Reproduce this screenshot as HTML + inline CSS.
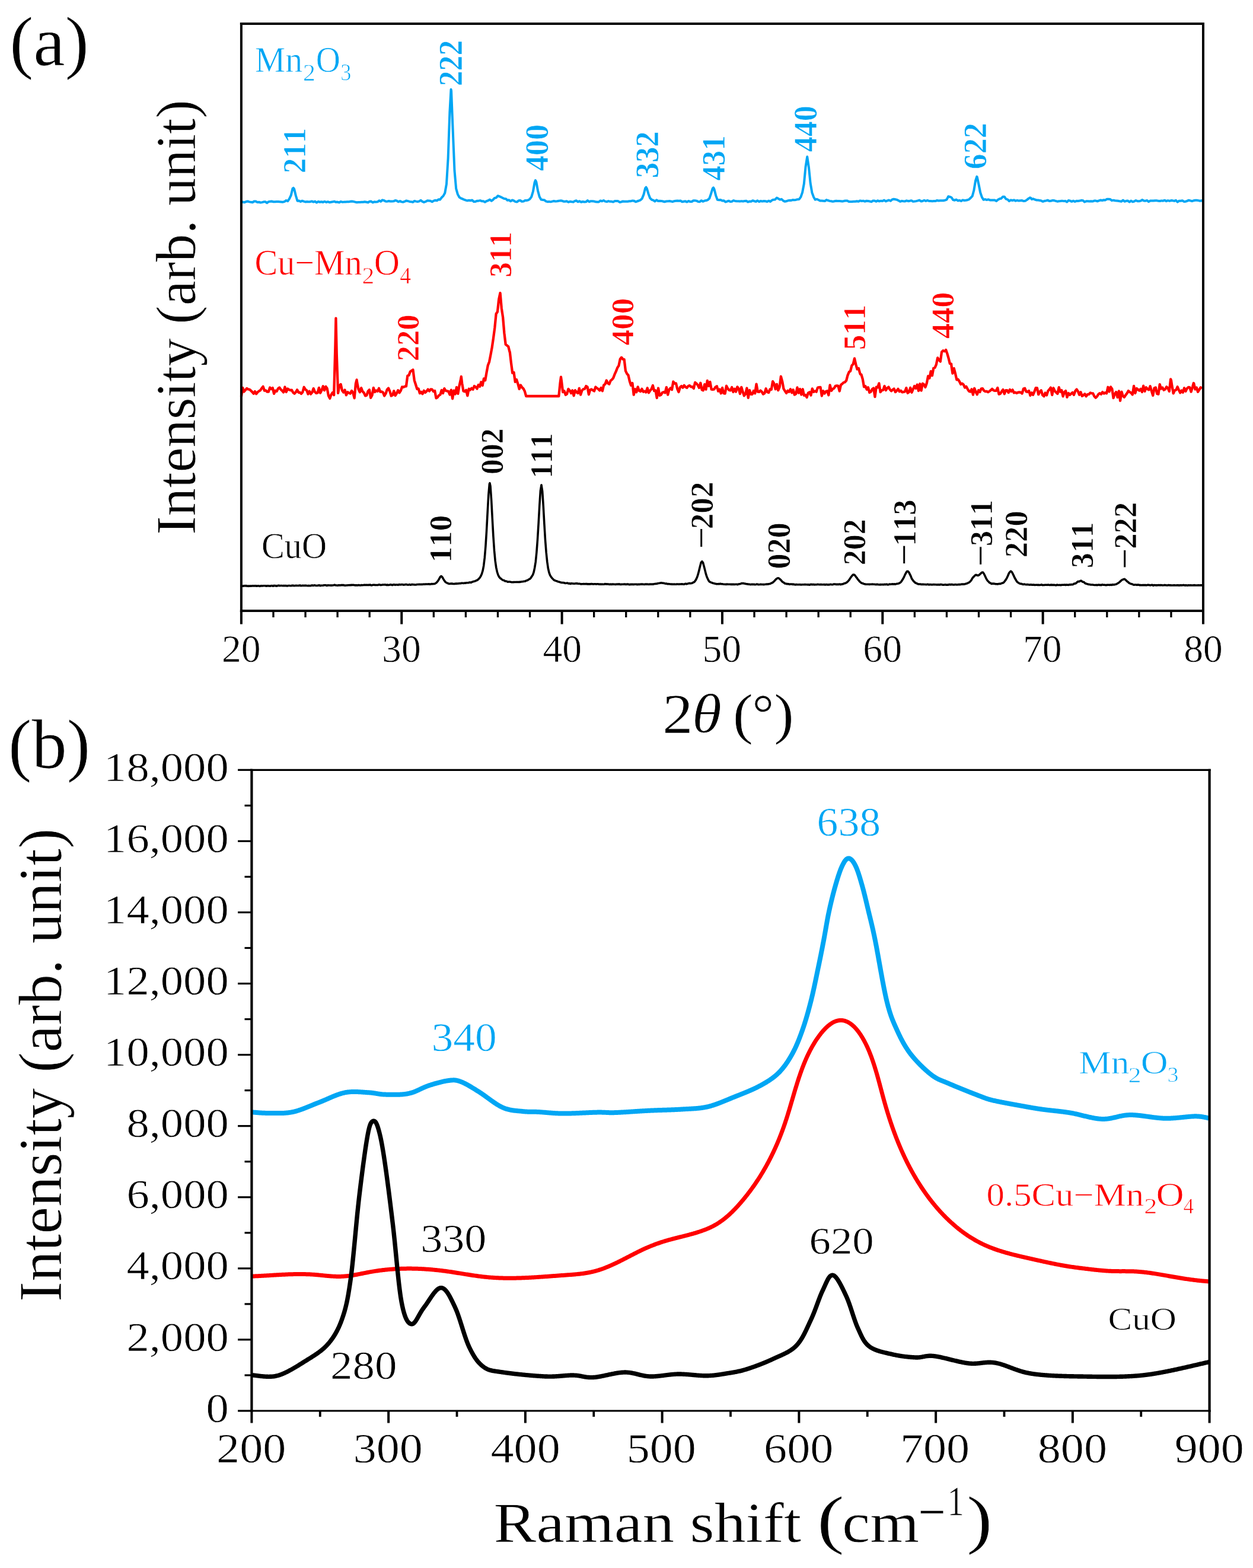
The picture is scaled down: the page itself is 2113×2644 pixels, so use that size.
<!DOCTYPE html>
<html><head><meta charset="utf-8"><title>XRD and Raman spectra</title>
<style>
html,body{margin:0;padding:0;background:#fff;}
body{width:2113px;height:2644px;overflow:hidden;}
svg{display:block;}
svg text{font-family:'Liberation Serif', 'Times New Roman', serif;font-kerning:none;text-rendering:geometricPrecision;}
</style></head><body>
<svg width="2113" height="2644" viewBox="0 0 2113 2644">
<rect width="2113" height="2644" fill="#fff"/>
<g>
<path d="M406.9 339.54 L409.6 340.74 L412.31 341.2 L415.01 340.06 L417.71 339.44 L420.42 340.38 L423.12 340.79 L425.82 341.25 L428.53 339.5 L431.23 339.44 L433.94 340.93 L436.64 340.75 L439.34 341.54 L442.05 341.11 L444.75 340.29 L447.45 340.15 L450.16 342.27 L452.86 340.11 L455.56 339.72 L458.27 339.44 L460.97 340.34 L463.67 340.35 L466.38 339.94 L469.08 340.11 L471.78 340.29 L474.49 340.52 L477.19 340.69 L479.89 339.83 L482.6 338 L485.3 339.13 L488 335.22 L490.71 329.47 L493.41 318.09 L494.76 316.87 L496.12 318.61 L498.82 329.75 L501.52 338.74 L504.23 338.55 L506.93 339.94 L509.63 338.64 L512.34 339.61 L515.04 340.44 L517.74 339.96 L520.45 340.36 L523.15 340.2 L525.85 339.4 L528.56 340.6 L531.26 339.58 L533.96 341.61 L536.67 339.84 L539.37 340.74 L542.08 340.23 L544.78 340.95 L547.48 339.78 L550.19 340.98 L552.89 340.14 L555.59 341.18 L558.3 340.7 L561 340.34 L563.7 339.65 L566.41 340.81 L569.11 340.58 L571.81 341.46 L574.52 339.94 L577.22 340.63 L579.92 340.59 L582.63 340.42 L585.33 340.36 L588.03 340.34 L590.74 339.75 L593.44 339.43 L596.14 339.89 L598.85 340.62 L601.55 341.31 L604.26 340.9 L606.96 340.95 L609.66 340.73 L612.37 340.66 L615.07 340.27 L617.77 340.7 L620.48 341.43 L623.18 339.84 L625.88 339.54 L628.59 341.5 L631.29 340.17 L633.99 340.63 L636.7 340.35 L639.4 338.25 L642.1 339.75 L644.81 337.32 L647.51 338.02 L650.21 339.59 L652.92 339.67 L655.62 339.06 L658.33 339.56 L661.03 339.56 L663.73 339.35 L666.44 338.05 L669.14 338.56 L671.84 340.29 L674.55 339.09 L677.25 340.37 L679.95 340.64 L682.66 339.59 L685.36 338.46 L688.06 339.11 L690.77 339.95 L693.47 340.14 L696.17 340.87 L698.88 338.92 L701.58 339.63 L704.28 340.07 L706.99 339.41 L709.69 337.68 L712.4 339.99 L715.1 341.02 L717.8 339.93 L720.51 338.36 L723.21 338.58 L725.91 338.86 L728.62 340.31 L731.32 338.59 L734.02 337.79 L736.73 338.31 L739.43 336.31 L742.13 336.65 L744.84 333.03 L747.54 330.39 L750.24 325.59 L752.95 310.34 L755.65 266.59 L758.36 189.51 L760.52 150.76 L761.06 153.36 L763.76 221.61 L766.47 287.49 L769.17 318.1 L771.87 327.63 L774.58 332.58 L777.28 334.3 L779.98 335.41 L782.69 336.69 L785.39 337.59 L788.09 338.39 L790.8 337.74 L793.5 338.19 L796.2 337.55 L798.91 339.93 L801.61 339.93 L804.31 338.8 L807.02 338.64 L809.72 338.11 L812.42 339.19 L815.13 339.21 L817.83 340.65 L820.54 339.11 L823.24 338.16 L825.94 336.56 L828.65 338.81 L831.35 336.83 L834.05 333.93 L836.76 333.36 L839.46 330.24 L842.16 331.19 L844.87 332.3 L847.57 333.68 L850.27 335.05 L852.98 335.14 L855.68 337.73 L858.38 337.31 L861.09 339.29 L863.79 337.44 L866.49 338.47 L869.2 340.11 L871.9 340.45 L874.61 338.33 L877.31 338.02 L880.01 339.76 L882.72 339.62 L885.42 338.04 L888.12 337.94 L890.83 337.37 L893.53 335.64 L896.23 331.85 L898.94 322.7 L901.64 307.42 L902.99 304.08 L904.34 306.84 L907.05 321.68 L909.75 331.66 L912.45 336.49 L915.16 336.97 L917.86 337.22 L920.56 339.41 L923.27 340.19 L925.97 339.89 L928.68 340.36 L931.38 339.63 L934.08 338.96 L936.79 339.61 L939.49 339.3 L942.19 338.78 L944.9 338.37 L947.6 338.54 L950.3 339.67 L953.01 339.8 L955.71 339.34 L958.41 340.77 L961.12 339.84 L963.82 340.15 L966.52 340.64 L969.23 339.11 L971.93 338.25 L974.63 340.29 L977.34 339.22 L980.04 340.72 L982.75 339.99 L985.45 340.49 L988.15 340.31 L990.86 338.17 L993.56 340.27 L996.26 339.23 L998.97 339.16 L1001.67 339.4 L1004.37 340.3 L1007.08 340.39 L1009.78 340.48 L1012.48 338.47 L1015.19 339.27 L1017.89 337.93 L1020.59 339.63 L1023.3 340.15 L1026 339.12 L1028.7 339.87 L1031.41 339.85 L1034.11 340.43 L1036.82 339.05 L1039.52 339.03 L1042.22 339.07 L1044.93 340.94 L1047.63 340.43 L1050.33 339.5 L1053.04 339.74 L1055.74 339.63 L1058.44 339.67 L1061.15 339.32 L1063.85 339.17 L1066.55 338.4 L1069.26 338.76 L1071.96 340.33 L1074.66 339.27 L1077.37 338.52 L1080.07 337.39 L1082.78 334.81 L1085.48 327.95 L1088.18 317.29 L1089.53 315.71 L1090.89 317.95 L1093.59 327.12 L1096.29 334.16 L1099 336.78 L1101.7 337.65 L1104.4 339.5 L1107.11 337.28 L1109.81 338.99 L1112.51 338.83 L1115.22 338.89 L1117.92 339.47 L1120.62 340.28 L1123.33 339.52 L1126.03 339.37 L1128.73 339.03 L1131.44 339.41 L1134.14 340.19 L1136.84 339.22 L1139.55 338.66 L1142.25 338.57 L1144.96 338.69 L1147.66 338.47 L1150.36 340.33 L1153.07 339.77 L1155.77 339.32 L1158.47 340.58 L1161.18 338.98 L1163.88 340.02 L1166.58 340.04 L1169.29 338.25 L1171.99 338.21 L1174.69 338.65 L1177.4 339.97 L1180.1 340.19 L1182.8 338.2 L1185.51 339.77 L1188.21 338.47 L1190.91 338.09 L1193.62 337.09 L1196.32 334.59 L1199.03 326.68 L1201.73 317.79 L1203.08 316.36 L1204.43 318.91 L1207.14 329.6 L1209.84 336.86 L1212.54 337.23 L1215.25 337.06 L1217.95 338.42 L1220.65 338.23 L1223.36 340.55 L1226.06 339.59 L1228.76 338.67 L1231.47 339.97 L1234.17 339.7 L1236.87 338.1 L1239.58 338.94 L1242.28 339.17 L1244.98 339.37 L1247.69 339.46 L1250.39 339.11 L1253.1 339.51 L1255.8 338.92 L1258.5 338.69 L1261.21 340.49 L1263.91 339.62 L1266.61 339.67 L1269.32 338.14 L1272.02 339.2 L1274.72 339.92 L1277.43 338.32 L1280.13 340.09 L1282.83 338.96 L1285.54 339.52 L1288.24 339.08 L1290.94 339.3 L1293.65 339.97 L1296.35 338.66 L1299.05 339.93 L1301.76 337.72 L1304.46 336.68 L1307.17 336.41 L1309.87 333.59 L1311.22 334.06 L1312.57 335.03 L1315.28 336.66 L1317.98 335.84 L1320.68 338.39 L1323.39 339.78 L1326.09 339.34 L1328.79 338.23 L1331.5 337.86 L1334.2 337.93 L1336.9 337.04 L1339.61 337.37 L1342.31 336.92 L1345.01 336.19 L1347.72 335.9 L1350.42 332.17 L1353.12 324.36 L1355.83 309.94 L1358.53 281.38 L1361.24 264.32 L1363.94 282.08 L1366.64 308.89 L1369.35 324.71 L1372.05 332.16 L1374.75 336.66 L1377.46 335.85 L1380.16 336.98 L1382.86 338.43 L1385.57 338.51 L1388.27 338.78 L1390.97 339.05 L1393.68 337.08 L1396.38 338.02 L1399.08 338.86 L1401.79 339.21 L1404.49 339.86 L1407.19 339.29 L1409.9 338.8 L1412.6 339.05 L1415.31 338.89 L1418.01 339.26 L1420.71 339.6 L1423.42 338.85 L1426.12 338.51 L1428.82 338.49 L1431.53 339.97 L1434.23 340.12 L1436.93 339.91 L1439.64 339.81 L1442.34 339.8 L1445.04 339.18 L1447.75 339.68 L1450.45 338.39 L1453.15 339.03 L1455.86 338.63 L1458.56 339.73 L1461.26 338.75 L1463.97 339.1 L1466.67 339.48 L1469.38 340.19 L1472.08 338.57 L1474.78 338.45 L1477.49 339.76 L1480.19 338.3 L1482.89 339.45 L1485.6 338.66 L1488.3 338.98 L1491 337.63 L1493.71 339.44 L1496.41 338.3 L1499.11 337.49 L1501.82 338.75 L1504.52 336.44 L1507.22 335.72 L1509.93 336.21 L1512.63 336.92 L1515.34 338.23 L1518.04 339.86 L1520.74 338.85 L1523.45 339.3 L1526.15 339.4 L1528.85 338.36 L1531.56 339.16 L1534.26 338.69 L1536.96 338.14 L1539.67 339.74 L1542.37 339.58 L1545.07 339.14 L1547.78 338.4 L1550.48 337.57 L1553.18 339.43 L1555.89 338.99 L1558.59 337.79 L1561.29 339 L1564 337.89 L1566.7 338.99 L1569.41 339.1 L1572.11 339.23 L1574.81 339.1 L1577.52 339.03 L1580.22 337.99 L1582.92 338.49 L1585.63 338.29 L1588.33 338.31 L1591.03 338.29 L1593.74 337.64 L1596.44 336.69 L1599.14 331.28 L1601.85 331.98 L1604.55 333 L1607.25 337.06 L1609.96 337.7 L1612.66 336.6 L1615.36 338.47 L1618.07 337.86 L1620.77 338.98 L1623.47 337.36 L1626.18 337.92 L1628.88 337.65 L1631.59 337.27 L1634.29 336.18 L1636.99 333.55 L1639.7 330.69 L1642.4 320.66 L1645.1 304.58 L1647.27 297.84 L1647.81 298.62 L1650.51 311.22 L1653.21 324.76 L1655.92 332.69 L1658.62 336.83 L1661.32 336.09 L1664.03 337.06 L1666.73 336.37 L1669.43 337.47 L1672.14 337.54 L1674.84 337.41 L1677.55 337.52 L1680.25 339.07 L1682.95 336.73 L1685.66 335.15 L1688.36 334.67 L1691.06 331.78 L1693.77 331.77 L1696.47 335.63 L1699.17 336.32 L1701.88 339.15 L1704.58 337.38 L1707.28 338.05 L1709.99 337.36 L1712.69 338.69 L1715.39 337.87 L1718.1 338.59 L1720.8 338.33 L1723.5 338.08 L1726.21 339.08 L1728.91 338.66 L1731.61 337.11 L1734.32 334.93 L1737.02 333.35 L1738.37 333.94 L1739.73 335.95 L1742.43 335.28 L1745.13 336.5 L1747.84 337.48 L1750.54 337.61 L1753.24 337.89 L1755.95 338.55 L1758.65 339.83 L1761.35 338.79 L1764.06 338.43 L1766.76 337.62 L1769.46 339.01 L1772.17 338.84 L1774.87 337.95 L1777.57 338.06 L1780.28 338.84 L1782.98 339.64 L1785.68 339.35 L1788.39 339.04 L1791.09 338.64 L1793.8 339.12 L1796.5 338.87 L1799.2 340.51 L1801.91 338.03 L1804.61 338.6 L1807.31 339.83 L1810.02 338.68 L1812.72 339.94 L1815.42 338.84 L1818.13 338.97 L1820.83 338.58 L1823.53 337.82 L1826.24 338.12 L1828.94 340.51 L1831.64 339.32 L1834.35 339.28 L1837.05 339.53 L1839.75 339.23 L1842.46 339.55 L1845.16 338.57 L1847.87 338.57 L1850.57 339.43 L1853.27 338.35 L1855.98 337.47 L1858.68 338.02 L1861.38 337.28 L1864.09 337.44 L1866.79 335.68 L1869.49 335.69 L1872.2 335.97 L1874.9 338.14 L1877.6 337.64 L1880.31 338.29 L1883.01 338.45 L1885.71 338.81 L1888.42 339.35 L1891.12 339.74 L1893.82 337.49 L1896.53 339.76 L1899.23 338.75 L1901.94 338.52 L1904.64 340.56 L1907.34 338.64 L1910.05 340.23 L1912.75 339.5 L1915.45 338 L1918.16 339.14 L1920.86 339.33 L1923.56 338.68 L1926.27 337.03 L1928.97 338.52 L1931.67 338.63 L1934.38 337.94 L1937.08 340.14 L1939.78 338.59 L1942.49 338.47 L1945.19 338.54 L1947.89 338.18 L1950.6 338.18 L1953.3 338.83 L1956.01 338.99 L1958.71 338.38 L1961.41 338.69 L1964.12 337.71 L1966.82 339.14 L1969.52 338.18 L1972.23 338.91 L1974.93 338.06 L1977.63 338.35 L1980.34 338.9 L1983.04 337.83 L1985.74 340.58 L1988.45 338.7 L1991.15 338.67 L1993.85 338.17 L1996.56 339.92 L1999.26 339.76 L2001.96 338.94 L2004.67 337.69 L2007.37 338.33 L2010.08 339.17 L2012.78 338.32 L2015.48 337.81 L2018.19 337.81 L2020.89 338.12 L2023.59 338.7 L2026.3 338.2 L2029 338.7" fill="none" stroke="#00A6F4" stroke-width="4" stroke-linejoin="round" stroke-linecap="butt"/>
<path d="M406.9 668.87 L409.2 653.82 L411.5 660.44 L413.79 657.77 L416.09 654.95 L418.39 656.38 L420.69 656.66 L422.99 658.62 L425.28 660.88 L427.58 663.79 L429.88 660.08 L432.18 664.17 L434.48 661.14 L436.77 659.54 L439.07 658.07 L441.37 654.63 L443.67 651.85 L445.97 658.75 L448.26 658.37 L450.56 660.63 L452.86 660.69 L455.16 653.45 L457.46 655.97 L459.75 654.14 L462.05 663.83 L464.35 658.76 L466.65 659.86 L468.95 655.21 L471.24 653.56 L473.54 656.71 L475.84 658.92 L478.14 661.51 L480.44 652.52 L482.73 660.95 L485.03 655.57 L487.33 657.12 L489.63 658.04 L491.93 657.64 L494.22 661.74 L496.52 663.69 L498.82 661.3 L501.12 657.35 L503.41 661.76 L505.71 661.62 L508.01 663.88 L510.31 661.24 L512.61 652.75 L514.9 656.68 L517.2 658.35 L519.5 664.42 L521.8 659.67 L524.1 664.46 L526.39 661.71 L528.69 655.04 L530.99 660.69 L533.29 663.04 L535.59 662.42 L537.88 653.9 L540.18 662.6 L542.48 658.05 L544.78 651.18 L547.08 658.2 L549.37 651.86 L551.67 655.03 L553.97 667.33 L556.27 671.9 L558.57 665.35 L560.86 662.01 L563.16 666.07 L565.46 582.15 L566.41 536.67 L567.76 596.94 L570.06 662.82 L572.35 650.2 L574.65 647.96 L576.95 658.22 L579.25 661.64 L581.55 657.52 L583.84 666.26 L586.14 661.18 L588.44 662.57 L590.74 663.66 L593.04 658.95 L595.33 662.43 L597.63 671.33 L599.93 646.74 L601.55 640.43 L602.23 645.18 L604.53 656.63 L606.82 661.36 L609.12 654.1 L611.42 660.08 L613.72 662.37 L616.02 667.35 L618.31 666.65 L620.61 659.74 L622.91 657.35 L625.21 670.84 L627.51 666.58 L629.8 653.81 L632.1 661.03 L634.4 658.48 L636.7 659.85 L639 654.8 L641.29 660.75 L643.59 660.32 L645.89 661.61 L648.19 667.46 L650.49 663.7 L652.78 657.01 L655.08 654.54 L657.38 659.96 L659.68 667.53 L661.98 666.42 L664.27 659.21 L666.57 667.01 L668.87 663.35 L671.17 658.15 L673.47 662.26 L675.76 658.88 L678.06 652.42 L680.36 652.86 L682.66 651.56 L684.95 651.36 L687.25 633.8 L689.55 632.69 L691.85 626.48 L694.15 625.11 L696.44 623.43 L698.74 641.35 L701.04 648.49 L703.34 655.92 L705.64 655.33 L707.93 663.17 L710.23 660.86 L712.53 664.21 L714.83 658.83 L717.13 661.86 L719.42 659.65 L721.72 656.5 L724.02 659.52 L726.32 656.47 L728.62 656.59 L730.91 659.99 L733.21 659.06 L735.51 671.4 L737.81 670.06 L740.11 666.86 L742.4 665.51 L744.7 657.87 L747 663.08 L749.3 655.09 L751.6 658.79 L753.89 659.4 L756.19 659.85 L758.49 665.42 L760.79 657.64 L763.09 672.26 L765.38 658.54 L767.68 664.58 L769.98 652.99 L772.28 663.89 L774.58 650.42 L776.87 640.24 L777.82 635.01 L779.17 646.34 L781.47 659.4 L783.77 660.27 L786.07 657.75 L788.36 667.24 L790.66 655.68 L792.96 657.41 L795.26 654.63 L797.56 656.78 L799.85 650.91 L802.15 652.49 L804.45 655.52 L806.75 648.96 L809.05 651.76 L811.34 644.24 L813.64 650.07 L815.94 638.39 L818.24 641.32 L820.54 628.07 L822.83 615.97 L825.13 609.95 L827.43 598.18 L829.73 585.64 L832.03 569.95 L834.32 552.66 L836.62 529.26 L838.92 525.74 L841.22 504.61 L843.52 494 L845.81 519.95 L848.11 535.04 L850.41 561.97 L852.71 580.87 L855.01 582.56 L857.3 584.46 L859.6 593.85 L859.74 593.37 L861.9 611.84 L864.2 628.88 L866.49 627.86 L868.79 643.83 L871.09 640.11 L873.39 647.31 L875.69 655.91 L877.98 649.47 L880.28 653.13 L882.58 655.34 L884.88 659.7 L887.18 668 L889.47 668 L891.77 668 L894.07 668 L896.37 668 L898.67 668 L900.96 668 L903.26 668 L905.56 668 L907.86 668 L910.16 668 L912.45 668 L914.75 668 L917.05 668 L919.35 668 L921.65 668 L923.94 668 L926.24 668 L928.54 668 L930.84 668 L933.14 668 L935.43 668 L937.73 668 L940.03 668 L942.33 668 L944.63 645.77 L945.98 635.69 L946.92 642.29 L949.22 661.16 L951.52 659.32 L953.82 665.87 L956.12 664.16 L958.41 655.92 L960.71 658.41 L963.01 663.02 L965.31 658.36 L967.61 667.21 L969.9 658.08 L972.2 661.53 L974.5 663.01 L976.8 654.78 L979.1 665.58 L981.39 658.63 L983.69 656.09 L985.99 655.94 L988.29 651.07 L990.59 652.33 L992.88 665.24 L995.18 657.41 L997.48 656.33 L999.78 658.12 L1002.08 659.39 L1004.37 652.49 L1006.67 654.52 L1008.97 655.96 L1011.27 658.46 L1013.57 653.9 L1015.86 659.26 L1018.16 649.51 L1020.46 647.73 L1022.76 641.51 L1025.06 646.24 L1027.35 647.81 L1029.65 641.91 L1031.95 640.09 L1034.25 637.27 L1036.55 631.23 L1038.84 626.13 L1041.14 620.19 L1043.44 616.66 L1045.74 605.61 L1048.04 602.65 L1050.33 605.65 L1052.63 606.13 L1054.93 625.34 L1057.23 630.09 L1059.52 632.74 L1061.82 642.71 L1064.12 649.71 L1066.42 646.04 L1068.72 665.67 L1071.01 656.11 L1073.31 661.19 L1075.61 652.36 L1077.91 658.93 L1080.21 660.11 L1082.5 655.81 L1084.8 660.68 L1087.1 659.65 L1089.4 661.49 L1091.7 654.29 L1093.99 662.3 L1096.29 658.66 L1098.59 656.08 L1100.89 649.92 L1103.19 659.17 L1105.48 658.35 L1107.78 671 L1110.08 654.51 L1112.38 666.91 L1114.68 665.81 L1116.97 661.93 L1119.27 661.15 L1121.57 662.28 L1123.87 653 L1126.17 665.65 L1128.46 656.99 L1130.76 654.38 L1133.06 657.04 L1135.36 643.53 L1137.66 646.58 L1139.55 646.46 L1139.95 646.36 L1142.25 655.79 L1144.55 661.01 L1146.85 653.17 L1149.15 651 L1151.44 653.63 L1153.74 649.8 L1156.04 652.69 L1158.34 653.93 L1160.64 650.97 L1162.93 650.09 L1165.23 652.27 L1167.53 652.18 L1169.83 654.98 L1172.13 644.89 L1174.42 646.64 L1176.72 649.5 L1179.02 653.94 L1181.32 645.7 L1183.62 657.17 L1185.91 658.18 L1188.21 648.13 L1190.51 656.62 L1192.81 641.81 L1195.11 650.92 L1197.4 643.92 L1199.7 656.6 L1202 656.76 L1204.3 656.43 L1206.6 652.61 L1208.89 651.3 L1211.19 659.63 L1213.49 656.56 L1215.79 663.24 L1218.09 653.92 L1220.38 663.19 L1222.68 663.56 L1224.98 650.69 L1227.28 655.25 L1229.58 657.81 L1231.87 658.27 L1234.17 653.05 L1236.47 661.02 L1238.77 655.7 L1241.06 660.52 L1243.36 652.39 L1245.66 655.35 L1247.96 663.95 L1250.26 652.82 L1252.55 660.51 L1254.85 667.3 L1257.15 664.32 L1259.45 654.47 L1261.75 670.76 L1264.04 657.92 L1266.34 664.74 L1268.64 664.83 L1270.94 658.9 L1273.24 663.24 L1275.53 647.59 L1277.83 660.67 L1280.13 660.94 L1282.43 658.57 L1284.73 660.68 L1287.02 664.54 L1289.32 663.21 L1291.62 655.27 L1293.92 661.03 L1296.22 662.05 L1298.51 656.41 L1300.81 656.91 L1303.11 643.07 L1305.41 646.82 L1307.71 656.24 L1310 647.9 L1312.3 658.19 L1314.6 652.76 L1316.9 634.77 L1319.2 643.21 L1321.49 655.7 L1323.79 659.33 L1326.09 662.96 L1328.39 658.85 L1330.69 660.73 L1332.98 656.24 L1335.28 662.18 L1337.58 657.35 L1339.88 665.55 L1342.18 664.18 L1344.47 653.44 L1346.77 662.58 L1349.07 655.97 L1351.37 665.46 L1353.67 656.27 L1355.96 666.85 L1358.26 665.96 L1360.56 670.04 L1362.86 662.57 L1365.16 661.27 L1367.45 666.64 L1369.75 655.4 L1372.05 660.82 L1374.35 659.53 L1376.65 660.69 L1378.94 653.65 L1381.24 653.16 L1383.54 652.98 L1385.84 667.53 L1388.14 659.16 L1390.43 663.5 L1392.73 659.95 L1395.03 659.3 L1397.33 666.24 L1399.63 649.41 L1401.92 658.81 L1404.22 655.9 L1406.52 654.76 L1408.82 650.87 L1411.12 650.31 L1413.41 650.6 L1415.71 659.45 L1418.01 649.03 L1420.31 647.21 L1422.6 645.01 L1424.9 644.48 L1427.2 641.66 L1429.5 632.82 L1431.8 627.19 L1434.09 625.61 L1436.39 616.45 L1438.69 614.08 L1440.99 604.38 L1443.29 614.54 L1445.58 622.55 L1447.88 620.99 L1450.18 629.29 L1450.99 631.18 L1452.48 631.63 L1454.78 639.27 L1457.07 652.43 L1459.37 651.29 L1461.67 656.75 L1463.97 653.3 L1466.27 661.83 L1468.56 660.65 L1470.86 656.24 L1473.16 654.48 L1475.46 669.1 L1477.76 652.69 L1480.05 653.32 L1482.35 646.41 L1484.65 661.06 L1486.95 658.24 L1489.25 657.61 L1491.54 651.01 L1493.84 658.09 L1496.14 654.39 L1498.44 652.63 L1500.74 656.86 L1503.03 659.34 L1505.33 657.2 L1507.63 655.52 L1509.93 661.11 L1512.23 658.8 L1514.52 655.9 L1516.82 660.13 L1519.12 658.77 L1521.42 661.45 L1523.72 660.93 L1526.01 660.37 L1528.31 654.12 L1530.61 662.69 L1532.91 661.07 L1535.21 653.83 L1537.5 661.76 L1539.8 656.2 L1542.1 650.86 L1544.4 654.84 L1546.7 648.63 L1548.99 658.99 L1551.29 647.26 L1553.59 658.68 L1555.89 646.75 L1558.19 648.47 L1560.48 652.92 L1562.78 646.29 L1565.08 634.3 L1567.38 637.81 L1569.68 626.23 L1571.97 633.26 L1574.27 620.8 L1576.57 620.01 L1578.87 614.69 L1581.17 603.41 L1583.46 607.15 L1585.76 609.62 L1588.06 593.53 L1590.36 591.28 L1592.66 592.26 L1594.95 591.6 L1595.09 589.84 L1597.25 595.95 L1599.55 603.83 L1601.85 613.22 L1604.14 613.58 L1604.55 617.62 L1606.44 629.69 L1608.74 621.17 L1611.04 630.02 L1613.34 640.34 L1615.63 639.7 L1617.93 643.24 L1620.23 648.02 L1622.53 646.58 L1624.83 648.64 L1627.12 653.6 L1629.42 651.78 L1631.72 656.01 L1634.02 659.74 L1636.32 660.56 L1638.61 656.31 L1640.91 665.56 L1643.21 654.73 L1645.51 660.82 L1647.81 665.2 L1650.1 658.05 L1652.4 661.07 L1654.7 655.38 L1657 655.11 L1659.3 658.76 L1661.59 660.16 L1663.89 659.76 L1666.19 661.24 L1668.49 659.79 L1670.79 658.04 L1673.08 655.76 L1675.38 658.13 L1677.68 658.94 L1679.98 658.74 L1682.28 653.96 L1684.57 664.68 L1686.87 663.98 L1689.17 660.14 L1691.47 657 L1693.77 664.19 L1696.06 658.25 L1698.36 658.24 L1700.66 662.08 L1702.96 656.98 L1705.26 660.09 L1707.55 657.37 L1709.85 662.36 L1712.15 661.57 L1714.45 662.94 L1716.75 661.73 L1719.04 661.27 L1721.34 661.57 L1723.64 663.47 L1725.94 655.62 L1728.24 654.7 L1730.53 660.34 L1732.83 660.78 L1735.13 658.98 L1737.43 666.86 L1739.73 662.27 L1742.02 665.85 L1744.32 660.67 L1746.62 654.12 L1748.92 654.16 L1751.22 665.19 L1753.51 660.57 L1755.81 658.25 L1758.11 666.21 L1760.41 668.23 L1762.71 662.38 L1765 666.47 L1767.3 659.43 L1769.6 656.68 L1771.9 653.61 L1774.2 665.98 L1776.49 654.27 L1778.79 659.47 L1781.09 661.69 L1783.39 664.06 L1785.68 653.19 L1787.98 660.59 L1790.28 658.08 L1792.58 668.33 L1794.88 661.07 L1797.17 659.08 L1799.47 669.72 L1801.77 662.89 L1804.07 665.8 L1806.37 663.81 L1808.66 661.74 L1810.96 665.86 L1813.26 659.41 L1815.56 656.54 L1817.86 659.88 L1820.15 665.71 L1822.45 661.28 L1824.75 667.83 L1827.05 666.36 L1829.35 664.19 L1831.64 668.26 L1833.94 665.12 L1836.24 664.95 L1838.54 662.39 L1840.84 663.19 L1843.13 663.33 L1845.43 668.34 L1847.73 670.69 L1850.03 668.48 L1852.33 664.76 L1854.62 663.12 L1856.92 664.8 L1859.22 661.1 L1861.52 663.56 L1863.82 662.12 L1866.11 663.35 L1868.41 652.74 L1870.71 660.4 L1873.01 652.4 L1875.31 655.65 L1877.6 671.11 L1879.9 664.17 L1882.2 661.11 L1884.5 669.94 L1886.8 659.45 L1889.09 675.72 L1891.39 660.55 L1893.69 667.88 L1895.99 669.7 L1898.29 666.06 L1900.58 663.16 L1902.88 659.05 L1905.18 661.16 L1907.48 662.39 L1909.78 665.39 L1912.07 650.8 L1914.37 662.96 L1916.67 654.86 L1918.97 656.72 L1921.27 658.62 L1923.56 655.88 L1925.86 660.97 L1928.16 650.65 L1930.46 659.83 L1932.76 653.18 L1935.05 656.01 L1937.35 657.24 L1939.65 651.28 L1941.95 659.33 L1944.25 666.88 L1946.54 654.5 L1948.84 653.37 L1951.14 663.98 L1953.44 664.63 L1955.74 648.11 L1958.03 655.54 L1960.33 653.49 L1962.63 657.73 L1964.93 656.46 L1967.23 652.29 L1969.52 654.59 L1971.82 659.89 L1974.12 639.44 L1974.93 641.15 L1976.42 650.72 L1978.71 663.39 L1981.01 658.27 L1983.31 657.56 L1985.61 652.31 L1987.91 657.61 L1990.2 662.41 L1992.5 658.47 L1994.8 661.83 L1997.1 654.24 L1999.4 659.78 L2001.69 655.09 L2003.99 653.01 L2006.29 653.19 L2008.59 660.56 L2010.89 653.3 L2012.78 646.05 L2013.18 646.28 L2015.48 656.51 L2017.78 653.5 L2020.08 660.77 L2022.38 657.17 L2024.67 653.29 L2026.97 654.95" fill="none" stroke="#FF0000" stroke-width="4.3" stroke-linejoin="round" stroke-linecap="butt"/>
<path d="M406.9 987.9 L408.52 987.9 L410.14 988.29 L411.77 987.62 L413.39 988.08 L415.01 987.6 L416.63 988.33 L418.25 988.12 L419.88 988.36 L421.5 987.94 L423.12 988.13 L424.74 987.96 L426.37 987.85 L427.99 988.03 L429.61 987.71 L431.23 987.9 L432.85 988.12 L434.48 987.97 L436.1 987.85 L437.72 988.41 L439.34 987.93 L440.96 987.78 L442.59 987.93 L444.21 987.76 L445.83 987.78 L447.45 987.78 L449.07 988.29 L450.7 987.84 L452.32 987.86 L453.94 987.95 L455.56 988.24 L457.19 987.73 L458.81 987.63 L460.43 988.3 L462.05 987.42 L463.67 987.65 L465.3 987.87 L466.92 988.21 L468.54 987.49 L470.16 987.15 L471.78 987.81 L473.41 987.54 L475.03 987.56 L476.65 987.73 L478.27 987.67 L479.89 987.67 L481.52 987.5 L483.14 987.87 L484.76 987.9 L486.38 987.56 L488 987.45 L489.63 987.69 L491.25 987.63 L492.87 987.28 L494.49 987.39 L496.12 987.71 L497.74 987.45 L499.36 987.39 L500.98 987.49 L502.6 987.43 L504.23 987.42 L505.85 986.98 L507.47 987.78 L509.09 987.43 L510.71 987.18 L512.34 987.57 L513.96 987.41 L515.58 987.34 L517.2 987.55 L518.82 987.8 L520.45 987.42 L522.07 987.63 L523.69 987.74 L525.31 987.03 L526.94 987.13 L528.56 987.4 L530.18 986.84 L531.8 987.15 L533.42 987.48 L535.05 987.41 L536.67 987.29 L538.29 986.74 L539.91 987.66 L541.53 987.25 L543.16 987.29 L544.78 987.21 L546.4 986.71 L548.02 986.76 L549.64 986.8 L551.27 987.47 L552.89 986.86 L554.51 986.97 L556.13 986.96 L557.76 987.13 L559.38 987.1 L561 987.03 L562.62 986.68 L564.24 986.26 L565.87 986.97 L567.49 986.98 L569.11 987.18 L570.73 986.87 L572.35 986.75 L573.98 986.96 L575.6 986.52 L577.22 986.62 L578.84 986.61 L580.46 986.88 L582.09 987.27 L583.71 986.96 L585.33 987.03 L586.95 986.82 L588.58 986.81 L590.2 986.64 L591.82 986.66 L593.44 986.18 L595.06 986.43 L596.69 986.4 L598.31 986.86 L599.93 986.8 L601.55 986.9 L603.17 986.97 L604.8 986.55 L606.42 986.84 L608.04 987.02 L609.66 986.58 L611.28 986.8 L612.91 986.51 L614.53 986.18 L616.15 986.55 L617.77 986.33 L619.4 986.52 L621.02 986.38 L622.64 986.54 L624.26 985.98 L625.88 986.9 L627.51 986.72 L629.13 986.33 L630.75 986.2 L632.37 986.38 L633.99 986.52 L635.62 986.45 L637.24 986.43 L638.86 985.89 L640.48 986.06 L642.1 986.59 L643.73 986.33 L645.35 985.93 L646.97 986.06 L648.59 985.92 L650.21 985.99 L651.84 986.46 L653.46 986.14 L655.08 986.42 L656.7 986.2 L658.33 985.81 L659.95 985.98 L661.57 986.62 L663.19 985.92 L664.81 985.84 L666.44 986.34 L668.06 986.06 L669.68 986.03 L671.3 986.34 L672.92 985.6 L674.55 986.07 L676.17 985.72 L677.79 985.63 L679.41 985.74 L681.03 986.16 L682.66 985.85 L684.28 985.46 L685.9 985.6 L687.52 986.17 L689.15 986.04 L690.77 985.54 L692.39 986.31 L694.01 985.66 L695.63 985.46 L697.26 985.67 L698.88 985.89 L700.5 986.02 L702.12 985.86 L703.74 985.51 L705.37 985.45 L706.99 985.22 L708.61 985.5 L710.23 985.35 L711.85 985.51 L713.48 985.13 L715.1 985.26 L716.72 985.14 L718.34 985.02 L719.97 984.97 L721.59 984.95 L723.21 984.85 L724.83 985.16 L726.45 984.96 L728.08 984.52 L729.7 984.78 L731.32 984.52 L732.94 984.43 L734.56 983.45 L736.19 982.38 L737.81 980.54 L739.43 978.22 L741.05 975.28 L742.67 972.53 L744.03 971.57 L744.3 971.64 L745.92 973.21 L747.54 976.11 L749.16 978.68 L750.79 981.12 L752.41 982.27 L754.03 983.12 L755.65 983.78 L757.27 984.44 L758.9 984.31 L760.52 984.15 L762.14 984.13 L763.76 984.4 L765.38 984.48 L767.01 984.42 L768.63 984.07 L770.25 984.11 L771.87 983.94 L773.49 983.88 L775.12 983.68 L776.74 983.73 L778.36 983.2 L779.98 983.31 L781.61 983.56 L783.23 983.12 L784.85 983.3 L786.47 982.72 L788.09 982.74 L789.72 982.7 L791.34 982.13 L792.96 981.93 L794.58 982.33 L796.2 981.25 L797.83 980.82 L799.45 980.35 L801.07 979.9 L802.69 979.18 L804.31 978.55 L805.94 977.45 L807.56 975.85 L809.18 974.11 L810.8 971.44 L812.42 967.84 L814.05 962.47 L815.67 954.06 L817.29 940.5 L818.91 921.18 L820.54 895.22 L822.16 864.13 L823.78 834.64 L825.4 815.95 L825.94 814.69 L827.02 819.87 L828.65 843.69 L830.27 874.64 L831.89 904.09 L833.51 928.19 L835.13 945.66 L836.76 957.04 L838.38 964.48 L840 969.52 L841.62 972.58 L843.24 974.68 L844.87 975.84 L846.49 977.25 L848.11 978.19 L849.73 978.45 L851.36 979.73 L852.98 979.97 L854.6 980.28 L856.22 981.2 L857.84 980.99 L859.47 981.02 L861.09 981.34 L862.71 981.62 L864.33 981.78 L865.95 981.65 L867.58 981.51 L869.2 981.56 L870.82 981.52 L872.44 981.42 L874.06 981.58 L875.69 981.36 L877.31 981.34 L878.93 980.97 L880.55 980.73 L882.18 980.61 L883.8 980.24 L885.42 980.17 L887.04 979.21 L888.66 978.86 L890.29 978.06 L891.91 976.85 L893.53 976.15 L895.15 974.5 L896.77 971.92 L898.4 969.53 L900.02 965.06 L901.64 957.64 L903.26 947.46 L904.88 931.37 L906.51 909.52 L908.13 882.94 L909.75 853.2 L911.37 827.87 L913 817.8 L914.62 828.26 L916.24 853.19 L917.86 883.07 L919.48 910.02 L921.11 931.41 L922.73 947.18 L924.35 958.48 L925.97 965.54 L927.59 969.91 L929.22 972.7 L930.84 974.68 L932.46 976.38 L934.08 978.05 L935.7 978.75 L937.33 979.38 L938.95 979.83 L940.57 980.7 L942.19 980.93 L943.82 981.54 L945.44 982.05 L947.06 982.42 L948.68 982.48 L950.3 982.6 L951.93 982.94 L953.55 983.47 L955.17 983.32 L956.79 983.06 L958.41 983.86 L960.04 983.69 L961.66 984.52 L963.28 983.73 L964.9 983.9 L966.52 983.94 L968.15 984.17 L969.77 984.02 L971.39 983.89 L973.01 983.85 L974.63 984.31 L976.26 984.27 L977.88 984.3 L979.5 984.95 L981.12 984.7 L982.75 984.8 L984.37 984.48 L985.99 984.7 L987.61 984.62 L989.23 984.65 L990.86 984.89 L992.48 984.89 L994.1 984.85 L995.72 984.84 L997.34 984.5 L998.97 984.68 L1000.59 984.96 L1002.21 984.81 L1003.83 984.74 L1005.45 985.01 L1007.08 984.74 L1008.7 984.81 L1010.32 985.18 L1011.94 984.91 L1013.57 985.33 L1015.19 985.14 L1016.81 985.22 L1018.43 985.3 L1020.05 984.58 L1021.68 985.06 L1023.3 984.8 L1024.92 984.99 L1026.54 985.08 L1028.16 985.4 L1029.79 985.12 L1031.41 985.5 L1033.03 985.03 L1034.65 985.14 L1036.27 985.19 L1037.9 985.38 L1039.52 985.17 L1041.14 985.05 L1042.76 985.12 L1044.39 984.89 L1046.01 985.49 L1047.63 985.38 L1049.25 985.32 L1050.87 985.29 L1052.5 985.1 L1054.12 985.15 L1055.74 985.42 L1057.36 985.07 L1058.98 985.08 L1060.61 985.61 L1062.23 985.61 L1063.85 985.33 L1065.47 985.39 L1067.09 985.31 L1068.72 985.59 L1070.34 985.18 L1071.96 985.3 L1073.58 985.39 L1075.21 985.6 L1076.83 985.23 L1078.45 985.34 L1080.07 985.17 L1081.69 985.14 L1083.32 985.13 L1084.94 985.3 L1086.56 985.47 L1088.18 985.11 L1089.8 985.13 L1091.43 985.16 L1093.05 985.32 L1094.67 985.38 L1096.29 984.92 L1097.91 985.25 L1099.54 984.9 L1101.16 985.21 L1102.78 984.73 L1104.4 984.55 L1106.03 984.4 L1107.65 984.25 L1109.27 983.69 L1110.89 983.56 L1112.51 983.18 L1114.14 982.91 L1115.76 982.86 L1117.38 983.22 L1119 983.2 L1120.62 983.75 L1122.25 984.11 L1123.87 983.97 L1125.49 984.75 L1127.11 984.66 L1128.73 984.79 L1130.36 984.92 L1131.98 985.08 L1133.6 985.15 L1135.22 985.19 L1136.84 984.93 L1138.47 985.23 L1140.09 985.16 L1141.71 984.96 L1143.33 985.02 L1144.96 985.17 L1146.58 985.06 L1148.2 985.07 L1149.82 984.89 L1151.44 985.06 L1153.07 985.23 L1154.69 984.76 L1156.31 984.21 L1157.93 984.83 L1159.55 984.18 L1161.18 983.83 L1162.8 983.4 L1164.42 983.75 L1166.04 983.55 L1167.66 983.04 L1169.29 982.01 L1170.91 981.3 L1172.53 979.23 L1174.15 976.47 L1175.78 972.78 L1177.4 967.65 L1179.02 961.28 L1180.64 954.6 L1182.26 948.41 L1183.89 946.69 L1185.51 948.77 L1187.13 954.66 L1188.75 961.12 L1190.37 967.66 L1192 972.76 L1193.62 976.29 L1195.24 979.38 L1196.86 981.17 L1198.48 981.9 L1200.11 982.42 L1201.73 983.23 L1203.35 983.54 L1204.97 984.03 L1206.6 984.21 L1208.22 984.75 L1209.84 984.68 L1211.46 984.61 L1213.08 984.8 L1214.71 984.22 L1216.33 984.73 L1217.95 984.8 L1219.57 985.03 L1221.19 985.18 L1222.82 985.19 L1224.44 985.39 L1226.06 985.07 L1227.68 985.31 L1229.3 985.24 L1230.93 985.29 L1232.55 985.37 L1234.17 985.25 L1235.79 985.37 L1237.42 985.31 L1239.04 985.53 L1240.66 985.25 L1242.28 985.28 L1243.9 985.66 L1245.53 985.04 L1247.15 984.73 L1248.77 984.5 L1250.39 983.66 L1252.01 983.75 L1253.1 983.57 L1253.64 983.65 L1255.26 984 L1256.88 984.34 L1258.5 984.81 L1260.12 984.73 L1261.75 985.2 L1263.37 985.14 L1264.99 985.62 L1266.61 985.44 L1268.24 985.15 L1269.86 985.48 L1271.48 985.25 L1273.1 985.69 L1274.72 985.4 L1276.35 984.99 L1277.97 985.38 L1279.59 985.68 L1281.21 985.51 L1282.83 985.28 L1284.46 985.54 L1286.08 985.49 L1287.7 985.65 L1289.32 985.48 L1290.94 985.3 L1292.57 984.96 L1294.19 985.08 L1295.81 984.9 L1297.43 984.57 L1299.05 984.25 L1300.68 983.29 L1302.3 982.8 L1303.92 981.5 L1305.54 980.09 L1307.17 978.3 L1308.79 976.56 L1310.41 975.36 L1312.03 974.83 L1313.65 975.24 L1315.28 976.71 L1316.9 978.17 L1318.52 980.13 L1320.14 981.53 L1321.76 982.44 L1323.39 983.85 L1325.01 984.02 L1326.63 984.65 L1328.25 984.62 L1329.87 984.71 L1331.5 985.36 L1333.12 985 L1334.74 984.93 L1336.36 985.39 L1337.99 985.15 L1339.61 985.48 L1341.23 985.96 L1342.85 985.5 L1344.47 985.69 L1346.1 985.76 L1347.72 985.71 L1349.34 985.64 L1350.96 986.01 L1352.58 985.68 L1354.21 985.79 L1355.83 985.74 L1357.45 985.45 L1359.07 985.8 L1360.69 985.75 L1362.32 985.89 L1363.94 985.9 L1365.56 986.1 L1367.18 985.35 L1368.81 985.64 L1370.43 985.66 L1372.05 985.58 L1373.67 985.86 L1375.29 985.75 L1376.92 985.8 L1378.54 985.41 L1380.16 985.56 L1381.78 985.75 L1383.4 985.66 L1385.03 985.62 L1386.65 985.72 L1388.27 985.68 L1389.89 985.51 L1391.51 986.09 L1393.14 985.57 L1394.76 985.85 L1396.38 985.82 L1398 985.89 L1399.63 985.53 L1401.25 985.42 L1402.87 985.71 L1404.49 985.64 L1406.11 985.04 L1407.74 984.95 L1409.36 985.36 L1410.98 985.34 L1412.6 985.31 L1414.22 985.38 L1415.85 984.99 L1417.47 985.67 L1419.09 985.14 L1420.71 985.03 L1422.33 984.51 L1423.96 983.58 L1425.58 983.46 L1427.2 982.4 L1428.82 981.39 L1430.45 979.65 L1432.07 977.81 L1433.69 975.16 L1435.31 972.84 L1436.93 970.73 L1438.56 969.12 L1440.18 969.04 L1441.8 970.27 L1443.42 972.56 L1445.04 974.49 L1446.67 977.11 L1448.29 978.81 L1449.91 980.71 L1451.53 982.23 L1453.15 983.28 L1454.78 983.63 L1456.4 984.47 L1458.02 984.7 L1459.64 985.18 L1461.26 985.26 L1462.89 985.3 L1464.51 985.19 L1466.13 985.4 L1467.75 985.22 L1469.38 985.28 L1471 985.1 L1472.62 985.25 L1474.24 985.29 L1475.86 985.57 L1477.49 985.63 L1479.11 985.33 L1480.73 985.61 L1482.35 985.73 L1483.97 985.85 L1485.6 985.63 L1487.22 985.69 L1488.84 985.56 L1490.46 985.83 L1492.08 985.28 L1493.71 985.65 L1495.33 985.07 L1496.95 985.92 L1498.57 985.71 L1500.2 985.01 L1501.82 985.3 L1503.44 985.04 L1505.06 984.89 L1506.68 985.09 L1508.31 984.87 L1509.93 985.14 L1511.55 984.59 L1513.17 984.18 L1514.79 983.97 L1516.42 983.43 L1518.04 982.53 L1519.66 981.01 L1521.28 978.54 L1522.9 975.99 L1524.53 972.85 L1526.15 969.1 L1527.77 966.06 L1529.39 963.52 L1531.02 963.23 L1532.64 964.89 L1534.26 968.11 L1535.88 971.4 L1537.5 975.61 L1539.13 977.94 L1540.75 980.17 L1542.37 981.59 L1543.99 983.09 L1545.61 983.56 L1547.24 984.43 L1548.86 984.95 L1550.48 985.06 L1552.1 985 L1553.72 985.51 L1555.35 985.3 L1556.97 985.42 L1558.59 985.52 L1560.21 985.47 L1561.84 985.71 L1563.46 985.4 L1565.08 985.33 L1566.7 986 L1568.32 985.62 L1569.95 985.72 L1571.57 985.9 L1573.19 985.74 L1574.81 985.61 L1576.43 985.83 L1578.06 985.68 L1579.68 986.02 L1581.3 985.81 L1582.92 985.86 L1584.54 986.09 L1586.17 985.59 L1587.79 985.6 L1589.41 986.09 L1591.03 986.2 L1592.66 985.95 L1594.28 985.77 L1595.9 986.18 L1597.52 986.02 L1599.14 986.12 L1600.77 985.5 L1602.39 985.85 L1604.01 985.64 L1605.63 985.61 L1607.25 985.95 L1608.88 985.96 L1610.5 985.67 L1612.12 985.68 L1613.74 985.99 L1615.36 985.79 L1616.99 985.57 L1618.61 985.64 L1620.23 985.48 L1621.85 985.1 L1623.47 985.15 L1625.1 985.17 L1626.72 985.06 L1628.34 984.39 L1629.96 984.08 L1631.59 983.55 L1633.21 982.5 L1634.83 981.86 L1636.45 980.12 L1638.07 978.28 L1639.7 975.2 L1641.32 973.09 L1642.94 971.6 L1644.56 969.91 L1646.18 969.31 L1647.81 970.03 L1649.43 970.46 L1651.05 969.73 L1652.67 968.07 L1654.29 966.63 L1655.92 965.19 L1657.27 965.01 L1657.54 965.16 L1659.16 967.25 L1660.78 970.54 L1662.41 974.12 L1664.03 977.24 L1665.65 979.54 L1667.27 981.03 L1668.89 982.82 L1670.52 983.19 L1672.14 984.51 L1673.76 984.08 L1675.38 984.12 L1677 984.24 L1678.63 984.79 L1680.25 984.79 L1681.87 984.85 L1683.49 984.71 L1685.11 984.36 L1686.74 984.51 L1688.36 983.85 L1689.98 983.16 L1691.6 982.86 L1693.23 981.52 L1694.85 979.4 L1696.47 977.1 L1698.09 974.3 L1699.71 970.75 L1701.34 966.79 L1702.96 964.51 L1704.58 963.1 L1706.2 964.33 L1707.82 967.18 L1709.45 970.63 L1711.07 974.24 L1712.69 976.99 L1714.31 979.8 L1715.93 981.78 L1717.56 982.77 L1719.18 983.88 L1720.8 984.39 L1722.42 984.32 L1724.05 984.95 L1725.67 985.4 L1727.29 985.09 L1728.91 985.56 L1730.53 985.72 L1732.16 985.46 L1733.78 985.75 L1735.4 986.07 L1737.02 986.08 L1738.64 985.76 L1740.27 986.24 L1741.89 986.13 L1743.51 986.11 L1745.13 986.44 L1746.75 986.3 L1748.38 986.25 L1750 986.4 L1751.62 986.35 L1753.24 986.5 L1754.87 986.22 L1756.49 985.87 L1758.11 986.61 L1759.73 986.46 L1761.35 986.41 L1762.98 986.31 L1764.6 986.29 L1766.22 986.34 L1767.84 986.12 L1769.46 986.5 L1771.09 986.35 L1772.71 986.13 L1774.33 986.4 L1775.95 986.28 L1777.57 986.34 L1779.2 986.47 L1780.82 986.93 L1782.44 986.11 L1784.06 986.43 L1785.68 986.49 L1787.31 986.42 L1788.93 986.64 L1790.55 986.22 L1792.17 986.22 L1793.8 986.28 L1795.42 985.96 L1797.04 986.47 L1798.66 985.93 L1800.28 986.27 L1801.91 986.35 L1803.53 985.82 L1805.15 985.84 L1806.77 985.65 L1808.39 985.8 L1810.02 985.1 L1811.64 984.13 L1813.26 984.06 L1814.88 983.2 L1816.5 981.57 L1818.13 980.42 L1819.75 980.72 L1821.37 979.65 L1822.99 979.17 L1824.62 980.38 L1826.24 981.33 L1827.86 981.5 L1829.48 983.27 L1831.1 984 L1832.73 984.53 L1834.35 984.92 L1835.97 985.54 L1837.59 985.55 L1839.21 985.95 L1840.84 985.98 L1842.46 986.03 L1844.08 986.31 L1845.7 986.45 L1847.32 986.46 L1848.95 986.39 L1850.57 986.68 L1852.19 986.06 L1853.81 986.36 L1855.44 986.39 L1857.06 986.62 L1858.68 985.86 L1860.3 986.25 L1861.92 986.27 L1863.55 986.37 L1865.17 986.81 L1866.79 986.34 L1868.41 986.24 L1870.03 986.32 L1871.66 986.4 L1873.28 986.08 L1874.9 986.4 L1876.52 985.65 L1878.14 986.01 L1879.77 985.63 L1881.39 985.31 L1883.01 984.88 L1884.63 983.74 L1886.26 982.9 L1887.88 981.65 L1889.5 980.08 L1891.12 978.62 L1892.74 977.39 L1894.37 977.01 L1895.99 976.33 L1897.61 977.29 L1899.23 978.83 L1900.85 980.53 L1902.48 981.61 L1904.1 983.13 L1905.72 983.84 L1907.34 984.5 L1908.96 984.83 L1910.59 985.61 L1912.21 986.21 L1913.83 986.04 L1915.45 985.93 L1917.08 986.38 L1918.7 986.02 L1920.32 986.13 L1921.94 986.67 L1923.56 986.56 L1925.19 986.72 L1926.81 986.59 L1928.43 986.54 L1930.05 986.62 L1931.67 986.54 L1933.3 986.86 L1934.92 986.36 L1936.54 986.25 L1938.16 986.49 L1939.78 986.88 L1941.41 986.58 L1943.03 986.21 L1944.65 987.34 L1946.27 986.53 L1947.89 986.7 L1949.52 986.88 L1951.14 986.84 L1952.76 986.73 L1954.38 986.43 L1956.01 986.89 L1957.63 986.57 L1959.25 986.75 L1960.87 986.96 L1962.49 986.72 L1964.12 986.42 L1965.74 986.68 L1967.36 986.95 L1968.98 986.98 L1970.6 986.55 L1972.23 986.85 L1973.85 986.9 L1975.47 987.08 L1977.09 986.94 L1978.71 986.89 L1980.34 986.79 L1981.96 986.96 L1983.58 987.03 L1985.2 986.83 L1986.83 986.81 L1988.45 987.26 L1990.07 986.87 L1991.69 986.71 L1993.31 987.04 L1994.94 986.62 L1996.56 986.66 L1998.18 987.1 L1999.8 986.91 L2001.42 987.08 L2003.05 987.08 L2004.67 986.75 L2006.29 987.03 L2007.91 986.84 L2009.53 986.97 L2011.16 986.98 L2012.78 986.91 L2014.4 986.65 L2016.02 987 L2017.65 986.94 L2019.27 987.06 L2020.89 986.72 L2022.51 986.99 L2024.13 986.91 L2025.76 986.86 L2027.38 986.9 L2029 986.91" fill="none" stroke="#000000" stroke-width="3.6" stroke-linejoin="round" stroke-linecap="butt"/>
</g>
<line x1="406.9" y1="38" x2="406.9" y2="1032" stroke="#000000" stroke-width="4" stroke-linecap="butt"/>
<line x1="2029" y1="38" x2="2029" y2="1032" stroke="#000000" stroke-width="4" stroke-linecap="butt"/>
<line x1="404.9" y1="40" x2="2031" y2="40" stroke="#000000" stroke-width="4" stroke-linecap="butt"/>
<line x1="404.9" y1="1030" x2="2031" y2="1030" stroke="#000000" stroke-width="4" stroke-linecap="butt"/>
<line x1="406.9" y1="1030" x2="406.9" y2="1052.5" stroke="#000000" stroke-width="4" stroke-linecap="butt"/>
<line x1="460.97" y1="1030" x2="460.97" y2="1041" stroke="#000000" stroke-width="3.3" stroke-linecap="butt"/>
<line x1="515.04" y1="1030" x2="515.04" y2="1041" stroke="#000000" stroke-width="3.3" stroke-linecap="butt"/>
<line x1="569.11" y1="1030" x2="569.11" y2="1041" stroke="#000000" stroke-width="3.3" stroke-linecap="butt"/>
<line x1="623.18" y1="1030" x2="623.18" y2="1041" stroke="#000000" stroke-width="3.3" stroke-linecap="butt"/>
<line x1="677.25" y1="1030" x2="677.25" y2="1052.5" stroke="#000000" stroke-width="4" stroke-linecap="butt"/>
<line x1="731.32" y1="1030" x2="731.32" y2="1041" stroke="#000000" stroke-width="3.3" stroke-linecap="butt"/>
<line x1="785.39" y1="1030" x2="785.39" y2="1041" stroke="#000000" stroke-width="3.3" stroke-linecap="butt"/>
<line x1="839.46" y1="1030" x2="839.46" y2="1041" stroke="#000000" stroke-width="3.3" stroke-linecap="butt"/>
<line x1="893.53" y1="1030" x2="893.53" y2="1041" stroke="#000000" stroke-width="3.3" stroke-linecap="butt"/>
<line x1="947.6" y1="1030" x2="947.6" y2="1052.5" stroke="#000000" stroke-width="4" stroke-linecap="butt"/>
<line x1="1001.67" y1="1030" x2="1001.67" y2="1041" stroke="#000000" stroke-width="3.3" stroke-linecap="butt"/>
<line x1="1055.74" y1="1030" x2="1055.74" y2="1041" stroke="#000000" stroke-width="3.3" stroke-linecap="butt"/>
<line x1="1109.81" y1="1030" x2="1109.81" y2="1041" stroke="#000000" stroke-width="3.3" stroke-linecap="butt"/>
<line x1="1163.88" y1="1030" x2="1163.88" y2="1041" stroke="#000000" stroke-width="3.3" stroke-linecap="butt"/>
<line x1="1217.95" y1="1030" x2="1217.95" y2="1052.5" stroke="#000000" stroke-width="4" stroke-linecap="butt"/>
<line x1="1272.02" y1="1030" x2="1272.02" y2="1041" stroke="#000000" stroke-width="3.3" stroke-linecap="butt"/>
<line x1="1326.09" y1="1030" x2="1326.09" y2="1041" stroke="#000000" stroke-width="3.3" stroke-linecap="butt"/>
<line x1="1380.16" y1="1030" x2="1380.16" y2="1041" stroke="#000000" stroke-width="3.3" stroke-linecap="butt"/>
<line x1="1434.23" y1="1030" x2="1434.23" y2="1041" stroke="#000000" stroke-width="3.3" stroke-linecap="butt"/>
<line x1="1488.3" y1="1030" x2="1488.3" y2="1052.5" stroke="#000000" stroke-width="4" stroke-linecap="butt"/>
<line x1="1542.37" y1="1030" x2="1542.37" y2="1041" stroke="#000000" stroke-width="3.3" stroke-linecap="butt"/>
<line x1="1596.44" y1="1030" x2="1596.44" y2="1041" stroke="#000000" stroke-width="3.3" stroke-linecap="butt"/>
<line x1="1650.51" y1="1030" x2="1650.51" y2="1041" stroke="#000000" stroke-width="3.3" stroke-linecap="butt"/>
<line x1="1704.58" y1="1030" x2="1704.58" y2="1041" stroke="#000000" stroke-width="3.3" stroke-linecap="butt"/>
<line x1="1758.65" y1="1030" x2="1758.65" y2="1052.5" stroke="#000000" stroke-width="4" stroke-linecap="butt"/>
<line x1="1812.72" y1="1030" x2="1812.72" y2="1041" stroke="#000000" stroke-width="3.3" stroke-linecap="butt"/>
<line x1="1866.79" y1="1030" x2="1866.79" y2="1041" stroke="#000000" stroke-width="3.3" stroke-linecap="butt"/>
<line x1="1920.86" y1="1030" x2="1920.86" y2="1041" stroke="#000000" stroke-width="3.3" stroke-linecap="butt"/>
<line x1="1974.93" y1="1030" x2="1974.93" y2="1041" stroke="#000000" stroke-width="3.3" stroke-linecap="butt"/>
<line x1="2029" y1="1030" x2="2029" y2="1052.5" stroke="#000000" stroke-width="4" stroke-linecap="butt"/>
<text transform="translate(373.88,1115.76) scale(1.0100,1)" font-size="65" fill="#000000" stroke="#fff" stroke-width="0.7">20</text>
<text transform="translate(644.1,1115.76) scale(1.0100,1)" font-size="65" fill="#000000" stroke="#fff" stroke-width="0.7">30</text>
<text transform="translate(915.38,1115.76) scale(1.0100,1)" font-size="65" fill="#000000" stroke="#fff" stroke-width="0.7">40</text>
<text transform="translate(1184.47,1115.76) scale(1.0100,1)" font-size="65" fill="#000000" stroke="#fff" stroke-width="0.7">50</text>
<text transform="translate(1455.31,1115.76) scale(1.0100,1)" font-size="65" fill="#000000" stroke="#fff" stroke-width="0.7">60</text>
<text transform="translate(1724.91,1115.76) scale(1.0100,1)" font-size="65" fill="#000000" stroke="#fff" stroke-width="0.7">70</text>
<text transform="translate(1996.17,1115.76) scale(1.0100,1)" font-size="65" fill="#000000" stroke="#fff" stroke-width="0.7">80</text>
<text transform="translate(328.6,901.72) rotate(-90) scale(0.9914,1)" font-size="95.5" fill="#000000" stroke="#fff" stroke-width="0.7">Intensity (arb. unit)</text>
<text transform="translate(1117.29,1236.3) scale(1.0758,1)" font-size="95.3" fill="#000000" stroke="#fff" stroke-width="0.7">2</text>
<text transform="translate(1167.05,1235.38) scale(1.0816,1)" font-size="93.8" font-style="italic" fill="#000000" stroke="#fff" stroke-width="0.7">θ</text>
<text transform="translate(1235.67,1235.84) scale(1.0841,1)" font-size="95.18" fill="#000000" stroke="#fff" stroke-width="0.7">(</text>
<text transform="translate(1268.61,1233.69) scale(0.9964,1)" font-size="92.01" fill="#000000" stroke="#fff" stroke-width="0.7">°</text>
<text transform="translate(1305.26,1235.84) scale(1.0554,1)" font-size="95.18" fill="#000000" stroke="#fff" stroke-width="0.7">)</text>
<text transform="translate(16.21,110.01) scale(1.0171,1)" font-size="118.34" fill="#000000" stroke="#fff" stroke-width="0.7">(a)</text>
<text transform="translate(429.93,120.5) scale(0.9515,1)" font-size="60.78" fill="#00A6F4" stroke="#fff" stroke-width="0.7">Mn</text>
<text transform="translate(511.06,135.6) scale(1.0392,1)" font-size="40.33" fill="#00A6F4" stroke="#fff" stroke-width="0.7">2</text>
<text transform="translate(532.66,120.61) scale(0.9367,1)" font-size="60.87" fill="#00A6F4" stroke="#fff" stroke-width="0.7">O</text>
<text transform="translate(574.26,135.21) scale(0.9138,1)" font-size="39.74" fill="#00A6F4" stroke="#fff" stroke-width="0.7">3</text>
<text transform="translate(429.42,462.51) scale(0.9543,1)" font-size="60.87" fill="#FF0000" stroke="#fff" stroke-width="0.7">Cu−Mn</text>
<text transform="translate(610.58,477.9) scale(1.0505,1)" font-size="39.42" fill="#FF0000" stroke="#fff" stroke-width="0.7">2</text>
<text transform="translate(630.85,462.51) scale(0.9829,1)" font-size="60.87" fill="#FF0000" stroke="#fff" stroke-width="0.7">O</text>
<text transform="translate(674.26,477.9) scale(0.9494,1)" font-size="39.65" fill="#FF0000" stroke="#fff" stroke-width="0.7">4</text>
<text transform="translate(441.01,941.4) scale(0.9447,1)" font-size="61.62" fill="#000000" stroke="#fff" stroke-width="0.7">CuO</text>
<text transform="translate(515,292.35) rotate(-90) scale(0.9352,1)" font-size="54.67" font-weight="bold" fill="#00A6F4" stroke="#fff" stroke-width="0.7">211</text>
<text transform="translate(778.7,145.27) rotate(-90) scale(0.9097,1)" font-size="56.79" font-weight="bold" fill="#00A6F4" stroke="#fff" stroke-width="0.7">222</text>
<text transform="translate(923.86,288.52) rotate(-90) scale(0.9443,1)" font-size="55.57" font-weight="bold" fill="#00A6F4" stroke="#fff" stroke-width="0.7">400</text>
<text transform="translate(1109.95,300.28) rotate(-90) scale(0.9416,1)" font-size="55.81" font-weight="bold" fill="#00A6F4" stroke="#fff" stroke-width="0.7">332</text>
<text transform="translate(1222.46,304.7) rotate(-90) scale(0.9191,1)" font-size="55.37" font-weight="bold" fill="#00A6F4" stroke="#fff" stroke-width="0.7">431</text>
<text transform="translate(1376.75,256.31) rotate(-90) scale(0.9319,1)" font-size="55.87" font-weight="bold" fill="#00A6F4" stroke="#fff" stroke-width="0.7">440</text>
<text transform="translate(1663.46,285.59) rotate(-90) scale(0.9495,1)" font-size="55.22" font-weight="bold" fill="#00A6F4" stroke="#fff" stroke-width="0.7">622</text>
<text transform="translate(706.28,609.21) rotate(-90) scale(0.9903,1)" font-size="53.05" font-weight="bold" fill="#FF0000" stroke="#fff" stroke-width="0.7">220</text>
<text transform="translate(862.28,467.73) rotate(-90) scale(0.9632,1)" font-size="53.28" font-weight="bold" fill="#FF0000" stroke="#fff" stroke-width="0.7">311</text>
<text transform="translate(1068.48,582.53) rotate(-90) scale(0.9966,1)" font-size="53.35" font-weight="bold" fill="#FF0000" stroke="#fff" stroke-width="0.7">400</text>
<text transform="translate(1458.68,590.03) rotate(-90) scale(0.9501,1)" font-size="53.44" font-weight="bold" fill="#FF0000" stroke="#fff" stroke-width="0.7">511</text>
<text transform="translate(1608.47,571.22) rotate(-90) scale(0.9743,1)" font-size="53.79" font-weight="bold" fill="#FF0000" stroke="#fff" stroke-width="0.7">440</text>
<text transform="translate(760.58,948.45) rotate(-90) scale(0.9957,1)" font-size="53.35" font-weight="bold" fill="#000000" stroke="#fff" stroke-width="0.7">110</text>
<text transform="translate(847.77,799.97) rotate(-90) scale(0.9590,1)" font-size="53.94" font-weight="bold" fill="#000000" stroke="#fff" stroke-width="0.7">002</text>
<text transform="translate(930.7,806.57) rotate(-90) scale(0.9568,1)" font-size="53.17" font-weight="bold" fill="#000000" stroke="#fff" stroke-width="0.7">111</text>
<text transform="translate(1202.27,892.23) rotate(-90) scale(0.9798,1)" font-size="54.24" font-weight="bold" fill="#000000" stroke="#fff" stroke-width="0.7">202</text>
<text transform="translate(1201.35,926.12) rotate(-90) scale(1.2125,1)" font-size="55" font-weight="bold" fill="#000000" stroke="#fff" stroke-width="0.7">−</text>
<text transform="translate(1332.26,959.48) rotate(-90) scale(0.9453,1)" font-size="55.13" font-weight="bold" fill="#000000" stroke="#fff" stroke-width="0.7">020</text>
<text transform="translate(1459.38,953.29) rotate(-90) scale(0.9722,1)" font-size="53.65" font-weight="bold" fill="#000000" stroke="#fff" stroke-width="0.7">202</text>
<text transform="translate(1544.47,920.8) rotate(-90) scale(0.9565,1)" font-size="54.77" font-weight="bold" fill="#000000" stroke="#fff" stroke-width="0.7">113</text>
<text transform="translate(1542.75,953.83) rotate(-90) scale(1.1812,1)" font-size="55" font-weight="bold" fill="#000000" stroke="#fff" stroke-width="0.7">−</text>
<text transform="translate(1673.48,921.07) rotate(-90) scale(0.9764,1)" font-size="53.58" font-weight="bold" fill="#000000" stroke="#fff" stroke-width="0.7">311</text>
<text transform="translate(1671.95,955.43) rotate(-90) scale(1.1812,1)" font-size="55" font-weight="bold" fill="#000000" stroke="#fff" stroke-width="0.7">−</text>
<text transform="translate(1731.87,940.21) rotate(-90) scale(0.9647,1)" font-size="54.53" font-weight="bold" fill="#000000" stroke="#fff" stroke-width="0.7">220</text>
<text transform="translate(1842.58,957.94) rotate(-90) scale(0.9618,1)" font-size="53.73" font-weight="bold" fill="#000000" stroke="#fff" stroke-width="0.7">311</text>
<text transform="translate(1916,925.82) rotate(-90) scale(0.9709,1)" font-size="54.37" font-weight="bold" fill="#000000" stroke="#fff" stroke-width="0.7">222</text>
<text transform="translate(1914.85,960.16) rotate(-90) scale(1.1578,1)" font-size="55" font-weight="bold" fill="#000000" stroke="#fff" stroke-width="0.7">−</text>
<path d="M424.8 1875.4 L426.19 1875.5 L426.96 1875.56 L427.85 1875.62 L428.81 1875.7 L429.79 1875.78 L430.78 1875.86 L431.78 1875.94 L432.78 1876.02 L433.77 1876.1 L434.77 1876.17 L435.77 1876.25 L436.76 1876.32 L437.76 1876.39 L438.76 1876.46 L439.76 1876.52 L440.76 1876.58 L441.75 1876.64 L442.75 1876.7 L443.75 1876.75 L444.75 1876.79 L445.75 1876.83 L446.75 1876.87 L447.75 1876.9 L448.75 1876.93 L449.75 1876.95 L450.75 1876.97 L451.75 1876.98 L452.75 1876.99 L453.75 1877 L454.75 1877 L455.75 1877.01 L456.75 1877.01 L457.75 1877.02 L458.75 1877.03 L459.75 1877.04 L460.75 1877.05 L461.75 1877.06 L462.75 1877.08 L463.75 1877.09 L464.75 1877.1 L465.75 1877.11 L466.75 1877.11 L467.75 1877.12 L468.75 1877.12 L469.75 1877.12 L470.75 1877.11 L471.75 1877.1 L472.75 1877.09 L473.75 1877.07 L474.74 1877.04 L475.74 1877.01 L476.74 1876.97 L477.74 1876.93 L478.74 1876.88 L479.74 1876.82 L480.74 1876.75 L481.73 1876.68 L482.73 1876.6 L483.73 1876.51 L484.72 1876.41 L485.71 1876.3 L486.71 1876.18 L487.7 1876.05 L488.69 1875.91 L489.68 1875.76 L490.66 1875.6 L491.65 1875.42 L492.63 1875.23 L493.61 1875.04 L494.59 1874.83 L495.56 1874.6 L496.53 1874.37 L497.5 1874.12 L498.47 1873.87 L499.43 1873.6 L500.39 1873.33 L501.35 1873.04 L502.31 1872.75 L503.26 1872.45 L504.21 1872.14 L505.16 1871.82 L506.1 1871.5 L507.05 1871.17 L507.99 1870.83 L508.93 1870.49 L509.87 1870.15 L510.81 1869.8 L511.74 1869.44 L512.68 1869.09 L513.61 1868.72 L514.54 1868.36 L515.47 1867.99 L516.4 1867.62 L517.33 1867.25 L518.25 1866.87 L519.18 1866.5 L520.1 1866.12 L521.03 1865.74 L521.96 1865.36 L522.88 1864.98 L523.8 1864.6 L524.73 1864.22 L525.65 1863.84 L526.58 1863.46 L527.5 1863.08 L528.43 1862.7 L529.36 1862.32 L530.28 1861.95 L531.21 1861.58 L532.14 1861.2 L533.07 1860.84 L534 1860.47 L534.93 1860.11 L535.86 1859.75 L536.8 1859.38 L537.73 1859.02 L538.66 1858.66 L539.59 1858.3 L540.52 1857.93 L541.45 1857.56 L542.38 1857.19 L543.31 1856.81 L544.23 1856.43 L545.15 1856.04 L546.07 1855.66 L546.99 1855.26 L547.91 1854.87 L548.83 1854.47 L549.75 1854.08 L550.67 1853.68 L551.58 1853.28 L552.5 1852.88 L553.42 1852.48 L554.33 1852.08 L555.25 1851.68 L556.16 1851.28 L557.08 1850.88 L558 1850.48 L558.92 1850.09 L559.84 1849.69 L560.76 1849.3 L561.68 1848.92 L562.6 1848.53 L563.53 1848.15 L564.46 1847.78 L565.39 1847.41 L566.32 1847.04 L567.25 1846.68 L568.18 1846.33 L569.12 1845.98 L570.06 1845.64 L571.01 1845.31 L571.95 1844.99 L572.9 1844.67 L573.85 1844.37 L574.81 1844.07 L575.77 1843.79 L576.73 1843.52 L577.69 1843.26 L578.66 1843.01 L579.63 1842.78 L580.61 1842.56 L581.59 1842.36 L582.57 1842.17 L583.55 1842 L584.54 1841.84 L585.53 1841.7 L586.52 1841.57 L587.51 1841.46 L588.51 1841.36 L589.5 1841.27 L590.5 1841.19 L591.5 1841.13 L592.5 1841.08 L593.5 1841.03 L594.49 1841 L595.49 1840.98 L596.49 1840.97 L597.49 1840.96 L598.49 1840.97 L599.49 1840.98 L600.49 1841 L601.49 1841.02 L602.49 1841.06 L603.49 1841.1 L604.49 1841.14 L605.49 1841.19 L606.49 1841.25 L607.48 1841.31 L608.48 1841.37 L609.48 1841.43 L610.48 1841.5 L611.48 1841.57 L612.47 1841.65 L613.47 1841.72 L614.47 1841.79 L615.47 1841.87 L616.46 1841.94 L617.46 1842.01 L618.46 1842.08 L619.46 1842.14 L620.45 1842.21 L621.45 1842.27 L622.45 1842.34 L623.45 1842.41 L624.44 1842.49 L625.44 1842.58 L626.43 1842.67 L627.43 1842.78 L628.42 1842.91 L629.41 1843.04 L630.4 1843.18 L631.39 1843.34 L632.37 1843.5 L633.36 1843.67 L634.34 1843.84 L635.33 1844.01 L636.31 1844.18 L637.3 1844.35 L638.29 1844.52 L639.27 1844.67 L640.26 1844.82 L641.25 1844.96 L642.25 1845.08 L643.24 1845.19 L644.23 1845.29 L645.23 1845.37 L646.23 1845.44 L647.22 1845.5 L648.22 1845.55 L649.22 1845.59 L650.22 1845.62 L651.22 1845.65 L652.22 1845.68 L653.22 1845.71 L654.22 1845.73 L655.22 1845.76 L656.22 1845.78 L657.22 1845.8 L658.22 1845.82 L659.22 1845.83 L660.22 1845.85 L661.22 1845.86 L662.22 1845.86 L663.22 1845.87 L664.22 1845.87 L665.22 1845.87 L666.22 1845.86 L667.22 1845.85 L668.22 1845.84 L669.22 1845.82 L670.22 1845.8 L671.22 1845.77 L672.22 1845.73 L673.22 1845.69 L674.21 1845.65 L675.21 1845.6 L676.21 1845.54 L677.21 1845.47 L678.21 1845.4 L679.2 1845.32 L680.2 1845.23 L681.19 1845.13 L682.19 1845.02 L683.18 1844.9 L684.17 1844.77 L685.16 1844.63 L686.15 1844.47 L687.13 1844.3 L688.12 1844.12 L689.09 1843.92 L690.07 1843.71 L691.04 1843.47 L692.01 1843.22 L692.97 1842.96 L693.93 1842.67 L694.88 1842.37 L695.83 1842.06 L696.77 1841.73 L697.71 1841.38 L698.65 1841.03 L699.58 1840.66 L700.5 1840.28 L701.43 1839.9 L702.34 1839.5 L703.26 1839.1 L704.17 1838.69 L705.08 1838.28 L705.99 1837.86 L706.9 1837.44 L707.8 1837.01 L708.71 1836.59 L709.61 1836.16 L710.52 1835.74 L711.42 1835.31 L712.33 1834.89 L713.24 1834.47 L714.15 1834.06 L715.06 1833.65 L715.98 1833.25 L716.9 1832.86 L717.82 1832.47 L718.74 1832.1 L719.68 1831.73 L720.61 1831.38 L721.55 1831.04 L722.49 1830.7 L723.44 1830.38 L724.39 1830.07 L725.34 1829.76 L726.29 1829.46 L727.25 1829.16 L728.2 1828.86 L729.16 1828.57 L730.12 1828.28 L731.07 1827.99 L732.03 1827.71 L732.99 1827.43 L733.95 1827.15 L734.91 1826.87 L735.88 1826.6 L736.84 1826.33 L737.8 1826.07 L738.77 1825.81 L739.74 1825.55 L740.7 1825.3 L741.67 1825.05 L742.64 1824.8 L743.61 1824.56 L744.58 1824.33 L745.56 1824.1 L746.53 1823.88 L747.51 1823.66 L748.48 1823.45 L749.46 1823.24 L750.44 1823.04 L751.42 1822.86 L752.41 1822.68 L753.39 1822.51 L754.38 1822.35 L755.37 1822.2 L756.36 1822.06 L757.35 1821.93 L758.34 1821.8 L759.34 1821.69 L760.33 1821.59 L761.33 1821.5 L762.32 1821.42 L763.32 1821.37 L764.32 1821.34 L765.31 1821.34 L766.31 1821.37 L767.31 1821.44 L768.3 1821.55 L769.28 1821.7 L770.26 1821.88 L771.24 1822.1 L772.2 1822.34 L773.16 1822.62 L774.12 1822.91 L775.07 1823.22 L776.01 1823.55 L776.95 1823.9 L777.88 1824.26 L778.81 1824.64 L779.73 1825.03 L780.64 1825.43 L781.55 1825.85 L782.45 1826.28 L783.35 1826.71 L784.24 1827.16 L785.13 1827.62 L786.02 1828.09 L786.9 1828.56 L787.78 1829.04 L788.65 1829.52 L789.52 1830.01 L790.39 1830.51 L791.26 1831.01 L792.12 1831.51 L792.98 1832.02 L793.84 1832.53 L794.7 1833.04 L795.56 1833.56 L796.41 1834.08 L797.27 1834.6 L798.12 1835.12 L798.97 1835.64 L799.83 1836.16 L800.68 1836.69 L801.53 1837.21 L802.38 1837.74 L803.23 1838.27 L804.08 1838.79 L804.93 1839.32 L805.78 1839.85 L806.62 1840.38 L807.47 1840.92 L808.31 1841.46 L809.15 1842 L809.98 1842.55 L810.82 1843.1 L811.64 1843.66 L812.47 1844.23 L813.29 1844.8 L814.11 1845.37 L814.93 1845.94 L815.75 1846.52 L816.56 1847.1 L817.37 1847.68 L818.19 1848.27 L819 1848.85 L819.81 1849.44 L820.62 1850.03 L821.42 1850.62 L822.23 1851.2 L823.04 1851.79 L823.85 1852.38 L824.66 1852.97 L825.47 1853.55 L826.28 1854.14 L827.09 1854.72 L827.91 1855.3 L828.72 1855.88 L829.54 1856.46 L830.36 1857.04 L831.17 1857.61 L832 1858.18 L832.82 1858.75 L833.65 1859.31 L834.47 1859.87 L835.31 1860.43 L836.14 1860.98 L836.98 1861.52 L837.82 1862.06 L838.67 1862.59 L839.52 1863.12 L840.37 1863.64 L841.23 1864.15 L842.1 1864.65 L842.97 1865.14 L843.85 1865.62 L844.73 1866.08 L845.62 1866.54 L846.52 1866.97 L847.42 1867.4 L848.34 1867.8 L849.26 1868.19 L850.18 1868.57 L851.12 1868.92 L852.06 1869.26 L853 1869.59 L853.95 1869.89 L854.91 1870.18 L855.87 1870.46 L856.83 1870.72 L857.8 1870.96 L858.78 1871.19 L859.75 1871.41 L860.73 1871.61 L861.71 1871.79 L862.7 1871.97 L863.68 1872.13 L864.67 1872.28 L865.66 1872.42 L866.65 1872.55 L867.65 1872.67 L868.64 1872.78 L869.63 1872.89 L870.63 1872.99 L871.62 1873.09 L872.62 1873.18 L873.62 1873.27 L874.61 1873.36 L875.61 1873.45 L876.6 1873.55 L877.6 1873.64 L878.59 1873.74 L879.59 1873.85 L880.58 1873.95 L881.58 1874.06 L882.57 1874.16 L883.57 1874.26 L884.56 1874.35 L885.56 1874.43 L886.56 1874.5 L887.55 1874.56 L888.55 1874.61 L889.55 1874.65 L890.55 1874.68 L891.55 1874.7 L892.55 1874.72 L893.55 1874.73 L894.55 1874.74 L895.55 1874.75 L896.55 1874.75 L897.55 1874.75 L898.55 1874.76 L899.55 1874.77 L900.55 1874.78 L901.55 1874.8 L902.55 1874.81 L903.55 1874.84 L904.55 1874.87 L905.55 1874.91 L906.55 1874.95 L907.55 1874.99 L908.54 1875.04 L909.54 1875.1 L910.54 1875.16 L911.54 1875.23 L912.54 1875.3 L913.53 1875.37 L914.53 1875.45 L915.53 1875.52 L916.52 1875.61 L917.52 1875.69 L918.52 1875.77 L919.51 1875.85 L920.51 1875.94 L921.51 1876.02 L922.5 1876.11 L923.5 1876.19 L924.5 1876.27 L925.49 1876.36 L926.49 1876.44 L927.49 1876.52 L928.48 1876.59 L929.48 1876.67 L930.48 1876.74 L931.47 1876.82 L932.47 1876.89 L933.47 1876.95 L934.47 1877.02 L935.47 1877.08 L936.46 1877.14 L937.46 1877.19 L938.46 1877.25 L939.46 1877.3 L940.46 1877.34 L941.46 1877.38 L942.46 1877.42 L943.46 1877.46 L944.46 1877.49 L945.46 1877.51 L946.46 1877.54 L947.46 1877.55 L948.45 1877.57 L949.45 1877.58 L950.45 1877.59 L951.45 1877.59 L952.45 1877.59 L953.45 1877.58 L954.45 1877.57 L955.45 1877.56 L956.45 1877.54 L957.45 1877.53 L958.45 1877.51 L959.45 1877.48 L960.45 1877.46 L961.45 1877.43 L962.45 1877.41 L963.45 1877.38 L964.45 1877.34 L965.45 1877.31 L966.45 1877.28 L967.45 1877.24 L968.45 1877.21 L969.45 1877.17 L970.45 1877.13 L971.45 1877.09 L972.45 1877.05 L973.45 1877.01 L974.44 1876.97 L975.44 1876.92 L976.44 1876.88 L977.44 1876.84 L978.44 1876.79 L979.44 1876.75 L980.44 1876.7 L981.44 1876.66 L982.44 1876.61 L983.44 1876.56 L984.43 1876.52 L985.43 1876.47 L986.43 1876.43 L987.43 1876.38 L988.43 1876.34 L989.43 1876.29 L990.43 1876.24 L991.43 1876.2 L992.43 1876.15 L993.43 1876.11 L994.42 1876.07 L995.42 1876.02 L996.42 1875.98 L997.42 1875.94 L998.42 1875.9 L999.42 1875.86 L1000.42 1875.83 L1001.42 1875.79 L1002.42 1875.76 L1003.42 1875.72 L1004.42 1875.7 L1005.42 1875.67 L1006.42 1875.64 L1007.42 1875.62 L1008.42 1875.61 L1009.42 1875.59 L1010.42 1875.59 L1011.42 1875.58 L1012.42 1875.58 L1013.42 1875.59 L1014.42 1875.61 L1015.41 1875.63 L1016.41 1875.65 L1017.41 1875.69 L1018.41 1875.73 L1019.41 1875.77 L1020.41 1875.82 L1021.41 1875.88 L1022.41 1875.93 L1023.41 1875.98 L1024.4 1876.03 L1025.4 1876.08 L1026.4 1876.11 L1027.4 1876.15 L1028.4 1876.17 L1029.4 1876.18 L1030.4 1876.19 L1031.4 1876.19 L1032.4 1876.19 L1033.4 1876.17 L1034.4 1876.16 L1035.4 1876.13 L1036.4 1876.11 L1037.4 1876.07 L1038.4 1876.04 L1039.4 1876 L1040.4 1875.96 L1041.4 1875.92 L1042.4 1875.87 L1043.39 1875.82 L1044.39 1875.77 L1045.39 1875.72 L1046.39 1875.67 L1047.39 1875.61 L1048.39 1875.56 L1049.39 1875.5 L1050.38 1875.44 L1051.38 1875.38 L1052.38 1875.32 L1053.38 1875.26 L1054.38 1875.2 L1055.37 1875.14 L1056.37 1875.08 L1057.37 1875.02 L1058.37 1874.95 L1059.37 1874.89 L1060.36 1874.83 L1061.36 1874.76 L1062.36 1874.7 L1063.36 1874.63 L1064.36 1874.57 L1065.35 1874.5 L1066.35 1874.44 L1067.35 1874.37 L1068.35 1874.31 L1069.35 1874.24 L1070.34 1874.18 L1071.34 1874.11 L1072.34 1874.05 L1073.34 1873.99 L1074.34 1873.92 L1075.33 1873.86 L1076.33 1873.79 L1077.33 1873.73 L1078.33 1873.67 L1079.33 1873.6 L1080.32 1873.54 L1081.32 1873.48 L1082.32 1873.42 L1083.32 1873.36 L1084.32 1873.3 L1085.31 1873.24 L1086.31 1873.18 L1087.31 1873.12 L1088.31 1873.06 L1089.31 1873.01 L1090.31 1872.95 L1091.3 1872.9 L1092.3 1872.84 L1093.3 1872.79 L1094.3 1872.74 L1095.3 1872.69 L1096.3 1872.64 L1097.3 1872.6 L1098.3 1872.55 L1099.29 1872.51 L1100.29 1872.46 L1101.29 1872.42 L1102.29 1872.38 L1103.29 1872.34 L1104.29 1872.3 L1105.29 1872.26 L1106.29 1872.22 L1107.29 1872.19 L1108.29 1872.15 L1109.29 1872.12 L1110.29 1872.08 L1111.29 1872.05 L1112.29 1872.01 L1113.28 1871.98 L1114.28 1871.95 L1115.28 1871.91 L1116.28 1871.88 L1117.28 1871.85 L1118.28 1871.82 L1119.28 1871.79 L1120.28 1871.75 L1121.28 1871.72 L1122.28 1871.69 L1123.28 1871.66 L1124.28 1871.63 L1125.28 1871.59 L1126.28 1871.56 L1127.28 1871.53 L1128.28 1871.49 L1129.28 1871.46 L1130.28 1871.43 L1131.28 1871.39 L1132.27 1871.35 L1133.27 1871.32 L1134.27 1871.28 L1135.27 1871.24 L1136.27 1871.2 L1137.27 1871.16 L1138.27 1871.12 L1139.27 1871.07 L1140.27 1871.03 L1141.27 1870.98 L1142.27 1870.93 L1143.26 1870.88 L1144.26 1870.83 L1145.26 1870.78 L1146.26 1870.72 L1147.26 1870.66 L1148.26 1870.6 L1149.25 1870.54 L1150.25 1870.48 L1151.25 1870.42 L1152.25 1870.36 L1153.25 1870.3 L1154.25 1870.25 L1155.24 1870.19 L1156.24 1870.13 L1157.24 1870.08 L1158.24 1870.03 L1159.24 1869.97 L1160.24 1869.92 L1161.24 1869.87 L1162.23 1869.82 L1163.23 1869.76 L1164.23 1869.71 L1165.23 1869.66 L1166.23 1869.6 L1167.23 1869.54 L1168.22 1869.48 L1169.22 1869.42 L1170.22 1869.36 L1171.22 1869.29 L1172.22 1869.22 L1173.21 1869.14 L1174.21 1869.06 L1175.21 1868.98 L1176.2 1868.89 L1177.2 1868.79 L1178.19 1868.69 L1179.19 1868.58 L1180.18 1868.47 L1181.17 1868.35 L1182.16 1868.22 L1183.15 1868.08 L1184.14 1867.94 L1185.13 1867.79 L1186.12 1867.63 L1187.1 1867.46 L1188.09 1867.29 L1189.07 1867.11 L1190.05 1866.91 L1191.03 1866.71 L1192.01 1866.5 L1192.99 1866.28 L1193.96 1866.06 L1194.93 1865.82 L1195.9 1865.57 L1196.87 1865.32 L1197.83 1865.06 L1198.79 1864.79 L1199.75 1864.51 L1200.71 1864.22 L1201.67 1863.93 L1202.62 1863.63 L1203.57 1863.33 L1204.52 1863.01 L1205.47 1862.69 L1206.42 1862.37 L1207.36 1862.04 L1208.3 1861.71 L1209.24 1861.37 L1210.18 1861.02 L1211.12 1860.68 L1212.06 1860.32 L1212.99 1859.97 L1213.92 1859.61 L1214.86 1859.25 L1215.79 1858.88 L1216.72 1858.51 L1217.65 1858.14 L1218.57 1857.77 L1219.5 1857.39 L1220.43 1857.02 L1221.35 1856.64 L1222.28 1856.26 L1223.2 1855.88 L1224.13 1855.5 L1225.05 1855.11 L1225.97 1854.73 L1226.9 1854.35 L1227.82 1853.96 L1228.75 1853.58 L1229.67 1853.2 L1230.59 1852.82 L1231.52 1852.44 L1232.44 1852.06 L1233.37 1851.68 L1234.29 1851.3 L1235.22 1850.92 L1236.15 1850.55 L1237.08 1850.18 L1238 1849.8 L1238.93 1849.43 L1239.86 1849.06 L1240.79 1848.69 L1241.72 1848.32 L1242.65 1847.96 L1243.58 1847.59 L1244.51 1847.22 L1245.44 1846.85 L1246.37 1846.48 L1247.3 1846.11 L1248.23 1845.74 L1249.16 1845.37 L1250.08 1845 L1251.01 1844.63 L1251.94 1844.25 L1252.87 1843.88 L1253.79 1843.51 L1254.72 1843.13 L1255.65 1842.75 L1256.57 1842.37 L1257.5 1841.99 L1258.42 1841.61 L1259.35 1841.23 L1260.27 1840.84 L1261.19 1840.46 L1262.11 1840.07 L1263.03 1839.67 L1263.95 1839.28 L1264.87 1838.88 L1265.78 1838.48 L1266.7 1838.08 L1267.61 1837.67 L1268.53 1837.27 L1269.44 1836.85 L1270.35 1836.44 L1271.26 1836.02 L1272.16 1835.6 L1273.07 1835.17 L1273.97 1834.74 L1274.87 1834.3 L1275.77 1833.86 L1276.66 1833.42 L1277.55 1832.97 L1278.44 1832.51 L1279.33 1832.05 L1280.22 1831.58 L1281.1 1831.12 L1281.98 1830.64 L1282.86 1830.17 L1283.74 1829.69 L1284.61 1829.2 L1285.49 1828.72 L1286.36 1828.23 L1287.23 1827.74 L1288.1 1827.25 L1288.97 1826.75 L1289.83 1826.25 L1290.69 1825.74 L1291.55 1825.23 L1292.41 1824.71 L1293.27 1824.19 L1294.12 1823.67 L1294.96 1823.14 L1295.81 1822.6 L1296.65 1822.06 L1297.49 1821.51 L1298.32 1820.96 L1299.15 1820.4 L1299.97 1819.83 L1300.79 1819.26 L1301.6 1818.68 L1302.41 1818.09 L1303.21 1817.49 L1304.01 1816.89 L1304.8 1816.27 L1305.58 1815.65 L1306.36 1815.03 L1307.13 1814.39 L1307.9 1813.75 L1308.65 1813.09 L1309.4 1812.43 L1310.15 1811.77 L1310.88 1811.09 L1311.61 1810.4 L1312.33 1809.71 L1313.05 1809.01 L1313.75 1808.31 L1314.45 1807.59 L1315.14 1806.87 L1315.83 1806.14 L1316.5 1805.4 L1317.17 1804.66 L1317.83 1803.91 L1318.49 1803.15 L1319.13 1802.39 L1319.77 1801.62 L1320.41 1800.85 L1321.03 1800.07 L1321.65 1799.28 L1322.26 1798.49 L1322.87 1797.7 L1323.47 1796.9 L1324.06 1796.09 L1324.65 1795.28 L1325.23 1794.47 L1325.8 1793.65 L1326.37 1792.83 L1326.94 1792 L1327.5 1791.17 L1328.05 1790.34 L1328.6 1789.5 L1329.14 1788.66 L1329.68 1787.82 L1330.21 1786.97 L1330.74 1786.13 L1331.26 1785.27 L1331.78 1784.42 L1332.3 1783.56 L1332.81 1782.7 L1333.31 1781.84 L1333.82 1780.98 L1334.32 1780.11 L1334.81 1779.24 L1335.3 1778.37 L1335.79 1777.5 L1336.27 1776.62 L1336.75 1775.74 L1337.22 1774.86 L1337.69 1773.98 L1338.15 1773.09 L1338.61 1772.2 L1339.06 1771.31 L1339.51 1770.42 L1339.95 1769.52 L1340.38 1768.62 L1340.82 1767.72 L1341.24 1766.81 L1341.66 1765.91 L1342.08 1765 L1342.5 1764.09 L1342.9 1763.17 L1343.31 1762.26 L1343.71 1761.34 L1344.11 1760.43 L1344.5 1759.51 L1344.89 1758.59 L1345.28 1757.66 L1345.66 1756.74 L1346.04 1755.81 L1346.41 1754.89 L1346.79 1753.96 L1347.16 1753.03 L1347.52 1752.1 L1347.89 1751.17 L1348.25 1750.24 L1348.61 1749.3 L1348.97 1748.37 L1349.32 1747.43 L1349.67 1746.5 L1350.02 1745.56 L1350.37 1744.62 L1350.72 1743.69 L1351.06 1742.75 L1351.4 1741.81 L1351.75 1740.87 L1352.08 1739.93 L1352.42 1738.99 L1352.76 1738.04 L1353.09 1737.1 L1353.42 1736.16 L1353.75 1735.21 L1354.08 1734.27 L1354.4 1733.32 L1354.72 1732.38 L1355.04 1731.43 L1355.36 1730.48 L1355.68 1729.53 L1355.99 1728.58 L1356.3 1727.63 L1356.61 1726.68 L1356.91 1725.73 L1357.21 1724.77 L1357.51 1723.82 L1357.81 1722.87 L1358.11 1721.91 L1358.4 1720.95 L1358.7 1720 L1358.99 1719.04 L1359.28 1718.08 L1359.56 1717.13 L1359.85 1716.17 L1360.13 1715.21 L1360.41 1714.25 L1360.69 1713.29 L1360.97 1712.33 L1361.25 1711.37 L1361.52 1710.41 L1361.8 1709.44 L1362.07 1708.48 L1362.34 1707.52 L1362.61 1706.56 L1362.87 1705.59 L1363.14 1704.63 L1363.4 1703.66 L1363.67 1702.7 L1363.93 1701.73 L1364.19 1700.77 L1364.45 1699.8 L1364.71 1698.84 L1364.96 1697.87 L1365.22 1696.9 L1365.47 1695.94 L1365.73 1694.97 L1365.98 1694 L1366.23 1693.03 L1366.48 1692.07 L1366.73 1691.1 L1366.98 1690.13 L1367.22 1689.16 L1367.47 1688.19 L1367.71 1687.22 L1367.95 1686.25 L1368.2 1685.28 L1368.43 1684.31 L1368.67 1683.34 L1368.91 1682.36 L1369.14 1681.39 L1369.37 1680.42 L1369.6 1679.45 L1369.83 1678.47 L1370.06 1677.5 L1370.28 1676.52 L1370.51 1675.55 L1370.73 1674.57 L1370.95 1673.6 L1371.17 1672.62 L1371.39 1671.65 L1371.61 1670.67 L1371.83 1669.7 L1372.04 1668.72 L1372.26 1667.74 L1372.47 1666.77 L1372.68 1665.79 L1372.9 1664.81 L1373.11 1663.83 L1373.32 1662.86 L1373.53 1661.88 L1373.74 1660.9 L1373.95 1659.92 L1374.16 1658.95 L1374.36 1657.97 L1374.57 1656.99 L1374.78 1656.01 L1374.98 1655.03 L1375.19 1654.05 L1375.39 1653.07 L1375.6 1652.1 L1375.8 1651.12 L1376.01 1650.14 L1376.21 1649.16 L1376.41 1648.18 L1376.62 1647.2 L1376.82 1646.22 L1377.02 1645.24 L1377.22 1644.26 L1377.43 1643.28 L1377.63 1642.3 L1377.83 1641.33 L1378.03 1640.35 L1378.24 1639.37 L1378.44 1638.39 L1378.64 1637.41 L1378.84 1636.43 L1379.05 1635.45 L1379.25 1634.47 L1379.46 1633.49 L1379.66 1632.51 L1379.86 1631.53 L1380.07 1630.55 L1380.27 1629.58 L1380.48 1628.6 L1380.68 1627.62 L1380.89 1626.64 L1381.09 1625.66 L1381.29 1624.68 L1381.5 1623.7 L1381.7 1622.72 L1381.9 1621.74 L1382.1 1620.76 L1382.3 1619.78 L1382.5 1618.8 L1382.7 1617.82 L1382.9 1616.85 L1383.1 1615.87 L1383.3 1614.89 L1383.5 1613.9 L1383.7 1612.92 L1383.89 1611.94 L1384.09 1610.96 L1384.29 1609.98 L1384.48 1609 L1384.68 1608.02 L1384.87 1607.04 L1385.07 1606.06 L1385.26 1605.08 L1385.45 1604.1 L1385.65 1603.12 L1385.84 1602.14 L1386.03 1601.15 L1386.22 1600.17 L1386.42 1599.19 L1386.61 1598.21 L1386.8 1597.23 L1386.99 1596.25 L1387.18 1595.26 L1387.37 1594.28 L1387.56 1593.3 L1387.75 1592.32 L1387.94 1591.34 L1388.13 1590.36 L1388.31 1589.37 L1388.5 1588.39 L1388.69 1587.41 L1388.88 1586.43 L1389.06 1585.44 L1389.25 1584.46 L1389.43 1583.48 L1389.62 1582.5 L1389.8 1581.51 L1389.98 1580.53 L1390.16 1579.54 L1390.34 1578.56 L1390.51 1577.58 L1390.69 1576.59 L1390.87 1575.61 L1391.04 1574.62 L1391.22 1573.64 L1391.39 1572.65 L1391.56 1571.67 L1391.73 1570.68 L1391.91 1569.7 L1392.08 1568.71 L1392.25 1567.73 L1392.42 1566.74 L1392.59 1565.76 L1392.77 1564.77 L1392.94 1563.79 L1393.11 1562.8 L1393.28 1561.82 L1393.46 1560.83 L1393.63 1559.85 L1393.8 1558.86 L1393.98 1557.88 L1394.15 1556.89 L1394.33 1555.91 L1394.5 1554.93 L1394.68 1553.94 L1394.86 1552.96 L1395.04 1551.97 L1395.22 1550.99 L1395.4 1550.01 L1395.59 1549.02 L1395.77 1548.04 L1395.96 1547.06 L1396.15 1546.08 L1396.34 1545.1 L1396.53 1544.11 L1396.72 1543.13 L1396.92 1542.15 L1397.12 1541.17 L1397.32 1540.19 L1397.52 1539.21 L1397.73 1538.23 L1397.93 1537.26 L1398.14 1536.28 L1398.35 1535.3 L1398.57 1534.32 L1398.78 1533.35 L1399 1532.37 L1399.21 1531.39 L1399.43 1530.42 L1399.65 1529.44 L1399.87 1528.47 L1400.09 1527.49 L1400.32 1526.52 L1400.54 1525.54 L1400.77 1524.57 L1401 1523.6 L1401.23 1522.62 L1401.46 1521.65 L1401.69 1520.68 L1401.92 1519.7 L1402.16 1518.73 L1402.39 1517.76 L1402.63 1516.79 L1402.87 1515.82 L1403.11 1514.85 L1403.35 1513.88 L1403.59 1512.91 L1403.83 1511.94 L1404.08 1510.97 L1404.32 1510 L1404.57 1509.03 L1404.82 1508.06 L1405.07 1507.09 L1405.32 1506.12 L1405.57 1505.16 L1405.83 1504.19 L1406.09 1503.22 L1406.34 1502.26 L1406.6 1501.29 L1406.86 1500.33 L1407.13 1499.36 L1407.39 1498.4 L1407.66 1497.43 L1407.92 1496.47 L1408.19 1495.51 L1408.47 1494.54 L1408.74 1493.58 L1409.01 1492.62 L1409.29 1491.66 L1409.57 1490.7 L1409.85 1489.74 L1410.13 1488.78 L1410.41 1487.82 L1410.7 1486.86 L1410.98 1485.9 L1411.27 1484.95 L1411.56 1483.99 L1411.85 1483.03 L1412.15 1482.08 L1412.44 1481.12 L1412.74 1480.17 L1413.04 1479.21 L1413.35 1478.26 L1413.65 1477.31 L1413.96 1476.36 L1414.28 1475.41 L1414.59 1474.46 L1414.91 1473.51 L1415.24 1472.57 L1415.56 1471.62 L1415.9 1470.68 L1416.24 1469.74 L1416.58 1468.8 L1416.93 1467.86 L1417.28 1466.93 L1417.65 1465.99 L1418.02 1465.07 L1418.39 1464.14 L1418.78 1463.22 L1419.18 1462.3 L1419.59 1461.39 L1420.01 1460.48 L1420.43 1459.58 L1420.87 1458.68 L1421.32 1457.79 L1421.78 1456.9 L1422.25 1456.02 L1422.73 1455.14 L1423.23 1454.28 L1423.75 1453.42 L1424.29 1452.58 L1424.85 1451.76 L1425.45 1450.96 L1426.08 1450.2 L1426.76 1449.49 L1427.49 1448.84 L1428.28 1448.28 L1429.12 1447.84 L1430.01 1447.55 L1430.93 1447.43 L1431.85 1447.5 L1432.76 1447.73 L1433.64 1448.11 L1434.47 1448.6 L1435.25 1449.19 L1435.98 1449.85 L1436.68 1450.56 L1437.33 1451.31 L1437.95 1452.08 L1438.55 1452.88 L1439.12 1453.7 L1439.67 1454.54 L1440.2 1455.39 L1440.71 1456.24 L1441.2 1457.11 L1441.68 1457.99 L1442.14 1458.88 L1442.59 1459.77 L1443.02 1460.67 L1443.44 1461.58 L1443.85 1462.49 L1444.24 1463.41 L1444.62 1464.33 L1445 1465.26 L1445.36 1466.19 L1445.71 1467.13 L1446.06 1468.07 L1446.4 1469.01 L1446.73 1469.95 L1447.06 1470.89 L1447.38 1471.84 L1447.7 1472.79 L1448.02 1473.74 L1448.33 1474.69 L1448.63 1475.64 L1448.93 1476.59 L1449.23 1477.55 L1449.53 1478.5 L1449.82 1479.46 L1450.12 1480.41 L1450.4 1481.37 L1450.69 1482.33 L1450.98 1483.29 L1451.26 1484.25 L1451.54 1485.21 L1451.82 1486.17 L1452.1 1487.13 L1452.38 1488.09 L1452.66 1489.05 L1452.94 1490.01 L1453.21 1490.97 L1453.49 1491.93 L1453.76 1492.89 L1454.03 1493.85 L1454.3 1494.82 L1454.57 1495.78 L1454.83 1496.75 L1455.09 1497.71 L1455.35 1498.68 L1455.61 1499.64 L1455.87 1500.61 L1456.12 1501.58 L1456.37 1502.55 L1456.62 1503.51 L1456.87 1504.48 L1457.12 1505.45 L1457.36 1506.42 L1457.61 1507.39 L1457.85 1508.36 L1458.09 1509.33 L1458.33 1510.3 L1458.57 1511.27 L1458.81 1512.24 L1459.05 1513.21 L1459.28 1514.19 L1459.52 1515.16 L1459.76 1516.13 L1459.99 1517.1 L1460.22 1518.07 L1460.46 1519.05 L1460.69 1520.02 L1460.92 1520.99 L1461.15 1521.96 L1461.39 1522.94 L1461.62 1523.91 L1461.85 1524.88 L1462.08 1525.86 L1462.31 1526.83 L1462.54 1527.8 L1462.77 1528.78 L1463 1529.75 L1463.23 1530.72 L1463.46 1531.69 L1463.69 1532.67 L1463.93 1533.64 L1464.16 1534.61 L1464.39 1535.59 L1464.62 1536.56 L1464.85 1537.53 L1465.09 1538.5 L1465.32 1539.48 L1465.56 1540.45 L1465.79 1541.42 L1466.03 1542.39 L1466.27 1543.36 L1466.5 1544.33 L1466.74 1545.31 L1466.98 1546.28 L1467.22 1547.25 L1467.46 1548.22 L1467.7 1549.19 L1467.93 1550.16 L1468.17 1551.13 L1468.41 1552.1 L1468.65 1553.07 L1468.88 1554.05 L1469.12 1555.02 L1469.35 1555.99 L1469.58 1556.96 L1469.82 1557.94 L1470.05 1558.91 L1470.28 1559.88 L1470.5 1560.86 L1470.73 1561.83 L1470.95 1562.8 L1471.18 1563.78 L1471.4 1564.75 L1471.62 1565.73 L1471.84 1566.71 L1472.06 1567.68 L1472.27 1568.66 L1472.49 1569.63 L1472.7 1570.61 L1472.92 1571.59 L1473.13 1572.57 L1473.34 1573.54 L1473.55 1574.52 L1473.76 1575.5 L1473.96 1576.48 L1474.17 1577.46 L1474.38 1578.43 L1474.58 1579.41 L1474.79 1580.39 L1474.99 1581.37 L1475.19 1582.35 L1475.39 1583.33 L1475.59 1584.31 L1475.79 1585.29 L1475.99 1586.27 L1476.18 1587.25 L1476.37 1588.23 L1476.57 1589.21 L1476.76 1590.2 L1476.95 1591.18 L1477.14 1592.16 L1477.33 1593.14 L1477.52 1594.12 L1477.7 1595.11 L1477.89 1596.09 L1478.07 1597.07 L1478.25 1598.05 L1478.44 1599.04 L1478.62 1600.02 L1478.8 1601 L1478.98 1601.99 L1479.16 1602.97 L1479.34 1603.95 L1479.52 1604.94 L1479.7 1605.92 L1479.88 1606.91 L1480.06 1607.89 L1480.23 1608.87 L1480.41 1609.86 L1480.59 1610.84 L1480.77 1611.83 L1480.94 1612.81 L1481.12 1613.8 L1481.3 1614.78 L1481.47 1615.76 L1481.65 1616.75 L1481.82 1617.73 L1482 1618.72 L1482.17 1619.7 L1482.35 1620.69 L1482.53 1621.67 L1482.7 1622.66 L1482.88 1623.64 L1483.05 1624.62 L1483.23 1625.61 L1483.4 1626.59 L1483.58 1627.58 L1483.75 1628.56 L1483.93 1629.55 L1484.11 1630.53 L1484.28 1631.52 L1484.46 1632.5 L1484.63 1633.48 L1484.81 1634.47 L1484.99 1635.45 L1485.16 1636.44 L1485.34 1637.42 L1485.52 1638.41 L1485.7 1639.39 L1485.88 1640.37 L1486.05 1641.36 L1486.23 1642.34 L1486.41 1643.33 L1486.59 1644.31 L1486.77 1645.29 L1486.95 1646.28 L1487.13 1647.26 L1487.31 1648.24 L1487.49 1649.23 L1487.67 1650.21 L1487.85 1651.19 L1488.04 1652.18 L1488.22 1653.16 L1488.4 1654.14 L1488.59 1655.13 L1488.77 1656.11 L1488.95 1657.09 L1489.14 1658.07 L1489.33 1659.06 L1489.51 1660.04 L1489.7 1661.02 L1489.89 1662 L1490.08 1662.98 L1490.27 1663.97 L1490.47 1664.95 L1490.66 1665.93 L1490.85 1666.91 L1491.04 1667.89 L1491.24 1668.87 L1491.43 1669.85 L1491.63 1670.83 L1491.83 1671.81 L1492.03 1672.79 L1492.24 1673.77 L1492.44 1674.75 L1492.64 1675.73 L1492.85 1676.71 L1493.05 1677.69 L1493.26 1678.67 L1493.47 1679.64 L1493.69 1680.62 L1493.91 1681.59 L1494.13 1682.57 L1494.35 1683.55 L1494.57 1684.52 L1494.8 1685.49 L1495.03 1686.47 L1495.26 1687.44 L1495.49 1688.41 L1495.73 1689.38 L1495.97 1690.35 L1496.22 1691.32 L1496.46 1692.29 L1496.71 1693.26 L1496.96 1694.23 L1497.21 1695.2 L1497.47 1696.16 L1497.73 1697.13 L1498 1698.09 L1498.26 1699.06 L1498.53 1700.02 L1498.81 1700.98 L1499.08 1701.94 L1499.37 1702.9 L1499.65 1703.86 L1499.94 1704.82 L1500.23 1705.77 L1500.53 1706.73 L1500.83 1707.68 L1501.14 1708.63 L1501.45 1709.58 L1501.77 1710.53 L1502.09 1711.48 L1502.41 1712.42 L1502.74 1713.37 L1503.08 1714.31 L1503.42 1715.25 L1503.77 1716.19 L1504.12 1717.12 L1504.48 1718.06 L1504.84 1718.99 L1505.21 1719.92 L1505.58 1720.85 L1505.96 1721.77 L1506.34 1722.7 L1506.73 1723.62 L1507.12 1724.54 L1507.51 1725.46 L1507.91 1726.38 L1508.31 1727.29 L1508.71 1728.21 L1509.11 1729.12 L1509.52 1730.04 L1509.93 1730.95 L1510.34 1731.86 L1510.75 1732.78 L1511.16 1733.69 L1511.57 1734.6 L1511.98 1735.51 L1512.39 1736.42 L1512.81 1737.33 L1513.22 1738.24 L1513.64 1739.15 L1514.06 1740.06 L1514.48 1740.97 L1514.9 1741.87 L1515.32 1742.78 L1515.75 1743.68 L1516.18 1744.59 L1516.61 1745.49 L1517.04 1746.39 L1517.48 1747.29 L1517.92 1748.19 L1518.37 1749.08 L1518.81 1749.98 L1519.27 1750.87 L1519.72 1751.76 L1520.18 1752.65 L1520.64 1753.53 L1521.11 1754.42 L1521.58 1755.3 L1522.05 1756.18 L1522.53 1757.06 L1523.02 1757.93 L1523.51 1758.8 L1524 1759.67 L1524.5 1760.54 L1525 1761.41 L1525.51 1762.27 L1526.02 1763.13 L1526.54 1763.98 L1527.06 1764.83 L1527.59 1765.68 L1528.12 1766.53 L1528.66 1767.37 L1529.2 1768.21 L1529.75 1769.05 L1530.31 1769.88 L1530.87 1770.71 L1531.43 1771.53 L1532 1772.35 L1532.58 1773.17 L1533.16 1773.98 L1533.75 1774.79 L1534.34 1775.6 L1534.94 1776.4 L1535.55 1777.19 L1536.16 1777.99 L1536.77 1778.77 L1537.39 1779.56 L1538.02 1780.34 L1538.65 1781.11 L1539.29 1781.88 L1539.93 1782.65 L1540.58 1783.41 L1541.23 1784.17 L1541.88 1784.93 L1542.54 1785.68 L1543.2 1786.43 L1543.87 1787.17 L1544.54 1787.91 L1545.21 1788.65 L1545.89 1789.39 L1546.57 1790.12 L1547.26 1790.85 L1547.95 1791.57 L1548.64 1792.3 L1549.33 1793.02 L1550.03 1793.73 L1550.73 1794.45 L1551.43 1795.16 L1552.14 1795.86 L1552.85 1796.57 L1553.56 1797.27 L1554.28 1797.97 L1555 1798.66 L1555.72 1799.36 L1556.44 1800.05 L1557.17 1800.73 L1557.9 1801.42 L1558.63 1802.1 L1559.37 1802.77 L1560.11 1803.45 L1560.85 1804.12 L1561.59 1804.78 L1562.34 1805.45 L1563.09 1806.11 L1563.85 1806.76 L1564.6 1807.42 L1565.37 1808.06 L1566.13 1808.71 L1566.9 1809.35 L1567.67 1809.98 L1568.45 1810.61 L1569.23 1811.24 L1570.02 1811.85 L1570.81 1812.47 L1571.6 1813.07 L1572.41 1813.67 L1573.22 1814.25 L1574.03 1814.83 L1574.86 1815.39 L1575.69 1815.94 L1576.53 1816.48 L1577.38 1817.01 L1578.24 1817.52 L1579.11 1818.02 L1579.98 1818.5 L1580.87 1818.96 L1581.76 1819.41 L1582.66 1819.85 L1583.57 1820.27 L1584.48 1820.68 L1585.39 1821.08 L1586.31 1821.47 L1587.24 1821.85 L1588.16 1822.23 L1589.09 1822.6 L1590.02 1822.98 L1590.95 1823.35 L1591.88 1823.72 L1592.81 1824.09 L1593.73 1824.46 L1594.66 1824.84 L1595.58 1825.22 L1596.51 1825.61 L1597.43 1825.99 L1598.35 1826.38 L1599.27 1826.78 L1600.19 1827.17 L1601.11 1827.57 L1602.03 1827.96 L1602.94 1828.36 L1603.86 1828.75 L1604.78 1829.14 L1605.7 1829.53 L1606.62 1829.92 L1607.55 1830.31 L1608.47 1830.7 L1609.39 1831.09 L1610.31 1831.47 L1611.24 1831.85 L1612.16 1832.24 L1613.08 1832.62 L1614.01 1833 L1614.93 1833.38 L1615.86 1833.76 L1616.78 1834.14 L1617.71 1834.52 L1618.64 1834.9 L1619.56 1835.27 L1620.49 1835.65 L1621.41 1836.03 L1622.34 1836.4 L1623.27 1836.77 L1624.2 1837.15 L1625.12 1837.52 L1626.05 1837.9 L1626.98 1838.27 L1627.91 1838.64 L1628.84 1839.01 L1629.77 1839.38 L1630.69 1839.75 L1631.62 1840.12 L1632.55 1840.49 L1633.48 1840.86 L1634.41 1841.23 L1635.34 1841.6 L1636.27 1841.96 L1637.2 1842.33 L1638.13 1842.7 L1639.06 1843.06 L1639.99 1843.43 L1640.93 1843.79 L1641.86 1844.15 L1642.79 1844.52 L1643.72 1844.88 L1644.65 1845.24 L1645.59 1845.6 L1646.52 1845.96 L1647.45 1846.32 L1648.39 1846.68 L1649.32 1847.04 L1650.25 1847.4 L1651.19 1847.76 L1652.12 1848.12 L1653.05 1848.48 L1653.99 1848.84 L1654.92 1849.2 L1655.85 1849.56 L1656.78 1849.92 L1657.71 1850.28 L1658.65 1850.64 L1659.58 1851 L1660.52 1851.35 L1661.46 1851.69 L1662.4 1852.03 L1663.35 1852.35 L1664.29 1852.66 L1665.25 1852.97 L1666.2 1853.26 L1667.16 1853.54 L1668.13 1853.81 L1669.09 1854.07 L1670.06 1854.33 L1671.02 1854.58 L1671.99 1854.83 L1672.96 1855.07 L1673.94 1855.3 L1674.91 1855.54 L1675.88 1855.77 L1676.86 1855.99 L1677.83 1856.21 L1678.81 1856.43 L1679.78 1856.64 L1680.76 1856.86 L1681.74 1857.06 L1682.72 1857.27 L1683.7 1857.47 L1684.68 1857.68 L1685.66 1857.88 L1686.64 1858.07 L1687.62 1858.27 L1688.6 1858.46 L1689.58 1858.66 L1690.56 1858.85 L1691.54 1859.04 L1692.52 1859.23 L1693.51 1859.42 L1694.49 1859.61 L1695.47 1859.79 L1696.45 1859.98 L1697.44 1860.16 L1698.42 1860.35 L1699.4 1860.53 L1700.38 1860.71 L1701.37 1860.9 L1702.35 1861.08 L1703.33 1861.26 L1704.32 1861.44 L1705.3 1861.62 L1706.29 1861.8 L1707.27 1861.98 L1708.25 1862.16 L1709.24 1862.34 L1710.22 1862.51 L1711.21 1862.69 L1712.19 1862.87 L1713.17 1863.05 L1714.16 1863.23 L1715.14 1863.4 L1716.13 1863.58 L1717.11 1863.76 L1718.09 1863.94 L1719.08 1864.12 L1720.06 1864.29 L1721.05 1864.47 L1722.03 1864.65 L1723.01 1864.83 L1724 1865.01 L1724.98 1865.19 L1725.96 1865.37 L1726.95 1865.55 L1727.93 1865.73 L1728.92 1865.91 L1729.9 1866.08 L1730.88 1866.26 L1731.87 1866.44 L1732.85 1866.62 L1733.84 1866.79 L1734.82 1866.97 L1735.81 1867.14 L1736.79 1867.31 L1737.78 1867.49 L1738.76 1867.66 L1739.75 1867.83 L1740.73 1867.99 L1741.72 1868.16 L1742.71 1868.33 L1743.69 1868.49 L1744.68 1868.65 L1745.67 1868.81 L1746.65 1868.97 L1747.64 1869.12 L1748.63 1869.28 L1749.62 1869.43 L1750.61 1869.58 L1751.59 1869.73 L1752.58 1869.88 L1753.57 1870.03 L1754.56 1870.17 L1755.55 1870.32 L1756.54 1870.46 L1757.53 1870.6 L1758.52 1870.73 L1759.51 1870.87 L1760.5 1871 L1761.5 1871.13 L1762.49 1871.25 L1763.48 1871.38 L1764.47 1871.5 L1765.47 1871.61 L1766.46 1871.73 L1767.45 1871.85 L1768.45 1871.96 L1769.44 1872.07 L1770.43 1872.18 L1771.43 1872.29 L1772.42 1872.4 L1773.42 1872.51 L1774.41 1872.62 L1775.4 1872.72 L1776.4 1872.83 L1777.39 1872.94 L1778.39 1873.05 L1779.38 1873.15 L1780.38 1873.26 L1781.37 1873.37 L1782.36 1873.48 L1783.36 1873.59 L1784.35 1873.71 L1785.34 1873.82 L1786.34 1873.93 L1787.33 1874.05 L1788.32 1874.17 L1789.32 1874.28 L1790.31 1874.41 L1791.3 1874.53 L1792.29 1874.65 L1793.29 1874.78 L1794.28 1874.91 L1795.27 1875.04 L1796.26 1875.17 L1797.25 1875.31 L1798.24 1875.45 L1799.23 1875.59 L1800.22 1875.74 L1801.21 1875.88 L1802.2 1876.04 L1803.19 1876.19 L1804.17 1876.35 L1805.16 1876.52 L1806.14 1876.69 L1807.13 1876.87 L1808.11 1877.05 L1809.09 1877.24 L1810.07 1877.44 L1811.05 1877.64 L1812.03 1877.84 L1813.01 1878.05 L1813.99 1878.27 L1814.96 1878.49 L1815.94 1878.71 L1816.91 1878.93 L1817.88 1879.16 L1818.86 1879.39 L1819.83 1879.62 L1820.8 1879.86 L1821.77 1880.09 L1822.75 1880.33 L1823.72 1880.57 L1824.69 1880.81 L1825.66 1881.05 L1826.63 1881.28 L1827.6 1881.52 L1828.57 1881.76 L1829.54 1881.99 L1830.52 1882.23 L1831.49 1882.46 L1832.46 1882.69 L1833.44 1882.92 L1834.41 1883.15 L1835.38 1883.38 L1836.36 1883.6 L1837.33 1883.82 L1838.31 1884.03 L1839.29 1884.24 L1840.27 1884.45 L1841.25 1884.65 L1842.23 1884.84 L1843.21 1885.03 L1844.19 1885.22 L1845.17 1885.4 L1846.16 1885.57 L1847.15 1885.74 L1848.13 1885.89 L1849.12 1886.04 L1850.11 1886.18 L1851.1 1886.31 L1852.09 1886.43 L1853.09 1886.55 L1854.08 1886.64 L1855.08 1886.73 L1856.08 1886.81 L1857.07 1886.87 L1858.07 1886.92 L1859.07 1886.95 L1860.07 1886.96 L1861.07 1886.96 L1862.07 1886.94 L1863.07 1886.91 L1864.06 1886.86 L1865.06 1886.79 L1866.06 1886.71 L1867.05 1886.61 L1868.04 1886.49 L1869.03 1886.37 L1870.02 1886.22 L1871.01 1886.07 L1872 1885.9 L1872.98 1885.73 L1873.96 1885.54 L1874.94 1885.34 L1875.92 1885.14 L1876.9 1884.93 L1877.88 1884.71 L1878.85 1884.49 L1879.82 1884.26 L1880.8 1884.03 L1881.77 1883.8 L1882.74 1883.57 L1883.72 1883.34 L1884.69 1883.11 L1885.66 1882.88 L1886.64 1882.66 L1887.61 1882.44 L1888.59 1882.22 L1889.57 1882.01 L1890.55 1881.81 L1891.53 1881.61 L1892.51 1881.43 L1893.49 1881.25 L1894.48 1881.08 L1895.46 1880.92 L1896.45 1880.78 L1897.44 1880.64 L1898.44 1880.52 L1899.43 1880.42 L1900.43 1880.32 L1901.42 1880.24 L1902.42 1880.18 L1903.42 1880.12 L1904.42 1880.09 L1905.41 1880.06 L1906.41 1880.05 L1907.41 1880.05 L1908.41 1880.06 L1909.41 1880.09 L1910.41 1880.12 L1911.41 1880.16 L1912.41 1880.21 L1913.41 1880.27 L1914.4 1880.34 L1915.4 1880.41 L1916.4 1880.49 L1917.39 1880.58 L1918.39 1880.67 L1919.38 1880.77 L1920.38 1880.87 L1921.37 1880.97 L1922.37 1881.08 L1923.36 1881.2 L1924.35 1881.32 L1925.35 1881.44 L1926.34 1881.56 L1927.33 1881.69 L1928.32 1881.82 L1929.31 1881.95 L1930.31 1882.08 L1931.3 1882.21 L1932.29 1882.35 L1933.28 1882.49 L1934.27 1882.62 L1935.26 1882.76 L1936.25 1882.9 L1937.24 1883.03 L1938.23 1883.17 L1939.22 1883.31 L1940.21 1883.45 L1941.2 1883.58 L1942.19 1883.71 L1943.18 1883.85 L1944.18 1883.98 L1945.17 1884.11 L1946.16 1884.23 L1947.15 1884.36 L1948.14 1884.48 L1949.14 1884.59 L1950.13 1884.71 L1951.12 1884.82 L1952.12 1884.93 L1953.11 1885.03 L1954.11 1885.13 L1955.1 1885.22 L1956.1 1885.3 L1957.1 1885.39 L1958.09 1885.46 L1959.09 1885.53 L1960.09 1885.59 L1961.09 1885.64 L1962.09 1885.69 L1963.09 1885.72 L1964.09 1885.75 L1965.08 1885.78 L1966.08 1885.79 L1967.08 1885.79 L1968.08 1885.79 L1969.08 1885.78 L1970.08 1885.76 L1971.08 1885.74 L1972.08 1885.71 L1973.08 1885.67 L1974.08 1885.63 L1975.08 1885.59 L1976.08 1885.54 L1977.08 1885.48 L1978.08 1885.42 L1979.07 1885.36 L1980.07 1885.29 L1981.07 1885.22 L1982.06 1885.14 L1983.06 1885.06 L1984.06 1884.98 L1985.05 1884.89 L1986.05 1884.8 L1987.05 1884.71 L1988.04 1884.62 L1989.04 1884.53 L1990.03 1884.43 L1991.03 1884.33 L1992.02 1884.23 L1993.02 1884.13 L1994.01 1884.03 L1995.01 1883.93 L1996 1883.83 L1997 1883.73 L1997.99 1883.62 L1998.99 1883.52 L1999.98 1883.42 L2000.98 1883.32 L2001.97 1883.23 L2002.97 1883.13 L2003.96 1883.04 L2004.96 1882.95 L2005.96 1882.86 L2006.95 1882.78 L2007.95 1882.7 L2008.95 1882.63 L2009.94 1882.56 L2010.94 1882.5 L2011.94 1882.45 L2012.94 1882.41 L2013.94 1882.37 L2014.94 1882.35 L2015.94 1882.34 L2016.94 1882.35 L2017.94 1882.36 L2018.94 1882.39 L2019.93 1882.43 L2020.93 1882.49 L2021.93 1882.56 L2022.93 1882.64 L2023.92 1882.74 L2024.91 1882.85 L2025.9 1882.98 L2026.89 1883.12 L2027.88 1883.27 L2028.87 1883.44 L2029.85 1883.62 L2030.83 1883.81 L2031.81 1884.02 L2032.79 1884.23 L2033.76 1884.46 L2034.73 1884.69 L2035.68 1884.91 L2036.58 1885.13 L2037.4 1885.32 L2038.07 1885.48 L2039.11 1885.71" fill="none" stroke="#00A6F4" stroke-width="8" stroke-linejoin="round" stroke-linecap="butt"/>
<path d="M424.8 2152.08 L426.3 2152.03 L427.79 2151.97 L429.29 2151.91 L430.79 2151.85 L432.29 2151.78 L433.78 2151.71 L435.28 2151.64 L436.78 2151.57 L438.28 2151.49 L439.78 2151.41 L441.28 2151.33 L442.78 2151.25 L444.28 2151.16 L445.78 2151.08 L447.28 2150.99 L448.78 2150.91 L450.28 2150.82 L451.78 2150.73 L453.29 2150.64 L454.79 2150.55 L456.29 2150.46 L457.79 2150.37 L459.29 2150.28 L460.8 2150.19 L462.3 2150.1 L463.8 2150.01 L465.3 2149.92 L466.81 2149.84 L468.31 2149.75 L469.81 2149.67 L471.32 2149.58 L472.82 2149.5 L474.32 2149.42 L475.83 2149.34 L477.33 2149.27 L478.83 2149.2 L480.34 2149.13 L481.84 2149.06 L483.34 2148.99 L484.85 2148.93 L486.35 2148.87 L487.85 2148.82 L489.36 2148.77 L490.86 2148.72 L492.36 2148.67 L493.87 2148.63 L495.37 2148.6 L496.87 2148.57 L498.38 2148.54 L499.88 2148.52 L501.38 2148.5 L502.88 2148.49 L504.39 2148.48 L505.89 2148.48 L507.39 2148.48 L508.89 2148.49 L510.39 2148.51 L511.9 2148.53 L513.4 2148.56 L514.9 2148.59 L516.4 2148.64 L517.9 2148.68 L519.4 2148.74 L520.9 2148.8 L522.4 2148.87 L523.9 2148.95 L525.4 2149.03 L526.9 2149.12 L528.4 2149.22 L529.89 2149.33 L531.39 2149.45 L532.89 2149.57 L534.39 2149.7 L535.88 2149.83 L537.38 2149.97 L538.88 2150.12 L540.37 2150.26 L541.87 2150.41 L543.36 2150.56 L544.86 2150.71 L546.35 2150.86 L547.85 2151.01 L549.34 2151.15 L550.84 2151.29 L552.33 2151.43 L553.82 2151.56 L555.31 2151.69 L556.81 2151.81 L558.3 2151.92 L559.79 2152.03 L561.28 2152.12 L562.77 2152.2 L564.26 2152.28 L565.75 2152.34 L567.24 2152.39 L568.73 2152.42 L570.22 2152.44 L571.71 2152.45 L573.2 2152.44 L574.69 2152.41 L576.18 2152.36 L577.67 2152.29 L579.15 2152.21 L580.64 2152.11 L582.13 2151.99 L583.62 2151.85 L585.1 2151.7 L586.59 2151.53 L588.07 2151.35 L589.56 2151.16 L591.05 2150.95 L592.53 2150.73 L594.02 2150.5 L595.5 2150.26 L596.99 2150.02 L598.47 2149.76 L599.96 2149.49 L601.44 2149.22 L602.93 2148.95 L604.41 2148.66 L605.9 2148.38 L607.38 2148.09 L608.87 2147.8 L610.36 2147.5 L611.84 2147.21 L613.33 2146.91 L614.81 2146.61 L616.3 2146.32 L617.78 2146.03 L619.27 2145.74 L620.76 2145.45 L622.24 2145.17 L623.73 2144.9 L625.22 2144.63 L626.71 2144.37 L628.19 2144.11 L629.68 2143.86 L631.17 2143.62 L632.66 2143.39 L634.15 2143.16 L635.64 2142.94 L637.13 2142.72 L638.62 2142.51 L640.11 2142.31 L641.6 2142.12 L643.09 2141.93 L644.58 2141.74 L646.07 2141.57 L647.56 2141.4 L649.05 2141.23 L650.54 2141.08 L652.03 2140.92 L653.53 2140.78 L655.02 2140.64 L656.51 2140.51 L658 2140.38 L659.49 2140.26 L660.99 2140.15 L662.48 2140.04 L663.97 2139.94 L665.47 2139.84 L666.96 2139.75 L668.45 2139.67 L669.95 2139.59 L671.44 2139.52 L672.93 2139.45 L674.43 2139.39 L675.92 2139.34 L677.41 2139.29 L678.91 2139.24 L680.4 2139.21 L681.9 2139.18 L683.39 2139.15 L684.88 2139.13 L686.38 2139.11 L687.87 2139.1 L689.37 2139.1 L690.86 2139.1 L692.36 2139.11 L693.85 2139.12 L695.35 2139.14 L696.84 2139.16 L698.33 2139.19 L699.83 2139.23 L701.32 2139.26 L702.82 2139.31 L704.31 2139.36 L705.81 2139.41 L707.3 2139.47 L708.8 2139.54 L710.29 2139.61 L711.78 2139.68 L713.28 2139.76 L714.77 2139.85 L716.27 2139.94 L717.76 2140.04 L719.25 2140.14 L720.75 2140.24 L722.24 2140.35 L723.74 2140.46 L725.23 2140.58 L726.72 2140.71 L728.22 2140.84 L729.71 2140.97 L731.2 2141.11 L732.7 2141.25 L734.19 2141.4 L735.68 2141.55 L737.17 2141.71 L738.67 2141.87 L740.16 2142.04 L741.65 2142.21 L743.14 2142.38 L744.64 2142.56 L746.13 2142.74 L747.62 2142.93 L749.11 2143.12 L750.6 2143.32 L752.09 2143.52 L753.58 2143.73 L755.07 2143.93 L756.56 2144.15 L758.05 2144.36 L759.54 2144.58 L761.03 2144.81 L762.52 2145.03 L764.01 2145.26 L765.5 2145.49 L766.99 2145.72 L768.48 2145.96 L769.97 2146.2 L771.46 2146.43 L772.95 2146.67 L774.43 2146.91 L775.92 2147.15 L777.41 2147.4 L778.9 2147.64 L780.39 2147.88 L781.88 2148.12 L783.37 2148.36 L784.85 2148.6 L786.34 2148.84 L787.83 2149.08 L789.32 2149.31 L790.81 2149.55 L792.3 2149.78 L793.78 2150.01 L795.27 2150.24 L796.76 2150.46 L798.25 2150.68 L799.74 2150.9 L801.23 2151.12 L802.72 2151.33 L804.21 2151.54 L805.7 2151.74 L807.19 2151.94 L808.68 2152.14 L810.17 2152.32 L811.66 2152.51 L813.15 2152.69 L814.64 2152.86 L816.13 2153.03 L817.62 2153.19 L819.11 2153.34 L820.6 2153.49 L822.09 2153.63 L823.59 2153.77 L825.08 2153.9 L826.57 2154.02 L828.06 2154.13 L829.56 2154.24 L831.05 2154.35 L832.54 2154.44 L834.04 2154.53 L835.53 2154.62 L837.02 2154.7 L838.52 2154.77 L840.01 2154.84 L841.51 2154.9 L843 2154.96 L844.5 2155.01 L845.99 2155.05 L847.49 2155.09 L848.99 2155.13 L850.48 2155.16 L851.98 2155.18 L853.48 2155.21 L854.97 2155.22 L856.47 2155.23 L857.97 2155.24 L859.47 2155.24 L860.96 2155.24 L862.46 2155.23 L863.96 2155.22 L865.46 2155.2 L866.96 2155.18 L868.46 2155.16 L869.96 2155.13 L871.46 2155.1 L872.96 2155.07 L874.46 2155.03 L875.96 2154.98 L877.46 2154.94 L878.96 2154.89 L880.46 2154.84 L881.96 2154.78 L883.47 2154.72 L884.97 2154.66 L886.47 2154.6 L887.97 2154.53 L889.48 2154.46 L890.98 2154.39 L892.48 2154.31 L893.99 2154.23 L895.49 2154.15 L896.99 2154.07 L898.5 2153.98 L900 2153.9 L901.51 2153.81 L903.01 2153.72 L904.52 2153.62 L906.02 2153.53 L907.53 2153.43 L909.03 2153.33 L910.54 2153.23 L912.05 2153.13 L913.55 2153.03 L915.06 2152.92 L916.57 2152.82 L918.07 2152.71 L919.58 2152.61 L921.09 2152.5 L922.6 2152.39 L924.11 2152.28 L925.61 2152.17 L927.12 2152.06 L928.63 2151.95 L930.14 2151.84 L931.65 2151.72 L933.16 2151.61 L934.67 2151.5 L936.18 2151.39 L937.69 2151.28 L939.2 2151.16 L940.71 2151.05 L942.22 2150.94 L943.73 2150.83 L945.25 2150.72 L946.76 2150.61 L948.27 2150.5 L949.78 2150.39 L951.29 2150.28 L952.81 2150.18 L954.32 2150.07 L955.83 2149.96 L957.34 2149.85 L958.86 2149.74 L960.37 2149.63 L961.88 2149.52 L963.39 2149.4 L964.9 2149.28 L966.4 2149.16 L967.91 2149.03 L969.42 2148.9 L970.92 2148.76 L972.42 2148.62 L973.92 2148.47 L975.42 2148.31 L976.92 2148.15 L978.41 2147.98 L979.9 2147.8 L981.39 2147.61 L982.88 2147.42 L984.36 2147.21 L985.85 2146.99 L987.32 2146.77 L988.8 2146.53 L990.27 2146.28 L991.74 2146.02 L993.21 2145.75 L994.67 2145.47 L996.13 2145.17 L997.58 2144.86 L999.03 2144.53 L1000.48 2144.19 L1001.92 2143.83 L1003.36 2143.46 L1004.79 2143.07 L1006.22 2142.67 L1007.64 2142.26 L1009.06 2141.82 L1010.48 2141.38 L1011.89 2140.92 L1013.3 2140.45 L1014.71 2139.96 L1016.11 2139.47 L1017.51 2138.96 L1018.9 2138.44 L1020.29 2137.91 L1021.68 2137.36 L1023.07 2136.81 L1024.45 2136.24 L1025.83 2135.67 L1027.21 2135.09 L1028.58 2134.5 L1029.96 2133.9 L1031.33 2133.29 L1032.69 2132.67 L1034.06 2132.04 L1035.42 2131.41 L1036.78 2130.77 L1038.14 2130.13 L1039.5 2129.48 L1040.86 2128.82 L1042.21 2128.16 L1043.56 2127.49 L1044.92 2126.82 L1046.27 2126.14 L1047.62 2125.46 L1048.96 2124.78 L1050.31 2124.1 L1051.66 2123.41 L1053 2122.72 L1054.35 2122.02 L1055.69 2121.33 L1057.04 2120.63 L1058.38 2119.94 L1059.73 2119.24 L1061.07 2118.54 L1062.41 2117.84 L1063.76 2117.15 L1065.1 2116.45 L1066.45 2115.76 L1067.79 2115.07 L1069.14 2114.38 L1070.49 2113.69 L1071.83 2113.01 L1073.18 2112.33 L1074.53 2111.65 L1075.88 2110.98 L1077.23 2110.31 L1078.58 2109.64 L1079.94 2108.98 L1081.29 2108.33 L1082.65 2107.68 L1084.01 2107.04 L1085.37 2106.41 L1086.73 2105.78 L1088.1 2105.16 L1089.46 2104.55 L1090.83 2103.95 L1092.2 2103.35 L1093.58 2102.76 L1094.95 2102.19 L1096.33 2101.62 L1097.71 2101.05 L1099.1 2100.5 L1100.48 2099.95 L1101.87 2099.41 L1103.27 2098.88 L1104.66 2098.36 L1106.06 2097.84 L1107.46 2097.33 L1108.86 2096.83 L1110.27 2096.34 L1111.68 2095.85 L1113.09 2095.37 L1114.51 2094.9 L1115.93 2094.44 L1117.35 2093.98 L1118.78 2093.53 L1120.21 2093.09 L1121.64 2092.65 L1123.08 2092.22 L1124.52 2091.8 L1125.97 2091.38 L1127.42 2090.97 L1128.87 2090.57 L1130.32 2090.17 L1131.78 2089.77 L1133.24 2089.38 L1134.7 2089 L1136.17 2088.62 L1137.63 2088.24 L1139.1 2087.86 L1140.57 2087.49 L1142.04 2087.11 L1143.51 2086.74 L1144.99 2086.38 L1146.46 2086.01 L1147.93 2085.64 L1149.4 2085.27 L1150.88 2084.9 L1152.35 2084.53 L1153.82 2084.16 L1155.29 2083.79 L1156.76 2083.41 L1158.23 2083.04 L1159.7 2082.66 L1161.17 2082.27 L1162.63 2081.88 L1164.09 2081.49 L1165.55 2081.09 L1167.01 2080.69 L1168.46 2080.29 L1169.91 2079.87 L1171.36 2079.45 L1172.8 2079.03 L1174.24 2078.59 L1175.68 2078.15 L1177.11 2077.7 L1178.54 2077.24 L1179.96 2076.78 L1181.38 2076.3 L1182.79 2075.82 L1184.2 2075.32 L1185.6 2074.81 L1187 2074.3 L1188.39 2073.77 L1189.77 2073.23 L1191.15 2072.68 L1192.52 2072.11 L1193.88 2071.53 L1195.24 2070.94 L1196.59 2070.34 L1197.93 2069.72 L1199.26 2069.08 L1200.59 2068.44 L1201.91 2067.77 L1203.21 2067.09 L1204.51 2066.39 L1205.81 2065.68 L1207.09 2064.95 L1208.36 2064.2 L1209.62 2063.44 L1210.88 2062.65 L1212.12 2061.85 L1213.35 2061.04 L1214.58 2060.2 L1215.8 2059.36 L1217.01 2058.49 L1218.21 2057.61 L1219.4 2056.72 L1220.58 2055.81 L1221.75 2054.89 L1222.92 2053.96 L1224.07 2053.01 L1225.22 2052.05 L1226.36 2051.08 L1227.5 2050.09 L1228.62 2049.1 L1229.74 2048.09 L1230.85 2047.07 L1231.95 2046.04 L1233.04 2045.01 L1234.13 2043.96 L1235.21 2042.9 L1236.28 2041.84 L1237.35 2040.76 L1238.4 2039.68 L1239.46 2038.59 L1240.5 2037.49 L1241.54 2036.39 L1242.57 2035.28 L1243.6 2034.16 L1244.61 2033.04 L1245.63 2031.91 L1246.63 2030.78 L1247.63 2029.64 L1248.63 2028.5 L1249.62 2027.35 L1250.6 2026.2 L1251.57 2025.05 L1252.55 2023.9 L1253.51 2022.74 L1254.47 2021.57 L1255.43 2020.41 L1256.37 2019.24 L1257.32 2018.07 L1258.25 2016.9 L1259.19 2015.72 L1260.11 2014.54 L1261.03 2013.35 L1261.95 2012.17 L1262.86 2010.98 L1263.76 2009.79 L1264.66 2008.59 L1265.56 2007.39 L1266.45 2006.19 L1267.33 2004.98 L1268.21 2003.78 L1269.08 2002.56 L1269.94 2001.35 L1270.81 2000.13 L1271.66 1998.91 L1272.51 1997.69 L1273.36 1996.46 L1274.2 1995.23 L1275.03 1994 L1275.86 1992.77 L1276.69 1991.53 L1277.51 1990.29 L1278.32 1989.04 L1279.13 1987.8 L1279.94 1986.55 L1280.74 1985.29 L1281.53 1984.04 L1282.32 1982.78 L1283.1 1981.51 L1283.88 1980.25 L1284.65 1978.98 L1285.42 1977.71 L1286.19 1976.44 L1286.94 1975.16 L1287.7 1973.88 L1288.45 1972.6 L1289.19 1971.31 L1289.93 1970.02 L1290.66 1968.73 L1291.39 1967.44 L1292.12 1966.14 L1292.84 1964.84 L1293.55 1963.54 L1294.26 1962.23 L1294.96 1960.92 L1295.66 1959.61 L1296.36 1958.3 L1297.05 1956.98 L1297.74 1955.66 L1298.42 1954.33 L1299.09 1953.01 L1299.76 1951.68 L1300.43 1950.35 L1301.09 1949.01 L1301.75 1947.68 L1302.4 1946.34 L1303.05 1944.99 L1303.7 1943.65 L1304.34 1942.3 L1304.97 1940.95 L1305.6 1939.59 L1306.23 1938.24 L1306.85 1936.88 L1307.47 1935.51 L1308.08 1934.15 L1308.69 1932.78 L1309.29 1931.41 L1309.89 1930.03 L1310.48 1928.66 L1311.07 1927.28 L1311.66 1925.9 L1312.24 1924.51 L1312.82 1923.12 L1313.39 1921.73 L1313.96 1920.34 L1314.52 1918.95 L1315.08 1917.55 L1315.64 1916.15 L1316.19 1914.74 L1316.74 1913.34 L1317.28 1911.93 L1317.82 1910.51 L1318.35 1909.1 L1318.88 1907.68 L1319.41 1906.26 L1319.93 1904.84 L1320.45 1903.41 L1320.97 1901.99 L1321.48 1900.56 L1321.98 1899.12 L1322.48 1897.69 L1322.98 1896.25 L1323.48 1894.81 L1323.97 1893.36 L1324.45 1891.92 L1324.93 1890.47 L1325.41 1889.02 L1325.89 1887.56 L1326.36 1886.11 L1326.83 1884.65 L1327.29 1883.19 L1327.75 1881.72 L1328.21 1880.26 L1328.67 1878.79 L1329.12 1877.32 L1329.57 1875.85 L1330.02 1874.38 L1330.47 1872.91 L1330.91 1871.43 L1331.36 1869.96 L1331.8 1868.48 L1332.24 1867 L1332.68 1865.52 L1333.11 1864.04 L1333.55 1862.56 L1333.99 1861.07 L1334.42 1859.59 L1334.86 1858.11 L1335.29 1856.62 L1335.73 1855.14 L1336.16 1853.65 L1336.6 1852.17 L1337.03 1850.68 L1337.47 1849.2 L1337.9 1847.71 L1338.34 1846.23 L1338.78 1844.74 L1339.21 1843.26 L1339.65 1841.78 L1340.1 1840.29 L1340.54 1838.81 L1340.98 1837.33 L1341.43 1835.85 L1341.88 1834.37 L1342.33 1832.89 L1342.78 1831.41 L1343.24 1829.93 L1343.69 1828.45 L1344.16 1826.98 L1344.62 1825.51 L1345.09 1824.03 L1345.56 1822.56 L1346.03 1821.1 L1346.51 1819.63 L1346.99 1818.17 L1347.47 1816.7 L1347.96 1815.24 L1348.46 1813.78 L1348.96 1812.33 L1349.46 1810.87 L1349.96 1809.42 L1350.48 1807.97 L1350.99 1806.53 L1351.52 1805.09 L1352.04 1803.64 L1352.58 1802.21 L1353.12 1800.77 L1353.66 1799.34 L1354.21 1797.91 L1354.77 1796.49 L1355.33 1795.07 L1355.9 1793.65 L1356.47 1792.24 L1357.06 1790.82 L1357.65 1789.42 L1358.24 1788.01 L1358.85 1786.62 L1359.46 1785.22 L1360.08 1783.83 L1360.7 1782.44 L1361.34 1781.06 L1361.98 1779.68 L1362.63 1778.31 L1363.29 1776.94 L1363.96 1775.58 L1364.63 1774.22 L1365.32 1772.86 L1366.01 1771.51 L1366.72 1770.17 L1367.43 1768.83 L1368.15 1767.49 L1368.88 1766.17 L1369.62 1764.84 L1370.37 1763.53 L1371.13 1762.21 L1371.9 1760.91 L1372.69 1759.61 L1373.48 1758.31 L1374.28 1757.02 L1375.09 1755.74 L1375.92 1754.46 L1376.76 1753.19 L1377.6 1751.93 L1378.46 1750.67 L1379.33 1749.42 L1380.21 1748.19 L1381.1 1746.96 L1382 1745.74 L1382.91 1744.54 L1383.83 1743.35 L1384.76 1742.18 L1385.7 1741.03 L1386.65 1739.89 L1387.61 1738.77 L1388.58 1737.68 L1389.55 1736.6 L1390.53 1735.55 L1391.52 1734.52 L1392.52 1733.52 L1393.53 1732.55 L1394.54 1731.6 L1395.56 1730.69 L1396.58 1729.8 L1397.61 1728.95 L1398.65 1728.13 L1399.7 1727.34 L1400.75 1726.59 L1401.8 1725.88 L1402.86 1725.2 L1403.93 1724.57 L1405 1723.97 L1406.07 1723.42 L1407.15 1722.91 L1408.23 1722.44 L1409.32 1722.02 L1410.41 1721.65 L1411.5 1721.32 L1412.59 1721.05 L1413.69 1720.82 L1414.79 1720.65 L1415.9 1720.52 L1417 1720.46 L1418.11 1720.44 L1419.21 1720.48 L1420.32 1720.57 L1421.43 1720.71 L1422.53 1720.91 L1423.63 1721.15 L1424.74 1721.45 L1425.83 1721.79 L1426.93 1722.19 L1428.02 1722.63 L1429.11 1723.13 L1430.19 1723.67 L1431.27 1724.26 L1432.34 1724.9 L1433.4 1725.58 L1434.46 1726.31 L1435.5 1727.09 L1436.55 1727.91 L1437.58 1728.77 L1438.6 1729.68 L1439.62 1730.62 L1440.62 1731.6 L1441.62 1732.62 L1442.61 1733.68 L1443.59 1734.77 L1444.56 1735.89 L1445.52 1737.05 L1446.46 1738.24 L1447.4 1739.45 L1448.33 1740.69 L1449.24 1741.96 L1450.15 1743.26 L1451.04 1744.57 L1451.92 1745.91 L1452.79 1747.27 L1453.65 1748.65 L1454.49 1750.05 L1455.32 1751.47 L1456.14 1752.9 L1456.95 1754.34 L1457.74 1755.8 L1458.51 1757.27 L1459.28 1758.75 L1460.03 1760.24 L1460.76 1761.74 L1461.49 1763.25 L1462.2 1764.76 L1462.9 1766.29 L1463.58 1767.82 L1464.26 1769.36 L1464.92 1770.9 L1465.57 1772.46 L1466.21 1774.01 L1466.84 1775.57 L1467.46 1777.13 L1468.06 1778.7 L1468.66 1780.27 L1469.25 1781.84 L1469.82 1783.41 L1470.39 1784.99 L1470.95 1786.56 L1471.49 1788.13 L1472.03 1789.71 L1472.56 1791.28 L1473.08 1792.85 L1473.6 1794.41 L1474.1 1795.97 L1474.6 1797.53 L1475.09 1799.09 L1475.57 1800.64 L1476.04 1802.18 L1476.51 1803.72 L1476.97 1805.25 L1477.42 1806.78 L1477.87 1808.29 L1478.31 1809.81 L1478.75 1811.31 L1479.18 1812.81 L1479.6 1814.3 L1480.02 1815.79 L1480.44 1817.28 L1480.85 1818.75 L1481.26 1820.23 L1481.66 1821.69 L1482.06 1823.16 L1482.46 1824.62 L1482.85 1826.07 L1483.24 1827.52 L1483.63 1828.97 L1484.01 1830.41 L1484.4 1831.85 L1484.78 1833.29 L1485.16 1834.72 L1485.54 1836.15 L1485.92 1837.58 L1486.3 1839.01 L1486.68 1840.43 L1487.05 1841.85 L1487.43 1843.27 L1487.81 1844.69 L1488.19 1846.11 L1488.57 1847.52 L1488.95 1848.94 L1489.33 1850.35 L1489.72 1851.77 L1490.11 1853.18 L1490.49 1854.59 L1490.89 1856 L1491.28 1857.42 L1491.68 1858.83 L1492.08 1860.24 L1492.48 1861.65 L1492.89 1863.07 L1493.29 1864.48 L1493.7 1865.89 L1494.12 1867.3 L1494.53 1868.71 L1494.95 1870.12 L1495.38 1871.53 L1495.8 1872.94 L1496.23 1874.35 L1496.66 1875.76 L1497.1 1877.17 L1497.53 1878.58 L1497.97 1879.99 L1498.42 1881.4 L1498.87 1882.81 L1499.32 1884.21 L1499.77 1885.62 L1500.22 1887.03 L1500.68 1888.43 L1501.15 1889.84 L1501.61 1891.24 L1502.08 1892.64 L1502.56 1894.05 L1503.03 1895.45 L1503.51 1896.85 L1504 1898.25 L1504.48 1899.65 L1504.97 1901.05 L1505.47 1902.45 L1505.96 1903.84 L1506.47 1905.24 L1506.97 1906.64 L1507.48 1908.03 L1507.99 1909.42 L1508.5 1910.82 L1509.02 1912.21 L1509.55 1913.6 L1510.07 1914.99 L1510.6 1916.38 L1511.14 1917.76 L1511.68 1919.15 L1512.22 1920.53 L1512.76 1921.92 L1513.31 1923.3 L1513.87 1924.68 L1514.43 1926.06 L1514.99 1927.44 L1515.55 1928.81 L1516.12 1930.19 L1516.7 1931.56 L1517.28 1932.94 L1517.86 1934.31 L1518.45 1935.68 L1519.04 1937.05 L1519.63 1938.41 L1520.23 1939.78 L1520.83 1941.14 L1521.44 1942.51 L1522.05 1943.87 L1522.67 1945.23 L1523.29 1946.58 L1523.92 1947.94 L1524.55 1949.29 L1525.18 1950.64 L1525.82 1952 L1526.46 1953.34 L1527.11 1954.69 L1527.76 1956.04 L1528.42 1957.38 L1529.08 1958.72 L1529.75 1960.06 L1530.42 1961.4 L1531.09 1962.73 L1531.77 1964.07 L1532.46 1965.4 L1533.15 1966.73 L1533.84 1968.05 L1534.54 1969.38 L1535.25 1970.7 L1535.96 1972.02 L1536.67 1973.34 L1537.39 1974.66 L1538.12 1975.97 L1538.85 1977.28 L1539.58 1978.59 L1540.32 1979.9 L1541.06 1981.21 L1541.81 1982.51 L1542.57 1983.81 L1543.33 1985.11 L1544.09 1986.4 L1544.86 1987.7 L1545.64 1988.99 L1546.42 1990.28 L1547.21 1991.56 L1548 1992.84 L1548.8 1994.13 L1549.6 1995.4 L1550.41 1996.68 L1551.22 1997.95 L1552.04 1999.22 L1552.86 2000.49 L1553.69 2001.75 L1554.53 2003.01 L1555.37 2004.27 L1556.22 2005.53 L1557.07 2006.78 L1557.92 2008.03 L1558.79 2009.27 L1559.66 2010.52 L1560.53 2011.76 L1561.41 2012.99 L1562.29 2014.22 L1563.18 2015.45 L1564.08 2016.68 L1564.98 2017.9 L1565.88 2019.11 L1566.8 2020.33 L1567.71 2021.54 L1568.64 2022.74 L1569.56 2023.94 L1570.5 2025.14 L1571.44 2026.33 L1572.38 2027.52 L1573.33 2028.7 L1574.29 2029.88 L1575.25 2031.05 L1576.21 2032.22 L1577.18 2033.39 L1578.16 2034.55 L1579.14 2035.7 L1580.13 2036.85 L1581.12 2037.99 L1582.12 2039.13 L1583.12 2040.27 L1584.13 2041.4 L1585.15 2042.52 L1586.17 2043.64 L1587.19 2044.75 L1588.22 2045.86 L1589.26 2046.96 L1590.3 2048.05 L1591.35 2049.14 L1592.4 2050.22 L1593.46 2051.3 L1594.52 2052.37 L1595.59 2053.44 L1596.66 2054.5 L1597.74 2055.55 L1598.83 2056.59 L1599.92 2057.63 L1601.01 2058.67 L1602.11 2059.69 L1603.22 2060.71 L1604.33 2061.73 L1605.45 2062.73 L1606.57 2063.73 L1607.7 2064.72 L1608.83 2065.71 L1609.97 2066.69 L1611.11 2067.66 L1612.26 2068.62 L1613.41 2069.58 L1614.57 2070.53 L1615.74 2071.47 L1616.91 2072.4 L1618.08 2073.33 L1619.26 2074.25 L1620.45 2075.16 L1621.64 2076.06 L1622.84 2076.95 L1624.04 2077.84 L1625.24 2078.72 L1626.46 2079.59 L1627.67 2080.45 L1628.9 2081.3 L1630.13 2082.15 L1631.36 2082.98 L1632.6 2083.81 L1633.84 2084.63 L1635.09 2085.44 L1636.35 2086.24 L1637.61 2087.04 L1638.87 2087.82 L1640.14 2088.59 L1641.42 2089.36 L1642.7 2090.12 L1643.98 2090.86 L1645.28 2091.6 L1646.57 2092.33 L1647.87 2093.05 L1649.18 2093.76 L1650.49 2094.46 L1651.81 2095.15 L1653.13 2095.83 L1654.46 2096.5 L1655.8 2097.16 L1657.13 2097.81 L1658.48 2098.45 L1659.83 2099.08 L1661.18 2099.7 L1662.54 2100.31 L1663.91 2100.91 L1665.28 2101.5 L1666.65 2102.07 L1668.03 2102.64 L1669.42 2103.2 L1670.8 2103.75 L1672.2 2104.29 L1673.6 2104.83 L1675 2105.35 L1676.4 2105.86 L1677.81 2106.37 L1679.23 2106.87 L1680.65 2107.36 L1682.07 2107.84 L1683.49 2108.32 L1684.92 2108.78 L1686.35 2109.24 L1687.79 2109.7 L1689.23 2110.14 L1690.67 2110.58 L1692.11 2111.01 L1693.56 2111.44 L1695 2111.86 L1696.46 2112.28 L1697.91 2112.69 L1699.37 2113.09 L1700.82 2113.49 L1702.28 2113.88 L1703.75 2114.27 L1705.21 2114.66 L1706.67 2115.04 L1708.14 2115.41 L1709.61 2115.78 L1711.08 2116.15 L1712.55 2116.51 L1714.02 2116.87 L1715.49 2117.23 L1716.96 2117.58 L1718.44 2117.93 L1719.91 2118.28 L1721.39 2118.63 L1722.86 2118.97 L1724.34 2119.31 L1725.81 2119.65 L1727.29 2119.99 L1728.76 2120.33 L1730.24 2120.66 L1731.71 2120.99 L1733.19 2121.33 L1734.66 2121.66 L1736.13 2121.99 L1737.6 2122.32 L1739.07 2122.65 L1740.54 2122.98 L1742.01 2123.31 L1743.48 2123.64 L1744.94 2123.97 L1746.41 2124.3 L1747.87 2124.63 L1749.34 2124.96 L1750.8 2125.29 L1752.26 2125.62 L1753.72 2125.94 L1755.18 2126.27 L1756.64 2126.59 L1758.1 2126.91 L1759.56 2127.23 L1761.02 2127.55 L1762.48 2127.87 L1763.94 2128.19 L1765.4 2128.5 L1766.86 2128.81 L1768.31 2129.13 L1769.77 2129.43 L1771.23 2129.74 L1772.69 2130.04 L1774.15 2130.35 L1775.6 2130.64 L1777.06 2130.94 L1778.52 2131.23 L1779.98 2131.52 L1781.44 2131.81 L1782.9 2132.1 L1784.36 2132.38 L1785.82 2132.66 L1787.28 2132.93 L1788.74 2133.2 L1790.2 2133.47 L1791.66 2133.73 L1793.13 2134 L1794.59 2134.25 L1796.06 2134.5 L1797.52 2134.75 L1798.99 2135 L1800.46 2135.24 L1801.92 2135.47 L1803.39 2135.7 L1804.87 2135.93 L1806.34 2136.15 L1807.81 2136.37 L1809.29 2136.58 L1810.76 2136.79 L1812.24 2136.99 L1813.71 2137.19 L1815.19 2137.39 L1816.67 2137.59 L1818.15 2137.78 L1819.63 2137.97 L1821.11 2138.16 L1822.59 2138.34 L1824.08 2138.52 L1825.56 2138.71 L1827.04 2138.89 L1828.53 2139.07 L1830.01 2139.25 L1831.49 2139.43 L1832.98 2139.6 L1834.46 2139.78 L1835.95 2139.96 L1837.43 2140.14 L1838.92 2140.31 L1840.4 2140.49 L1841.89 2140.66 L1843.37 2140.83 L1844.86 2141 L1846.34 2141.17 L1847.83 2141.33 L1849.32 2141.49 L1850.8 2141.64 L1852.29 2141.8 L1853.77 2141.94 L1855.26 2142.09 L1856.75 2142.23 L1858.23 2142.36 L1859.72 2142.49 L1861.21 2142.61 L1862.69 2142.73 L1864.18 2142.84 L1865.67 2142.95 L1867.15 2143.04 L1868.64 2143.13 L1870.13 2143.22 L1871.62 2143.29 L1873.1 2143.36 L1874.59 2143.42 L1876.08 2143.47 L1877.57 2143.51 L1879.06 2143.54 L1880.54 2143.57 L1882.03 2143.59 L1883.52 2143.6 L1885.01 2143.62 L1886.49 2143.62 L1887.98 2143.63 L1889.47 2143.63 L1890.96 2143.63 L1892.45 2143.62 L1893.93 2143.62 L1895.42 2143.62 L1896.91 2143.62 L1898.4 2143.63 L1899.88 2143.63 L1901.37 2143.64 L1902.86 2143.65 L1904.34 2143.67 L1905.83 2143.69 L1907.31 2143.73 L1908.8 2143.76 L1910.29 2143.81 L1911.77 2143.86 L1913.26 2143.93 L1914.74 2144 L1916.23 2144.09 L1917.71 2144.18 L1919.19 2144.28 L1920.68 2144.4 L1922.16 2144.52 L1923.64 2144.64 L1925.13 2144.78 L1926.61 2144.93 L1928.09 2145.08 L1929.58 2145.24 L1931.06 2145.4 L1932.54 2145.58 L1934.02 2145.76 L1935.51 2145.94 L1936.99 2146.14 L1938.47 2146.34 L1939.95 2146.54 L1941.43 2146.75 L1942.92 2146.96 L1944.4 2147.18 L1945.88 2147.41 L1947.36 2147.64 L1948.84 2147.87 L1950.32 2148.11 L1951.81 2148.35 L1953.29 2148.59 L1954.77 2148.84 L1956.25 2149.09 L1957.73 2149.34 L1959.22 2149.59 L1960.7 2149.85 L1962.18 2150.11 L1963.66 2150.37 L1965.15 2150.63 L1966.63 2150.89 L1968.11 2151.15 L1969.6 2151.42 L1971.08 2151.68 L1972.56 2151.95 L1974.05 2152.21 L1975.53 2152.47 L1977.01 2152.74 L1978.5 2153 L1979.98 2153.26 L1981.47 2153.52 L1982.95 2153.78 L1984.44 2154.03 L1985.93 2154.29 L1987.41 2154.54 L1988.9 2154.79 L1990.39 2155.03 L1991.87 2155.28 L1993.36 2155.52 L1994.85 2155.75 L1996.34 2155.98 L1997.83 2156.21 L1999.32 2156.44 L2000.81 2156.66 L2002.3 2156.88 L2003.79 2157.09 L2005.28 2157.3 L2006.77 2157.5 L2008.26 2157.7 L2009.75 2157.9 L2011.24 2158.09 L2012.73 2158.28 L2014.23 2158.46 L2015.72 2158.64 L2017.21 2158.82 L2018.7 2158.99 L2020.19 2159.15 L2021.69 2159.31 L2023.18 2159.47 L2024.67 2159.62 L2026.17 2159.77 L2027.66 2159.91 L2029.15 2160.05 L2030.65 2160.18 L2032.14 2160.3 L2033.63 2160.43 L2035.13 2160.54 L2036.62 2160.65 L2038.11 2160.76 L2039.61 2160.86" fill="none" stroke="#FF0000" stroke-width="7" stroke-linejoin="round" stroke-linecap="butt"/>
<path d="M424.8 2318.8 L426.02 2318.89 L426.85 2318.96 L427.8 2319.05 L428.79 2319.15 L429.78 2319.26 L430.77 2319.38 L431.76 2319.51 L432.75 2319.63 L433.75 2319.76 L434.74 2319.88 L435.73 2320.01 L436.72 2320.13 L437.72 2320.25 L438.71 2320.37 L439.7 2320.48 L440.7 2320.58 L441.69 2320.68 L442.69 2320.78 L443.68 2320.87 L444.68 2320.95 L445.68 2321.03 L446.67 2321.1 L447.67 2321.16 L448.67 2321.21 L449.67 2321.25 L450.67 2321.29 L451.67 2321.31 L452.67 2321.33 L453.67 2321.33 L454.67 2321.32 L455.67 2321.29 L456.67 2321.26 L457.66 2321.21 L458.66 2321.15 L459.66 2321.06 L460.65 2320.97 L461.65 2320.86 L462.64 2320.73 L463.62 2320.57 L464.61 2320.39 L465.59 2320.2 L466.56 2319.99 L467.53 2319.76 L468.5 2319.5 L469.46 2319.22 L470.41 2318.92 L471.37 2318.62 L472.31 2318.3 L473.25 2317.96 L474.19 2317.61 L475.12 2317.25 L476.05 2316.88 L476.97 2316.5 L477.89 2316.11 L478.81 2315.7 L479.72 2315.29 L480.63 2314.88 L481.54 2314.46 L482.44 2314.03 L483.34 2313.59 L484.23 2313.14 L485.13 2312.69 L486.02 2312.24 L486.9 2311.78 L487.79 2311.31 L488.67 2310.83 L489.55 2310.36 L490.42 2309.88 L491.3 2309.39 L492.17 2308.91 L493.04 2308.41 L493.91 2307.91 L494.77 2307.41 L495.64 2306.91 L496.5 2306.41 L497.36 2305.9 L498.22 2305.39 L499.08 2304.87 L499.94 2304.36 L500.79 2303.84 L501.65 2303.32 L502.5 2302.8 L503.35 2302.27 L504.2 2301.75 L505.05 2301.22 L505.9 2300.7 L506.75 2300.17 L507.6 2299.64 L508.45 2299.11 L509.3 2298.58 L510.14 2298.04 L510.99 2297.51 L511.84 2296.98 L512.68 2296.45 L513.53 2295.92 L514.38 2295.39 L515.23 2294.86 L516.08 2294.33 L516.93 2293.8 L517.78 2293.28 L518.62 2292.75 L519.47 2292.22 L520.32 2291.69 L521.17 2291.17 L522.02 2290.64 L522.87 2290.11 L523.72 2289.58 L524.56 2289.04 L525.41 2288.51 L526.26 2287.98 L527.1 2287.44 L527.94 2286.9 L528.78 2286.36 L529.62 2285.81 L530.45 2285.26 L531.29 2284.71 L532.12 2284.15 L532.95 2283.59 L533.77 2283.03 L534.6 2282.46 L535.41 2281.89 L536.23 2281.31 L537.04 2280.72 L537.85 2280.13 L538.65 2279.54 L539.45 2278.93 L540.24 2278.32 L541.03 2277.71 L541.81 2277.09 L542.59 2276.46 L543.36 2275.82 L544.12 2275.18 L544.88 2274.52 L545.63 2273.86 L546.38 2273.2 L547.11 2272.52 L547.84 2271.83 L548.56 2271.14 L549.27 2270.44 L549.97 2269.73 L550.67 2269.01 L551.35 2268.28 L552.03 2267.54 L552.7 2266.8 L553.36 2266.05 L554.01 2265.29 L554.65 2264.52 L555.29 2263.75 L555.92 2262.98 L556.55 2262.2 L557.16 2261.41 L557.77 2260.62 L558.38 2259.83 L558.98 2259.02 L559.57 2258.22 L560.15 2257.4 L560.73 2256.59 L561.3 2255.77 L561.86 2254.94 L562.41 2254.11 L562.96 2253.27 L563.5 2252.43 L564.03 2251.58 L564.55 2250.73 L565.07 2249.87 L565.58 2249.01 L566.08 2248.15 L566.57 2247.28 L567.06 2246.4 L567.53 2245.52 L568.01 2244.64 L568.47 2243.76 L568.93 2242.87 L569.38 2241.97 L569.82 2241.08 L570.25 2240.18 L570.68 2239.27 L571.11 2238.37 L571.52 2237.46 L571.93 2236.54 L572.33 2235.63 L572.73 2234.71 L573.12 2233.79 L573.5 2232.87 L573.88 2231.94 L574.25 2231.01 L574.62 2230.08 L574.98 2229.15 L575.34 2228.22 L575.69 2227.28 L576.03 2226.34 L576.37 2225.4 L576.71 2224.46 L577.05 2223.52 L577.38 2222.57 L577.7 2221.63 L578.02 2220.68 L578.34 2219.73 L578.66 2218.78 L578.97 2217.83 L579.27 2216.88 L579.57 2215.93 L579.87 2214.97 L580.17 2214.02 L580.46 2213.06 L580.74 2212.1 L581.02 2211.14 L581.29 2210.18 L581.56 2209.22 L581.83 2208.26 L582.09 2207.29 L582.35 2206.32 L582.6 2205.36 L582.85 2204.39 L583.09 2203.42 L583.33 2202.45 L583.57 2201.47 L583.8 2200.5 L584.02 2199.53 L584.24 2198.55 L584.46 2197.58 L584.68 2196.6 L584.89 2195.62 L585.09 2194.64 L585.29 2193.66 L585.49 2192.68 L585.69 2191.7 L585.88 2190.72 L586.08 2189.74 L586.26 2188.76 L586.44 2187.77 L586.62 2186.79 L586.8 2185.81 L586.98 2184.82 L587.16 2183.84 L587.33 2182.85 L587.5 2181.87 L587.67 2180.88 L587.83 2179.9 L587.99 2178.91 L588.16 2177.92 L588.32 2176.94 L588.48 2175.95 L588.64 2174.96 L588.79 2173.97 L588.95 2172.99 L589.1 2172 L589.25 2171.01 L589.4 2170.02 L589.55 2169.03 L589.7 2168.04 L589.85 2167.05 L590 2166.07 L590.14 2165.08 L590.28 2164.09 L590.43 2163.1 L590.57 2162.11 L590.71 2161.12 L590.85 2160.13 L590.99 2159.14 L591.13 2158.15 L591.27 2157.16 L591.4 2156.16 L591.53 2155.17 L591.66 2154.18 L591.79 2153.19 L591.92 2152.2 L592.05 2151.21 L592.18 2150.21 L592.3 2149.22 L592.43 2148.23 L592.56 2147.24 L592.68 2146.25 L592.8 2145.25 L592.92 2144.26 L593.03 2143.27 L593.15 2142.27 L593.26 2141.28 L593.38 2140.29 L593.49 2139.29 L593.6 2138.3 L593.72 2137.31 L593.83 2136.31 L593.94 2135.32 L594.05 2134.33 L594.16 2133.33 L594.27 2132.34 L594.38 2131.34 L594.48 2130.35 L594.59 2129.35 L594.69 2128.36 L594.79 2127.37 L594.9 2126.37 L595 2125.38 L595.11 2124.38 L595.21 2123.39 L595.32 2122.39 L595.42 2121.4 L595.52 2120.4 L595.62 2119.41 L595.72 2118.41 L595.82 2117.42 L595.92 2116.42 L596.02 2115.43 L596.12 2114.43 L596.22 2113.44 L596.31 2112.44 L596.41 2111.45 L596.51 2110.45 L596.61 2109.46 L596.71 2108.46 L596.81 2107.47 L596.9 2106.47 L597 2105.48 L597.1 2104.48 L597.19 2103.49 L597.29 2102.49 L597.38 2101.49 L597.48 2100.5 L597.57 2099.5 L597.67 2098.51 L597.76 2097.51 L597.86 2096.52 L597.95 2095.52 L598.05 2094.53 L598.14 2093.53 L598.24 2092.54 L598.33 2091.54 L598.43 2090.54 L598.52 2089.55 L598.62 2088.55 L598.71 2087.56 L598.81 2086.56 L598.9 2085.57 L598.99 2084.57 L599.09 2083.58 L599.18 2082.58 L599.27 2081.58 L599.37 2080.59 L599.46 2079.59 L599.56 2078.6 L599.65 2077.6 L599.74 2076.61 L599.84 2075.61 L599.93 2074.62 L600.03 2073.62 L600.12 2072.62 L600.22 2071.63 L600.31 2070.63 L600.41 2069.64 L600.5 2068.64 L600.6 2067.65 L600.69 2066.65 L600.79 2065.66 L600.88 2064.66 L600.97 2063.66 L601.07 2062.67 L601.16 2061.67 L601.26 2060.68 L601.36 2059.68 L601.45 2058.69 L601.55 2057.69 L601.65 2056.7 L601.75 2055.7 L601.84 2054.71 L601.94 2053.71 L602.04 2052.72 L602.14 2051.72 L602.23 2050.73 L602.33 2049.73 L602.43 2048.74 L602.53 2047.74 L602.63 2046.74 L602.72 2045.75 L602.83 2044.75 L602.93 2043.76 L603.03 2042.77 L603.13 2041.77 L603.24 2040.78 L603.34 2039.78 L603.44 2038.79 L603.54 2037.79 L603.65 2036.8 L603.75 2035.8 L603.85 2034.81 L603.96 2033.81 L604.06 2032.82 L604.17 2031.82 L604.28 2030.83 L604.39 2029.84 L604.5 2028.84 L604.61 2027.85 L604.72 2026.85 L604.83 2025.86 L604.94 2024.87 L605.05 2023.87 L605.16 2022.88 L605.28 2021.89 L605.39 2020.89 L605.5 2019.9 L605.62 2018.91 L605.73 2017.91 L605.85 2016.92 L605.97 2015.93 L606.09 2014.93 L606.2 2013.94 L606.32 2012.95 L606.44 2011.95 L606.56 2010.96 L606.68 2009.97 L606.8 2008.98 L606.92 2007.98 L607.04 2006.99 L607.16 2006 L607.28 2005 L607.4 2004.01 L607.52 2003.02 L607.64 2002.03 L607.76 2001.03 L607.89 2000.04 L608.01 1999.05 L608.13 1998.06 L608.25 1997.06 L608.37 1996.07 L608.5 1995.08 L608.62 1994.09 L608.74 1993.09 L608.87 1992.1 L608.99 1991.11 L609.12 1990.12 L609.24 1989.13 L609.37 1988.13 L609.49 1987.14 L609.61 1986.15 L609.74 1985.16 L609.86 1984.16 L609.99 1983.17 L610.12 1982.18 L610.24 1981.19 L610.37 1980.2 L610.5 1979.2 L610.63 1978.21 L610.76 1977.22 L610.88 1976.23 L611.01 1975.24 L611.14 1974.25 L611.27 1973.25 L611.4 1972.26 L611.53 1971.27 L611.66 1970.28 L611.79 1969.29 L611.92 1968.3 L612.05 1967.31 L612.18 1966.31 L612.31 1965.32 L612.45 1964.33 L612.58 1963.34 L612.71 1962.35 L612.84 1961.36 L612.98 1960.37 L613.11 1959.38 L613.24 1958.39 L613.38 1957.39 L613.52 1956.4 L613.65 1955.41 L613.79 1954.42 L613.93 1953.43 L614.06 1952.44 L614.2 1951.45 L614.34 1950.46 L614.47 1949.47 L614.61 1948.48 L614.75 1947.49 L614.9 1946.5 L615.04 1945.51 L615.18 1944.52 L615.32 1943.53 L615.46 1942.54 L615.61 1941.55 L615.75 1940.56 L615.89 1939.57 L616.04 1938.58 L616.18 1937.59 L616.33 1936.6 L616.48 1935.61 L616.63 1934.63 L616.78 1933.64 L616.93 1932.65 L617.08 1931.66 L617.23 1930.67 L617.38 1929.68 L617.54 1928.69 L617.69 1927.71 L617.85 1926.72 L618.01 1925.73 L618.17 1924.74 L618.33 1923.76 L618.49 1922.77 L618.65 1921.78 L618.82 1920.8 L618.98 1919.81 L619.16 1918.83 L619.33 1917.84 L619.5 1916.86 L619.67 1915.87 L619.85 1914.89 L620.03 1913.9 L620.21 1912.92 L620.4 1911.94 L620.59 1910.96 L620.79 1909.98 L620.98 1909 L621.19 1908.02 L621.4 1907.04 L621.61 1906.06 L621.83 1905.09 L622.06 1904.11 L622.29 1903.14 L622.53 1902.17 L622.79 1901.2 L623.05 1900.24 L623.33 1899.28 L623.63 1898.33 L623.94 1897.38 L624.29 1896.44 L624.66 1895.51 L625.07 1894.61 L625.54 1893.73 L626.07 1892.9 L626.68 1892.12 L627.37 1891.43 L628.15 1890.86 L629 1890.42 L629.89 1890.19 L630.78 1890.21 L631.63 1890.5 L632.39 1891.03 L633.06 1891.72 L633.65 1892.51 L634.16 1893.35 L634.63 1894.23 L635.06 1895.13 L635.47 1896.05 L635.84 1896.97 L636.2 1897.91 L636.54 1898.85 L636.87 1899.79 L637.19 1900.74 L637.49 1901.69 L637.79 1902.64 L638.08 1903.6 L638.36 1904.56 L638.64 1905.52 L638.9 1906.49 L639.17 1907.45 L639.43 1908.42 L639.68 1909.38 L639.93 1910.35 L640.17 1911.32 L640.41 1912.29 L640.64 1913.27 L640.87 1914.24 L641.1 1915.21 L641.32 1916.19 L641.54 1917.16 L641.75 1918.14 L641.96 1919.12 L642.17 1920.1 L642.37 1921.08 L642.57 1922.06 L642.77 1923.04 L642.96 1924.02 L643.16 1925 L643.35 1925.98 L643.53 1926.96 L643.72 1927.95 L643.9 1928.93 L644.08 1929.91 L644.26 1930.9 L644.44 1931.88 L644.61 1932.87 L644.78 1933.85 L644.96 1934.84 L645.13 1935.82 L645.29 1936.81 L645.46 1937.79 L645.63 1938.78 L645.79 1939.76 L645.95 1940.75 L646.12 1941.74 L646.28 1942.72 L646.44 1943.71 L646.59 1944.7 L646.75 1945.69 L646.91 1946.67 L647.06 1947.66 L647.22 1948.65 L647.37 1949.64 L647.53 1950.63 L647.68 1951.62 L647.83 1952.6 L647.98 1953.59 L648.13 1954.58 L648.28 1955.57 L648.43 1956.56 L648.58 1957.55 L648.72 1958.54 L648.87 1959.53 L649.01 1960.52 L649.16 1961.51 L649.3 1962.49 L649.45 1963.48 L649.59 1964.47 L649.73 1965.46 L649.88 1966.45 L650.02 1967.44 L650.16 1968.43 L650.3 1969.42 L650.43 1970.41 L650.57 1971.4 L650.71 1972.39 L650.85 1973.38 L650.99 1974.38 L651.13 1975.37 L651.26 1976.36 L651.4 1977.35 L651.53 1978.34 L651.67 1979.33 L651.8 1980.32 L651.94 1981.31 L652.07 1982.3 L652.21 1983.29 L652.34 1984.28 L652.48 1985.27 L652.61 1986.27 L652.74 1987.26 L652.87 1988.25 L653 1989.24 L653.14 1990.23 L653.27 1991.22 L653.4 1992.21 L653.53 1993.2 L653.66 1994.2 L653.79 1995.19 L653.92 1996.18 L654.05 1997.17 L654.18 1998.16 L654.31 1999.15 L654.44 2000.15 L654.57 2001.14 L654.7 2002.13 L654.82 2003.12 L654.95 2004.11 L655.08 2005.1 L655.21 2006.1 L655.34 2007.09 L655.47 2008.08 L655.59 2009.07 L655.72 2010.06 L655.84 2011.06 L655.97 2012.05 L656.1 2013.04 L656.22 2014.03 L656.35 2015.02 L656.48 2016.02 L656.6 2017.01 L656.73 2018 L656.85 2018.99 L656.98 2019.98 L657.1 2020.98 L657.23 2021.97 L657.35 2022.96 L657.48 2023.95 L657.6 2024.94 L657.73 2025.94 L657.85 2026.93 L657.97 2027.92 L658.1 2028.91 L658.22 2029.91 L658.35 2030.9 L658.47 2031.89 L658.59 2032.88 L658.71 2033.88 L658.84 2034.87 L658.96 2035.86 L659.08 2036.85 L659.2 2037.85 L659.33 2038.84 L659.45 2039.83 L659.57 2040.82 L659.69 2041.82 L659.82 2042.81 L659.94 2043.8 L660.06 2044.79 L660.18 2045.79 L660.3 2046.78 L660.42 2047.77 L660.54 2048.76 L660.66 2049.76 L660.79 2050.75 L660.91 2051.74 L661.03 2052.73 L661.15 2053.73 L661.27 2054.72 L661.39 2055.71 L661.51 2056.71 L661.63 2057.7 L661.75 2058.69 L661.87 2059.68 L661.99 2060.68 L662.11 2061.67 L662.23 2062.66 L662.35 2063.66 L662.46 2064.65 L662.58 2065.64 L662.7 2066.63 L662.81 2067.63 L662.93 2068.62 L663.04 2069.61 L663.15 2070.61 L663.27 2071.6 L663.38 2072.6 L663.49 2073.59 L663.6 2074.58 L663.72 2075.58 L663.83 2076.57 L663.94 2077.56 L664.05 2078.56 L664.16 2079.55 L664.27 2080.55 L664.37 2081.54 L664.47 2082.54 L664.58 2083.53 L664.68 2084.52 L664.79 2085.52 L664.89 2086.51 L664.99 2087.51 L665.1 2088.5 L665.2 2089.5 L665.3 2090.49 L665.41 2091.49 L665.51 2092.48 L665.61 2093.48 L665.71 2094.47 L665.81 2095.47 L665.91 2096.46 L666 2097.46 L666.1 2098.45 L666.2 2099.45 L666.3 2100.44 L666.4 2101.44 L666.5 2102.43 L666.59 2103.43 L666.69 2104.42 L666.79 2105.42 L666.89 2106.41 L666.99 2107.41 L667.08 2108.4 L667.18 2109.4 L667.28 2110.39 L667.37 2111.39 L667.47 2112.39 L667.57 2113.38 L667.66 2114.38 L667.76 2115.37 L667.85 2116.37 L667.95 2117.36 L668.05 2118.36 L668.14 2119.35 L668.24 2120.35 L668.34 2121.34 L668.43 2122.34 L668.53 2123.33 L668.63 2124.33 L668.72 2125.32 L668.82 2126.32 L668.92 2127.31 L669.02 2128.31 L669.11 2129.31 L669.21 2130.3 L669.31 2131.3 L669.4 2132.29 L669.5 2133.29 L669.6 2134.28 L669.7 2135.28 L669.8 2136.27 L669.89 2137.27 L669.99 2138.26 L670.1 2139.26 L670.2 2140.25 L670.3 2141.25 L670.4 2142.24 L670.5 2143.24 L670.6 2144.23 L670.7 2145.23 L670.8 2146.22 L670.9 2147.22 L671 2148.21 L671.1 2149.21 L671.21 2150.2 L671.31 2151.2 L671.42 2152.19 L671.53 2153.18 L671.63 2154.18 L671.74 2155.17 L671.85 2156.17 L671.95 2157.16 L672.06 2158.16 L672.17 2159.15 L672.27 2160.14 L672.38 2161.14 L672.49 2162.13 L672.6 2163.13 L672.72 2164.12 L672.84 2165.11 L672.95 2166.1 L673.07 2167.1 L673.19 2168.09 L673.31 2169.08 L673.42 2170.08 L673.54 2171.07 L673.66 2172.06 L673.78 2173.06 L673.9 2174.05 L674.03 2175.04 L674.15 2176.03 L674.29 2177.02 L674.42 2178.01 L674.56 2179.01 L674.69 2180 L674.83 2180.99 L674.96 2181.98 L675.1 2182.97 L675.23 2183.96 L675.37 2184.95 L675.52 2185.94 L675.67 2186.93 L675.83 2187.91 L675.99 2188.9 L676.16 2189.89 L676.32 2190.87 L676.48 2191.86 L676.65 2192.85 L676.81 2193.83 L676.99 2194.82 L677.17 2195.8 L677.36 2196.78 L677.55 2197.76 L677.75 2198.74 L677.95 2199.72 L678.14 2200.7 L678.34 2201.68 L678.55 2202.66 L678.77 2203.64 L678.99 2204.61 L679.21 2205.59 L679.44 2206.56 L679.67 2207.54 L679.9 2208.51 L680.15 2209.48 L680.4 2210.44 L680.66 2211.41 L680.92 2212.37 L681.19 2213.34 L681.47 2214.3 L681.76 2215.26 L682.06 2216.21 L682.37 2217.16 L682.69 2218.11 L683.02 2219.05 L683.37 2219.99 L683.73 2220.92 L684.11 2221.84 L684.5 2222.76 L684.91 2223.67 L685.35 2224.57 L685.82 2225.45 L686.31 2226.32 L686.83 2227.17 L687.38 2228 L687.98 2228.8 L688.62 2229.56 L689.31 2230.27 L690.05 2230.93 L690.84 2231.52 L691.68 2232.03 L692.57 2232.42 L693.5 2232.67 L694.44 2232.73 L695.37 2232.59 L696.25 2232.26 L697.08 2231.77 L697.85 2231.17 L698.56 2230.48 L699.23 2229.74 L699.85 2228.97 L700.45 2228.17 L701.02 2227.35 L701.58 2226.52 L702.12 2225.68 L702.64 2224.83 L703.16 2223.97 L703.67 2223.11 L704.17 2222.25 L704.67 2221.38 L705.16 2220.51 L705.65 2219.64 L706.14 2218.76 L706.63 2217.89 L707.12 2217.02 L707.61 2216.15 L708.11 2215.28 L708.6 2214.41 L709.11 2213.55 L709.61 2212.68 L710.12 2211.83 L710.64 2210.97 L711.17 2210.12 L711.71 2209.28 L712.26 2208.45 L712.82 2207.62 L713.4 2206.8 L713.98 2205.99 L714.58 2205.19 L715.17 2204.38 L715.77 2203.58 L716.37 2202.78 L716.96 2201.98 L717.55 2201.17 L718.13 2200.36 L718.71 2199.54 L719.27 2198.71 L719.84 2197.89 L720.4 2197.06 L720.96 2196.23 L721.51 2195.4 L722.07 2194.57 L722.62 2193.73 L723.17 2192.9 L723.73 2192.07 L724.28 2191.23 L724.83 2190.4 L725.39 2189.57 L725.95 2188.74 L726.51 2187.91 L727.07 2187.09 L727.64 2186.26 L728.21 2185.44 L728.79 2184.62 L729.37 2183.81 L729.96 2183 L730.55 2182.2 L731.15 2181.4 L731.76 2180.61 L732.38 2179.83 L733.02 2179.05 L733.66 2178.29 L734.32 2177.54 L734.99 2176.8 L735.68 2176.08 L736.4 2175.38 L737.13 2174.7 L737.89 2174.06 L738.68 2173.46 L739.51 2172.91 L740.37 2172.43 L741.27 2172.03 L742.2 2171.75 L743.16 2171.59 L744.13 2171.57 L745.09 2171.69 L746.03 2171.95 L746.94 2172.31 L747.82 2172.77 L748.65 2173.31 L749.44 2173.91 L750.19 2174.56 L750.9 2175.25 L751.59 2175.98 L752.24 2176.73 L752.88 2177.5 L753.49 2178.29 L754.08 2179.1 L754.64 2179.92 L755.2 2180.75 L755.74 2181.59 L756.27 2182.44 L756.78 2183.3 L757.29 2184.16 L757.79 2185.03 L758.28 2185.9 L758.76 2186.78 L759.23 2187.66 L759.69 2188.54 L760.16 2189.43 L760.61 2190.32 L761.06 2191.21 L761.51 2192.11 L761.95 2193 L762.39 2193.9 L762.83 2194.8 L763.27 2195.7 L763.7 2196.6 L764.13 2197.5 L764.56 2198.41 L764.99 2199.31 L765.42 2200.21 L765.85 2201.12 L766.28 2202.02 L766.7 2202.92 L767.13 2203.83 L767.54 2204.74 L767.95 2205.65 L768.35 2206.57 L768.75 2207.49 L769.15 2208.4 L769.54 2209.33 L769.91 2210.25 L770.28 2211.18 L770.64 2212.11 L771 2213.05 L771.35 2213.98 L771.7 2214.92 L772.04 2215.86 L772.38 2216.8 L772.71 2217.74 L773.04 2218.69 L773.37 2219.63 L773.69 2220.58 L774.01 2221.53 L774.34 2222.47 L774.65 2223.42 L774.97 2224.37 L775.28 2225.32 L775.58 2226.27 L775.89 2227.22 L776.2 2228.18 L776.51 2229.13 L776.81 2230.08 L777.12 2231.03 L777.42 2231.99 L777.72 2232.94 L778.02 2233.89 L778.32 2234.85 L778.62 2235.8 L778.92 2236.75 L779.22 2237.71 L779.52 2238.66 L779.82 2239.62 L780.12 2240.57 L780.42 2241.52 L780.72 2242.48 L781.02 2243.43 L781.32 2244.38 L781.63 2245.34 L781.93 2246.29 L782.24 2247.24 L782.55 2248.19 L782.86 2249.14 L783.16 2250.1 L783.47 2251.05 L783.79 2252 L784.1 2252.95 L784.42 2253.89 L784.75 2254.84 L785.07 2255.78 L785.4 2256.73 L785.72 2257.68 L786.05 2258.62 L786.39 2259.56 L786.74 2260.5 L787.09 2261.44 L787.44 2262.37 L787.79 2263.31 L788.15 2264.24 L788.51 2265.17 L788.89 2266.1 L789.28 2267.02 L789.67 2267.94 L790.07 2268.85 L790.47 2269.77 L790.88 2270.68 L791.3 2271.59 L791.73 2272.49 L792.17 2273.39 L792.61 2274.29 L793.05 2275.19 L793.5 2276.08 L793.95 2276.97 L794.41 2277.86 L794.87 2278.75 L795.34 2279.63 L795.81 2280.51 L796.29 2281.39 L796.78 2282.27 L797.27 2283.14 L797.76 2284.01 L798.27 2284.87 L798.78 2285.73 L799.3 2286.58 L799.83 2287.43 L800.36 2288.27 L800.91 2289.11 L801.46 2289.94 L802.03 2290.77 L802.6 2291.59 L803.19 2292.4 L803.79 2293.2 L804.39 2293.99 L805.01 2294.78 L805.64 2295.55 L806.29 2296.32 L806.94 2297.07 L807.61 2297.81 L808.29 2298.55 L808.99 2299.27 L809.69 2299.97 L810.41 2300.67 L811.14 2301.35 L811.89 2302.01 L812.64 2302.67 L813.41 2303.3 L814.19 2303.93 L814.99 2304.54 L815.79 2305.13 L816.61 2305.71 L817.44 2306.26 L818.28 2306.8 L819.14 2307.31 L820.01 2307.8 L820.9 2308.26 L821.8 2308.69 L822.71 2309.09 L823.64 2309.46 L824.58 2309.8 L825.53 2310.12 L826.48 2310.4 L827.45 2310.66 L828.42 2310.9 L829.39 2311.12 L830.37 2311.32 L831.35 2311.51 L832.34 2311.69 L833.32 2311.85 L834.31 2312.01 L835.3 2312.16 L836.29 2312.31 L837.28 2312.45 L838.27 2312.59 L839.26 2312.73 L840.25 2312.87 L841.24 2313.01 L842.23 2313.15 L843.22 2313.29 L844.21 2313.44 L845.2 2313.58 L846.19 2313.73 L847.18 2313.88 L848.16 2314.02 L849.15 2314.17 L850.14 2314.31 L851.13 2314.46 L852.12 2314.6 L853.11 2314.74 L854.1 2314.88 L855.09 2315.01 L856.09 2315.14 L857.08 2315.28 L858.07 2315.4 L859.06 2315.53 L860.05 2315.66 L861.04 2315.78 L862.04 2315.9 L863.03 2316.02 L864.02 2316.14 L865.02 2316.26 L866.01 2316.38 L867 2316.49 L868 2316.61 L868.99 2316.72 L869.98 2316.83 L870.98 2316.94 L871.97 2317.05 L872.96 2317.16 L873.96 2317.27 L874.95 2317.37 L875.95 2317.48 L876.94 2317.58 L877.94 2317.68 L878.93 2317.79 L879.93 2317.89 L880.92 2317.99 L881.92 2318.09 L882.91 2318.19 L883.91 2318.28 L884.9 2318.38 L885.9 2318.47 L886.89 2318.57 L887.89 2318.66 L888.89 2318.75 L889.88 2318.84 L890.88 2318.94 L891.87 2319.02 L892.87 2319.11 L893.87 2319.2 L894.86 2319.28 L895.86 2319.37 L896.85 2319.45 L897.85 2319.54 L898.85 2319.62 L899.84 2319.7 L900.84 2319.78 L901.84 2319.85 L902.84 2319.93 L903.83 2320 L904.83 2320.08 L905.83 2320.15 L906.82 2320.23 L907.82 2320.29 L908.82 2320.36 L909.82 2320.43 L910.82 2320.49 L911.81 2320.56 L912.81 2320.62 L913.81 2320.68 L914.81 2320.73 L915.81 2320.79 L916.81 2320.84 L917.8 2320.89 L918.8 2320.93 L919.8 2320.98 L920.8 2321.01 L921.8 2321.04 L922.8 2321.07 L923.8 2321.09 L924.8 2321.11 L925.8 2321.12 L926.8 2321.12 L927.8 2321.12 L928.8 2321.11 L929.8 2321.1 L930.8 2321.08 L931.8 2321.05 L932.8 2321.02 L933.8 2320.98 L934.8 2320.94 L935.8 2320.9 L936.79 2320.85 L937.79 2320.79 L938.79 2320.73 L939.79 2320.67 L940.79 2320.6 L941.78 2320.53 L942.78 2320.46 L943.78 2320.38 L944.77 2320.3 L945.77 2320.22 L946.77 2320.14 L947.76 2320.05 L948.76 2319.97 L949.76 2319.88 L950.75 2319.8 L951.75 2319.71 L952.75 2319.63 L953.74 2319.55 L954.74 2319.47 L955.74 2319.4 L956.74 2319.33 L957.73 2319.27 L958.73 2319.21 L959.73 2319.16 L960.73 2319.11 L961.73 2319.07 L962.73 2319.04 L963.73 2319.02 L964.73 2319.01 L965.73 2319.01 L966.73 2319.03 L967.73 2319.05 L968.72 2319.09 L969.72 2319.15 L970.72 2319.21 L971.72 2319.3 L972.71 2319.4 L973.7 2319.51 L974.7 2319.64 L975.68 2319.78 L976.67 2319.93 L977.66 2320.1 L978.64 2320.27 L979.63 2320.45 L980.61 2320.64 L981.59 2320.83 L982.57 2321.02 L983.55 2321.21 L984.54 2321.4 L985.52 2321.58 L986.51 2321.75 L987.49 2321.91 L988.48 2322.05 L989.47 2322.19 L990.46 2322.31 L991.46 2322.41 L992.45 2322.5 L993.45 2322.56 L994.45 2322.62 L995.45 2322.65 L996.45 2322.67 L997.45 2322.67 L998.45 2322.65 L999.45 2322.62 L1000.44 2322.57 L1001.44 2322.51 L1002.44 2322.42 L1003.43 2322.33 L1004.43 2322.22 L1005.42 2322.1 L1006.41 2321.97 L1007.4 2321.83 L1008.39 2321.67 L1009.38 2321.51 L1010.36 2321.35 L1011.35 2321.17 L1012.33 2320.99 L1013.31 2320.8 L1014.29 2320.62 L1015.27 2320.42 L1016.25 2320.22 L1017.23 2320.02 L1018.21 2319.82 L1019.19 2319.61 L1020.17 2319.4 L1021.15 2319.2 L1022.12 2318.99 L1023.1 2318.77 L1024.08 2318.56 L1025.06 2318.35 L1026.03 2318.14 L1027.01 2317.93 L1027.99 2317.72 L1028.97 2317.52 L1029.95 2317.31 L1030.93 2317.1 L1031.91 2316.9 L1032.89 2316.7 L1033.87 2316.51 L1034.85 2316.32 L1035.83 2316.13 L1036.81 2315.94 L1037.8 2315.77 L1038.78 2315.59 L1039.77 2315.43 L1040.75 2315.27 L1041.74 2315.11 L1042.73 2314.96 L1043.72 2314.82 L1044.71 2314.69 L1045.7 2314.57 L1046.7 2314.46 L1047.69 2314.36 L1048.69 2314.27 L1049.68 2314.2 L1050.68 2314.14 L1051.68 2314.09 L1052.68 2314.06 L1053.68 2314.04 L1054.68 2314.05 L1055.68 2314.07 L1056.68 2314.11 L1057.67 2314.16 L1058.67 2314.24 L1059.67 2314.33 L1060.66 2314.44 L1061.65 2314.55 L1062.64 2314.69 L1063.63 2314.84 L1064.62 2315 L1065.6 2315.17 L1066.59 2315.36 L1067.57 2315.55 L1068.54 2315.76 L1069.52 2315.97 L1070.5 2316.19 L1071.47 2316.41 L1072.44 2316.64 L1073.42 2316.88 L1074.39 2317.12 L1075.36 2317.35 L1076.33 2317.6 L1077.3 2317.84 L1078.27 2318.08 L1079.24 2318.31 L1080.22 2318.54 L1081.19 2318.77 L1082.16 2319 L1083.14 2319.21 L1084.12 2319.42 L1085.1 2319.62 L1086.08 2319.81 L1087.06 2319.99 L1088.05 2320.15 L1089.04 2320.3 L1090.03 2320.44 L1091.02 2320.57 L1092.01 2320.68 L1093.01 2320.77 L1094 2320.85 L1095 2320.91 L1096 2320.96 L1097 2320.99 L1098 2321 L1099 2321 L1100 2321 L1101 2320.97 L1102 2320.94 L1102.99 2320.9 L1103.99 2320.85 L1104.99 2320.79 L1105.99 2320.72 L1106.99 2320.64 L1107.98 2320.56 L1108.98 2320.47 L1109.97 2320.37 L1110.97 2320.27 L1111.96 2320.17 L1112.96 2320.06 L1113.95 2319.94 L1114.94 2319.83 L1115.94 2319.7 L1116.93 2319.58 L1117.92 2319.46 L1118.91 2319.33 L1119.9 2319.2 L1120.9 2319.08 L1121.89 2318.95 L1122.88 2318.82 L1123.87 2318.69 L1124.86 2318.57 L1125.86 2318.45 L1126.85 2318.32 L1127.84 2318.2 L1128.84 2318.09 L1129.83 2317.98 L1130.82 2317.87 L1131.82 2317.76 L1132.81 2317.66 L1133.81 2317.57 L1134.8 2317.48 L1135.8 2317.4 L1136.8 2317.32 L1137.79 2317.26 L1138.79 2317.19 L1139.79 2317.14 L1140.79 2317.1 L1141.79 2317.07 L1142.79 2317.04 L1143.79 2317.02 L1144.79 2317.02 L1145.79 2317.02 L1146.79 2317.03 L1147.79 2317.04 L1148.79 2317.07 L1149.79 2317.1 L1150.79 2317.14 L1151.79 2317.18 L1152.78 2317.22 L1153.78 2317.28 L1154.78 2317.33 L1155.78 2317.4 L1156.78 2317.46 L1157.77 2317.53 L1158.77 2317.6 L1159.77 2317.68 L1160.77 2317.76 L1161.76 2317.84 L1162.76 2317.92 L1163.76 2318 L1164.75 2318.09 L1165.75 2318.18 L1166.74 2318.27 L1167.74 2318.36 L1168.74 2318.45 L1169.73 2318.54 L1170.73 2318.63 L1171.72 2318.71 L1172.72 2318.8 L1173.72 2318.89 L1174.71 2318.97 L1175.71 2319.06 L1176.71 2319.14 L1177.7 2319.22 L1178.7 2319.29 L1179.7 2319.37 L1180.69 2319.43 L1181.69 2319.5 L1182.69 2319.56 L1183.69 2319.61 L1184.69 2319.66 L1185.69 2319.7 L1186.69 2319.73 L1187.69 2319.76 L1188.69 2319.77 L1189.69 2319.78 L1190.69 2319.78 L1191.69 2319.77 L1192.69 2319.75 L1193.68 2319.73 L1194.68 2319.7 L1195.68 2319.66 L1196.68 2319.61 L1197.68 2319.56 L1198.68 2319.5 L1199.68 2319.43 L1200.67 2319.36 L1201.67 2319.28 L1202.67 2319.2 L1203.66 2319.1 L1204.66 2319 L1205.65 2318.9 L1206.65 2318.78 L1207.64 2318.67 L1208.63 2318.54 L1209.62 2318.41 L1210.61 2318.28 L1211.6 2318.14 L1212.59 2317.99 L1213.58 2317.85 L1214.57 2317.69 L1215.56 2317.54 L1216.55 2317.38 L1217.53 2317.22 L1218.52 2317.06 L1219.51 2316.9 L1220.49 2316.74 L1221.48 2316.58 L1222.47 2316.42 L1223.45 2316.25 L1224.44 2316.09 L1225.43 2315.93 L1226.42 2315.77 L1227.4 2315.62 L1228.39 2315.46 L1229.38 2315.3 L1230.36 2315.14 L1231.35 2314.98 L1232.34 2314.82 L1233.33 2314.66 L1234.31 2314.5 L1235.3 2314.33 L1236.28 2314.16 L1237.27 2313.99 L1238.25 2313.81 L1239.24 2313.63 L1240.22 2313.45 L1241.2 2313.26 L1242.18 2313.07 L1243.16 2312.87 L1244.14 2312.66 L1245.12 2312.45 L1246.1 2312.24 L1247.07 2312.02 L1248.05 2311.79 L1249.02 2311.56 L1249.99 2311.32 L1250.96 2311.07 L1251.93 2310.82 L1252.89 2310.56 L1253.86 2310.3 L1254.82 2310.03 L1255.78 2309.75 L1256.74 2309.47 L1257.7 2309.19 L1258.65 2308.89 L1259.61 2308.6 L1260.56 2308.3 L1261.52 2307.99 L1262.47 2307.69 L1263.42 2307.37 L1264.37 2307.06 L1265.31 2306.74 L1266.26 2306.42 L1267.21 2306.1 L1268.15 2305.78 L1269.1 2305.45 L1270.04 2305.12 L1270.99 2304.78 L1271.93 2304.45 L1272.87 2304.11 L1273.81 2303.77 L1274.75 2303.43 L1275.69 2303.08 L1276.63 2302.74 L1277.56 2302.39 L1278.5 2302.04 L1279.43 2301.68 L1280.37 2301.33 L1281.3 2300.97 L1282.23 2300.61 L1283.17 2300.24 L1284.1 2299.88 L1285.03 2299.51 L1285.96 2299.14 L1286.88 2298.77 L1287.81 2298.39 L1288.74 2298.01 L1289.66 2297.63 L1290.58 2297.25 L1291.51 2296.86 L1292.43 2296.48 L1293.35 2296.08 L1294.27 2295.69 L1295.19 2295.3 L1296.1 2294.9 L1297.02 2294.49 L1297.93 2294.09 L1298.85 2293.68 L1299.76 2293.27 L1300.67 2292.85 L1301.58 2292.44 L1302.48 2292.02 L1303.39 2291.6 L1304.3 2291.18 L1305.21 2290.76 L1306.12 2290.34 L1307.03 2289.93 L1307.94 2289.51 L1308.85 2289.1 L1309.76 2288.69 L1310.67 2288.29 L1311.59 2287.88 L1312.5 2287.48 L1313.42 2287.07 L1314.33 2286.67 L1315.24 2286.26 L1316.16 2285.85 L1317.07 2285.44 L1317.98 2285.03 L1318.89 2284.61 L1319.8 2284.19 L1320.7 2283.77 L1321.61 2283.34 L1322.51 2282.9 L1323.4 2282.46 L1324.3 2282.02 L1325.19 2281.56 L1326.08 2281.1 L1326.96 2280.63 L1327.84 2280.16 L1328.71 2279.67 L1329.58 2279.17 L1330.44 2278.67 L1331.3 2278.15 L1332.15 2277.62 L1332.99 2277.09 L1333.82 2276.53 L1334.65 2275.97 L1335.47 2275.4 L1336.27 2274.81 L1337.07 2274.2 L1337.86 2273.59 L1338.63 2272.96 L1339.4 2272.32 L1340.15 2271.66 L1340.89 2270.98 L1341.62 2270.3 L1342.33 2269.6 L1343.03 2268.89 L1343.72 2268.16 L1344.38 2267.42 L1345.04 2266.67 L1345.69 2265.9 L1346.32 2265.13 L1346.94 2264.34 L1347.54 2263.55 L1348.14 2262.74 L1348.72 2261.93 L1349.29 2261.11 L1349.85 2260.28 L1350.4 2259.45 L1350.94 2258.61 L1351.48 2257.76 L1352 2256.91 L1352.51 2256.05 L1353.02 2255.19 L1353.52 2254.32 L1354.01 2253.45 L1354.49 2252.58 L1354.97 2251.7 L1355.44 2250.82 L1355.91 2249.93 L1356.37 2249.04 L1356.82 2248.15 L1357.27 2247.26 L1357.72 2246.37 L1358.16 2245.47 L1358.6 2244.57 L1359.03 2243.67 L1359.47 2242.77 L1359.89 2241.86 L1360.32 2240.96 L1360.74 2240.05 L1361.17 2239.15 L1361.59 2238.24 L1362 2237.33 L1362.42 2236.42 L1362.84 2235.51 L1363.26 2234.6 L1363.67 2233.7 L1364.09 2232.79 L1364.51 2231.88 L1364.92 2230.97 L1365.34 2230.06 L1365.76 2229.15 L1366.18 2228.25 L1366.61 2227.34 L1367.03 2226.43 L1367.45 2225.53 L1367.87 2224.62 L1368.28 2223.71 L1368.7 2222.8 L1369.11 2221.89 L1369.52 2220.97 L1369.92 2220.06 L1370.31 2219.14 L1370.7 2218.22 L1371.09 2217.3 L1371.47 2216.37 L1371.85 2215.45 L1372.23 2214.52 L1372.6 2213.59 L1372.97 2212.66 L1373.33 2211.73 L1373.7 2210.8 L1374.06 2209.87 L1374.42 2208.93 L1374.77 2208 L1375.12 2207.06 L1375.48 2206.13 L1375.83 2205.19 L1376.18 2204.26 L1376.53 2203.32 L1376.87 2202.38 L1377.22 2201.44 L1377.57 2200.51 L1377.91 2199.57 L1378.26 2198.63 L1378.61 2197.69 L1378.95 2196.75 L1379.3 2195.81 L1379.65 2194.88 L1379.99 2193.94 L1380.34 2193 L1380.69 2192.07 L1381.05 2191.13 L1381.4 2190.19 L1381.75 2189.26 L1382.11 2188.33 L1382.47 2187.39 L1382.84 2186.46 L1383.2 2185.53 L1383.57 2184.6 L1383.95 2183.68 L1384.33 2182.75 L1384.72 2181.83 L1385.11 2180.91 L1385.5 2179.99 L1385.91 2179.07 L1386.32 2178.16 L1386.74 2177.26 L1387.16 2176.35 L1387.58 2175.44 L1388.01 2174.54 L1388.43 2173.63 L1388.86 2172.73 L1389.28 2171.82 L1389.7 2170.91 L1390.11 2170 L1390.52 2169.09 L1390.93 2168.18 L1391.34 2167.27 L1391.75 2166.35 L1392.16 2165.44 L1392.57 2164.53 L1392.98 2163.62 L1393.4 2162.71 L1393.83 2161.81 L1394.25 2160.9 L1394.69 2160 L1395.14 2159.11 L1395.6 2158.22 L1396.07 2157.34 L1396.56 2156.47 L1397.07 2155.61 L1397.61 2154.77 L1398.18 2153.95 L1398.79 2153.16 L1399.44 2152.42 L1400.15 2151.73 L1400.92 2151.13 L1401.75 2150.65 L1402.65 2150.33 L1403.58 2150.2 L1404.52 2150.27 L1405.44 2150.53 L1406.31 2150.95 L1407.13 2151.48 L1407.9 2152.1 L1408.63 2152.78 L1409.32 2153.5 L1409.97 2154.25 L1410.6 2155.02 L1411.21 2155.82 L1411.8 2156.62 L1412.37 2157.45 L1412.93 2158.28 L1413.47 2159.11 L1414 2159.96 L1414.52 2160.82 L1415.03 2161.67 L1415.54 2162.54 L1416.03 2163.41 L1416.52 2164.28 L1417 2165.16 L1417.48 2166.03 L1417.95 2166.92 L1418.41 2167.8 L1418.87 2168.69 L1419.33 2169.58 L1419.78 2170.47 L1420.23 2171.36 L1420.68 2172.26 L1421.12 2173.15 L1421.56 2174.05 L1422 2174.95 L1422.44 2175.85 L1422.87 2176.75 L1423.3 2177.65 L1423.73 2178.56 L1424.16 2179.46 L1424.59 2180.36 L1425.01 2181.27 L1425.44 2182.17 L1425.86 2183.08 L1426.29 2183.99 L1426.71 2184.89 L1427.12 2185.8 L1427.53 2186.72 L1427.93 2187.63 L1428.32 2188.55 L1428.72 2189.47 L1429.1 2190.39 L1429.48 2191.32 L1429.84 2192.25 L1430.2 2193.18 L1430.56 2194.12 L1430.92 2195.05 L1431.27 2195.99 L1431.61 2196.93 L1431.95 2197.87 L1432.28 2198.81 L1432.61 2199.75 L1432.95 2200.7 L1433.27 2201.64 L1433.6 2202.59 L1433.92 2203.54 L1434.24 2204.48 L1434.56 2205.43 L1434.87 2206.38 L1435.19 2207.33 L1435.5 2208.28 L1435.82 2209.23 L1436.13 2210.18 L1436.44 2211.13 L1436.75 2212.08 L1437.06 2213.03 L1437.37 2213.98 L1437.68 2214.93 L1438 2215.88 L1438.31 2216.83 L1438.62 2217.78 L1438.93 2218.73 L1439.25 2219.68 L1439.56 2220.63 L1439.88 2221.58 L1440.2 2222.53 L1440.52 2223.47 L1440.84 2224.42 L1441.16 2225.37 L1441.49 2226.31 L1441.82 2227.25 L1442.16 2228.2 L1442.49 2229.14 L1442.83 2230.08 L1443.18 2231.02 L1443.53 2231.95 L1443.89 2232.89 L1444.25 2233.82 L1444.61 2234.75 L1444.99 2235.68 L1445.38 2236.6 L1445.77 2237.52 L1446.16 2238.44 L1446.56 2239.35 L1446.97 2240.27 L1447.38 2241.18 L1447.79 2242.09 L1448.2 2243 L1448.62 2243.91 L1449.03 2244.82 L1449.44 2245.73 L1449.85 2246.64 L1450.27 2247.55 L1450.68 2248.46 L1451.1 2249.37 L1451.52 2250.28 L1451.95 2251.19 L1452.38 2252.09 L1452.81 2252.99 L1453.26 2253.88 L1453.71 2254.78 L1454.17 2255.66 L1454.64 2256.54 L1455.12 2257.42 L1455.62 2258.29 L1456.13 2259.15 L1456.65 2260 L1457.19 2260.84 L1457.75 2261.67 L1458.33 2262.49 L1458.92 2263.29 L1459.53 2264.08 L1460.17 2264.85 L1460.82 2265.61 L1461.49 2266.34 L1462.19 2267.06 L1462.9 2267.76 L1463.63 2268.44 L1464.38 2269.11 L1465.14 2269.75 L1465.93 2270.36 L1466.73 2270.96 L1467.55 2271.53 L1468.38 2272.08 L1469.23 2272.61 L1470.09 2273.12 L1470.96 2273.6 L1471.85 2274.07 L1472.74 2274.51 L1473.64 2274.94 L1474.56 2275.35 L1475.48 2275.74 L1476.4 2276.12 L1477.33 2276.49 L1478.27 2276.84 L1479.21 2277.17 L1480.15 2277.5 L1481.1 2277.82 L1482.05 2278.12 L1483.01 2278.42 L1483.96 2278.71 L1484.92 2278.99 L1485.89 2279.26 L1486.85 2279.52 L1487.82 2279.78 L1488.78 2280.04 L1489.75 2280.28 L1490.72 2280.52 L1491.7 2280.76 L1492.67 2280.99 L1493.64 2281.22 L1494.62 2281.45 L1495.59 2281.67 L1496.57 2281.89 L1497.54 2282.11 L1498.52 2282.33 L1499.49 2282.54 L1500.47 2282.76 L1501.45 2282.98 L1502.42 2283.2 L1503.4 2283.41 L1504.37 2283.63 L1505.35 2283.85 L1506.33 2284.07 L1507.3 2284.28 L1508.28 2284.5 L1509.26 2284.7 L1510.24 2284.91 L1511.22 2285.1 L1512.2 2285.3 L1513.18 2285.48 L1514.16 2285.66 L1515.15 2285.84 L1516.13 2286.01 L1517.12 2286.18 L1518.11 2286.34 L1519.09 2286.49 L1520.08 2286.64 L1521.07 2286.79 L1522.06 2286.93 L1523.05 2287.07 L1524.04 2287.2 L1525.04 2287.33 L1526.03 2287.46 L1527.02 2287.57 L1528.01 2287.69 L1529.01 2287.8 L1530 2287.91 L1531 2288.01 L1531.99 2288.11 L1532.99 2288.2 L1533.98 2288.29 L1534.98 2288.38 L1535.98 2288.46 L1536.97 2288.54 L1537.97 2288.61 L1538.97 2288.68 L1539.97 2288.74 L1540.96 2288.8 L1541.96 2288.85 L1542.96 2288.9 L1543.96 2288.94 L1544.96 2288.97 L1545.96 2288.98 L1546.96 2288.98 L1547.96 2288.95 L1548.96 2288.91 L1549.95 2288.83 L1550.95 2288.73 L1551.94 2288.61 L1552.93 2288.46 L1553.91 2288.3 L1554.9 2288.12 L1555.88 2287.93 L1556.86 2287.73 L1557.84 2287.53 L1558.82 2287.34 L1559.8 2287.15 L1560.78 2286.97 L1561.77 2286.81 L1562.76 2286.67 L1563.75 2286.55 L1564.75 2286.45 L1565.74 2286.37 L1566.74 2286.32 L1567.74 2286.28 L1568.74 2286.27 L1569.74 2286.28 L1570.74 2286.31 L1571.73 2286.36 L1572.73 2286.43 L1573.73 2286.51 L1574.72 2286.61 L1575.71 2286.73 L1576.71 2286.86 L1577.7 2287 L1578.68 2287.15 L1579.67 2287.31 L1580.66 2287.48 L1581.64 2287.66 L1582.62 2287.85 L1583.6 2288.04 L1584.58 2288.24 L1585.56 2288.45 L1586.54 2288.66 L1587.51 2288.87 L1588.49 2289.09 L1589.47 2289.31 L1590.44 2289.53 L1591.42 2289.75 L1592.39 2289.98 L1593.36 2290.22 L1594.33 2290.45 L1595.31 2290.68 L1596.28 2290.92 L1597.25 2291.15 L1598.22 2291.39 L1599.19 2291.63 L1600.16 2291.87 L1601.14 2292.11 L1602.11 2292.35 L1603.08 2292.58 L1604.05 2292.82 L1605.02 2293.06 L1605.99 2293.3 L1606.96 2293.54 L1607.93 2293.78 L1608.91 2294.01 L1609.88 2294.25 L1610.85 2294.48 L1611.82 2294.71 L1612.8 2294.94 L1613.77 2295.17 L1614.74 2295.4 L1615.72 2295.62 L1616.69 2295.84 L1617.67 2296.06 L1618.65 2296.27 L1619.62 2296.48 L1620.6 2296.69 L1621.58 2296.9 L1622.56 2297.1 L1623.54 2297.3 L1624.52 2297.48 L1625.5 2297.67 L1626.49 2297.85 L1627.47 2298.03 L1628.46 2298.19 L1629.45 2298.35 L1630.43 2298.5 L1631.42 2298.64 L1632.42 2298.77 L1633.41 2298.89 L1634.4 2299 L1635.4 2299.09 L1636.39 2299.17 L1637.39 2299.24 L1638.39 2299.29 L1639.39 2299.33 L1640.39 2299.35 L1641.39 2299.35 L1642.39 2299.34 L1643.39 2299.32 L1644.38 2299.29 L1645.38 2299.24 L1646.38 2299.18 L1647.38 2299.11 L1648.37 2299.03 L1649.37 2298.93 L1650.36 2298.83 L1651.36 2298.73 L1652.35 2298.62 L1653.35 2298.5 L1654.34 2298.38 L1655.33 2298.26 L1656.32 2298.14 L1657.32 2298.03 L1658.31 2297.91 L1659.3 2297.8 L1660.3 2297.7 L1661.29 2297.6 L1662.29 2297.52 L1663.29 2297.44 L1664.29 2297.37 L1665.28 2297.32 L1666.28 2297.28 L1667.28 2297.25 L1668.28 2297.24 L1669.28 2297.24 L1670.28 2297.27 L1671.28 2297.3 L1672.28 2297.35 L1673.27 2297.42 L1674.27 2297.51 L1675.26 2297.61 L1676.26 2297.73 L1677.25 2297.86 L1678.24 2298.01 L1679.22 2298.18 L1680.2 2298.36 L1681.18 2298.56 L1682.16 2298.77 L1683.13 2298.99 L1684.1 2299.23 L1685.07 2299.48 L1686.03 2299.75 L1687 2300.02 L1687.96 2300.3 L1688.91 2300.59 L1689.87 2300.9 L1690.82 2301.21 L1691.76 2301.52 L1692.71 2301.85 L1693.66 2302.17 L1694.6 2302.5 L1695.54 2302.84 L1696.48 2303.18 L1697.42 2303.53 L1698.36 2303.87 L1699.3 2304.22 L1700.23 2304.57 L1701.17 2304.93 L1702.1 2305.28 L1703.04 2305.64 L1703.97 2305.99 L1704.91 2306.35 L1705.84 2306.7 L1706.78 2307.05 L1707.72 2307.4 L1708.65 2307.75 L1709.59 2308.1 L1710.53 2308.44 L1711.47 2308.79 L1712.41 2309.12 L1713.35 2309.45 L1714.3 2309.78 L1715.24 2310.11 L1716.19 2310.44 L1717.13 2310.76 L1718.08 2311.07 L1719.04 2311.38 L1719.99 2311.67 L1720.95 2311.97 L1721.9 2312.26 L1722.86 2312.55 L1723.82 2312.83 L1724.78 2313.1 L1725.75 2313.36 L1726.71 2313.61 L1727.68 2313.86 L1728.65 2314.11 L1729.62 2314.35 L1730.6 2314.58 L1731.57 2314.79 L1732.55 2314.99 L1733.53 2315.19 L1734.51 2315.38 L1735.49 2315.57 L1736.48 2315.75 L1737.46 2315.93 L1738.45 2316.09 L1739.44 2316.25 L1740.42 2316.4 L1741.41 2316.54 L1742.4 2316.68 L1743.39 2316.83 L1744.38 2316.96 L1745.38 2317.09 L1746.37 2317.22 L1747.36 2317.34 L1748.35 2317.46 L1749.35 2317.58 L1750.34 2317.69 L1751.33 2317.81 L1752.33 2317.92 L1753.32 2318.02 L1754.32 2318.12 L1755.31 2318.21 L1756.31 2318.31 L1757.3 2318.4 L1758.3 2318.5 L1759.29 2318.59 L1760.29 2318.67 L1761.29 2318.76 L1762.28 2318.83 L1763.28 2318.91 L1764.28 2318.98 L1765.28 2319.06 L1766.27 2319.13 L1767.27 2319.21 L1768.27 2319.27 L1769.27 2319.34 L1770.26 2319.4 L1771.26 2319.46 L1772.26 2319.52 L1773.26 2319.58 L1774.26 2319.63 L1775.26 2319.69 L1776.25 2319.74 L1777.25 2319.79 L1778.25 2319.84 L1779.25 2319.89 L1780.25 2319.93 L1781.25 2319.98 L1782.25 2320.02 L1783.25 2320.07 L1784.25 2320.11 L1785.24 2320.15 L1786.24 2320.19 L1787.24 2320.22 L1788.24 2320.26 L1789.24 2320.29 L1790.24 2320.32 L1791.24 2320.36 L1792.24 2320.39 L1793.24 2320.42 L1794.24 2320.45 L1795.24 2320.48 L1796.24 2320.51 L1797.24 2320.53 L1798.24 2320.56 L1799.24 2320.58 L1800.24 2320.61 L1801.24 2320.63 L1802.24 2320.66 L1803.24 2320.68 L1804.24 2320.7 L1805.24 2320.72 L1806.24 2320.74 L1807.24 2320.76 L1808.24 2320.78 L1809.24 2320.8 L1810.23 2320.82 L1811.23 2320.84 L1812.23 2320.85 L1813.23 2320.87 L1814.23 2320.89 L1815.23 2320.9 L1816.23 2320.92 L1817.23 2320.93 L1818.23 2320.95 L1819.23 2320.96 L1820.23 2320.98 L1821.23 2320.99 L1822.23 2321.01 L1823.23 2321.03 L1824.23 2321.04 L1825.23 2321.06 L1826.23 2321.07 L1827.23 2321.09 L1828.23 2321.1 L1829.23 2321.12 L1830.23 2321.14 L1831.23 2321.15 L1832.23 2321.17 L1833.23 2321.19 L1834.23 2321.2 L1835.23 2321.22 L1836.23 2321.23 L1837.23 2321.25 L1838.23 2321.27 L1839.23 2321.28 L1840.23 2321.3 L1841.23 2321.32 L1842.23 2321.33 L1843.23 2321.35 L1844.23 2321.36 L1845.23 2321.37 L1846.23 2321.39 L1847.23 2321.4 L1848.23 2321.42 L1849.23 2321.43 L1850.23 2321.44 L1851.23 2321.46 L1852.23 2321.47 L1853.23 2321.48 L1854.23 2321.49 L1855.23 2321.5 L1856.23 2321.51 L1857.23 2321.51 L1858.23 2321.52 L1859.23 2321.53 L1860.23 2321.54 L1861.23 2321.54 L1862.23 2321.55 L1863.23 2321.56 L1864.23 2321.56 L1865.23 2321.56 L1866.23 2321.56 L1867.23 2321.56 L1868.23 2321.56 L1869.23 2321.55 L1870.23 2321.55 L1871.23 2321.55 L1872.23 2321.55 L1873.23 2321.55 L1874.23 2321.54 L1875.23 2321.53 L1876.23 2321.52 L1877.23 2321.51 L1878.23 2321.5 L1879.23 2321.48 L1880.23 2321.47 L1881.23 2321.46 L1882.23 2321.44 L1883.23 2321.43 L1884.23 2321.42 L1885.23 2321.4 L1886.23 2321.37 L1887.23 2321.35 L1888.23 2321.32 L1889.23 2321.29 L1890.23 2321.26 L1891.23 2321.24 L1892.23 2321.21 L1893.23 2321.18 L1894.22 2321.15 L1895.22 2321.12 L1896.22 2321.09 L1897.22 2321.05 L1898.22 2321 L1899.22 2320.96 L1900.22 2320.91 L1901.22 2320.86 L1902.22 2320.82 L1903.22 2320.77 L1904.22 2320.72 L1905.21 2320.67 L1906.21 2320.63 L1907.21 2320.57 L1908.21 2320.52 L1909.21 2320.45 L1910.21 2320.38 L1911.2 2320.32 L1912.2 2320.25 L1913.2 2320.18 L1914.2 2320.11 L1915.19 2320.04 L1916.19 2319.97 L1917.19 2319.89 L1918.19 2319.82 L1919.18 2319.74 L1920.18 2319.65 L1921.17 2319.56 L1922.17 2319.46 L1923.16 2319.36 L1924.16 2319.27 L1925.15 2319.17 L1926.15 2319.07 L1927.15 2318.98 L1928.14 2318.88 L1929.14 2318.77 L1930.13 2318.66 L1931.12 2318.54 L1932.11 2318.42 L1933.1 2318.29 L1934.1 2318.16 L1935.09 2318.02 L1936.08 2317.89 L1937.07 2317.76 L1938.06 2317.63 L1939.05 2317.5 L1940.04 2317.36 L1941.03 2317.22 L1942.02 2317.07 L1943.01 2316.92 L1944 2316.76 L1944.98 2316.6 L1945.97 2316.43 L1946.96 2316.27 L1947.94 2316.11 L1948.93 2315.95 L1949.92 2315.78 L1950.9 2315.62 L1951.89 2315.46 L1952.88 2315.29 L1953.86 2315.12 L1954.85 2314.94 L1955.83 2314.76 L1956.81 2314.57 L1957.79 2314.39 L1958.78 2314.21 L1959.76 2314.02 L1960.74 2313.84 L1961.73 2313.65 L1962.71 2313.47 L1963.69 2313.28 L1964.67 2313.1 L1965.66 2312.91 L1966.64 2312.72 L1967.62 2312.52 L1968.6 2312.32 L1969.58 2312.12 L1970.56 2311.92 L1971.54 2311.72 L1972.52 2311.52 L1973.5 2311.32 L1974.48 2311.12 L1975.46 2310.92 L1976.44 2310.72 L1977.41 2310.51 L1978.39 2310.31 L1979.37 2310.1 L1980.35 2309.89 L1981.33 2309.68 L1982.3 2309.47 L1983.28 2309.26 L1984.26 2309.05 L1985.24 2308.83 L1986.21 2308.62 L1987.19 2308.41 L1988.17 2308.2 L1989.14 2307.98 L1990.12 2307.77 L1991.1 2307.56 L1992.07 2307.34 L1993.05 2307.12 L1994.03 2306.9 L1995 2306.68 L1995.98 2306.46 L1996.95 2306.24 L1997.93 2306.02 L1998.9 2305.8 L1999.88 2305.58 L2000.85 2305.36 L2001.83 2305.14 L2002.8 2304.91 L2003.78 2304.69 L2004.75 2304.47 L2005.73 2304.24 L2006.7 2304.02 L2007.68 2303.79 L2008.65 2303.57 L2009.62 2303.34 L2010.6 2303.11 L2011.57 2302.89 L2012.55 2302.66 L2013.52 2302.44 L2014.5 2302.21 L2015.47 2301.98 L2016.44 2301.76 L2017.42 2301.53 L2018.39 2301.3 L2019.37 2301.08 L2020.34 2300.85 L2021.31 2300.62 L2022.29 2300.39 L2023.26 2300.17 L2024.23 2299.94 L2025.21 2299.72 L2026.18 2299.49 L2027.16 2299.27 L2028.13 2299.04 L2029.11 2298.82 L2030.08 2298.6 L2031.06 2298.37 L2032.03 2298.15 L2033.01 2297.93 L2033.98 2297.72 L2034.96 2297.5 L2035.93 2297.29 L2036.89 2297.09 L2037.77 2296.89 L2038.5 2296.74 L2039.36 2296.55" fill="none" stroke="#000000" stroke-width="7.4" stroke-linejoin="round" stroke-linecap="butt"/>
<line x1="424.4" y1="1296.7" x2="424.4" y2="2380.6" stroke="#000000" stroke-width="4.2" stroke-linecap="butt"/>
<line x1="2039.6" y1="1296.7" x2="2039.6" y2="2380.6" stroke="#000000" stroke-width="4.2" stroke-linecap="butt"/>
<line x1="422.3" y1="1298.3" x2="2041.7" y2="1298.3" stroke="#000000" stroke-width="3.2" stroke-linecap="butt"/>
<line x1="422.3" y1="2379" x2="2041.7" y2="2379" stroke="#000000" stroke-width="3.2" stroke-linecap="butt"/>
<line x1="401.1" y1="2379" x2="424.4" y2="2379" stroke="#000000" stroke-width="3.2" stroke-linecap="butt"/>
<line x1="412.5" y1="2318.96" x2="424.4" y2="2318.96" stroke="#000000" stroke-width="3.2" stroke-linecap="butt"/>
<line x1="401.1" y1="2258.92" x2="424.4" y2="2258.92" stroke="#000000" stroke-width="3.2" stroke-linecap="butt"/>
<line x1="412.5" y1="2198.88" x2="424.4" y2="2198.88" stroke="#000000" stroke-width="3.2" stroke-linecap="butt"/>
<line x1="401.1" y1="2138.84" x2="424.4" y2="2138.84" stroke="#000000" stroke-width="3.2" stroke-linecap="butt"/>
<line x1="412.5" y1="2078.81" x2="424.4" y2="2078.81" stroke="#000000" stroke-width="3.2" stroke-linecap="butt"/>
<line x1="401.1" y1="2018.77" x2="424.4" y2="2018.77" stroke="#000000" stroke-width="3.2" stroke-linecap="butt"/>
<line x1="412.5" y1="1958.73" x2="424.4" y2="1958.73" stroke="#000000" stroke-width="3.2" stroke-linecap="butt"/>
<line x1="401.1" y1="1898.69" x2="424.4" y2="1898.69" stroke="#000000" stroke-width="3.2" stroke-linecap="butt"/>
<line x1="412.5" y1="1838.65" x2="424.4" y2="1838.65" stroke="#000000" stroke-width="3.2" stroke-linecap="butt"/>
<line x1="401.1" y1="1778.61" x2="424.4" y2="1778.61" stroke="#000000" stroke-width="3.2" stroke-linecap="butt"/>
<line x1="412.5" y1="1718.57" x2="424.4" y2="1718.57" stroke="#000000" stroke-width="3.2" stroke-linecap="butt"/>
<line x1="401.1" y1="1658.53" x2="424.4" y2="1658.53" stroke="#000000" stroke-width="3.2" stroke-linecap="butt"/>
<line x1="412.5" y1="1598.49" x2="424.4" y2="1598.49" stroke="#000000" stroke-width="3.2" stroke-linecap="butt"/>
<line x1="401.1" y1="1538.46" x2="424.4" y2="1538.46" stroke="#000000" stroke-width="3.2" stroke-linecap="butt"/>
<line x1="412.5" y1="1478.42" x2="424.4" y2="1478.42" stroke="#000000" stroke-width="3.2" stroke-linecap="butt"/>
<line x1="401.1" y1="1418.38" x2="424.4" y2="1418.38" stroke="#000000" stroke-width="3.2" stroke-linecap="butt"/>
<line x1="412.5" y1="1358.34" x2="424.4" y2="1358.34" stroke="#000000" stroke-width="3.2" stroke-linecap="butt"/>
<line x1="401.1" y1="1298.3" x2="424.4" y2="1298.3" stroke="#000000" stroke-width="3.2" stroke-linecap="butt"/>
<line x1="424.4" y1="2379" x2="424.4" y2="2399.5" stroke="#000000" stroke-width="4" stroke-linecap="butt"/>
<line x1="539.77" y1="2379" x2="539.77" y2="2389" stroke="#000000" stroke-width="3.8" stroke-linecap="butt"/>
<line x1="655.14" y1="2379" x2="655.14" y2="2399.5" stroke="#000000" stroke-width="4" stroke-linecap="butt"/>
<line x1="770.51" y1="2379" x2="770.51" y2="2389" stroke="#000000" stroke-width="3.8" stroke-linecap="butt"/>
<line x1="885.89" y1="2379" x2="885.89" y2="2399.5" stroke="#000000" stroke-width="4" stroke-linecap="butt"/>
<line x1="1001.26" y1="2379" x2="1001.26" y2="2389" stroke="#000000" stroke-width="3.8" stroke-linecap="butt"/>
<line x1="1116.63" y1="2379" x2="1116.63" y2="2399.5" stroke="#000000" stroke-width="4" stroke-linecap="butt"/>
<line x1="1232" y1="2379" x2="1232" y2="2389" stroke="#000000" stroke-width="3.8" stroke-linecap="butt"/>
<line x1="1347.37" y1="2379" x2="1347.37" y2="2399.5" stroke="#000000" stroke-width="4" stroke-linecap="butt"/>
<line x1="1462.74" y1="2379" x2="1462.74" y2="2389" stroke="#000000" stroke-width="3.8" stroke-linecap="butt"/>
<line x1="1578.11" y1="2379" x2="1578.11" y2="2399.5" stroke="#000000" stroke-width="4" stroke-linecap="butt"/>
<line x1="1693.49" y1="2379" x2="1693.49" y2="2389" stroke="#000000" stroke-width="3.8" stroke-linecap="butt"/>
<line x1="1808.86" y1="2379" x2="1808.86" y2="2399.5" stroke="#000000" stroke-width="4" stroke-linecap="butt"/>
<line x1="1924.23" y1="2379" x2="1924.23" y2="2389" stroke="#000000" stroke-width="3.8" stroke-linecap="butt"/>
<line x1="2039.6" y1="2379" x2="2039.6" y2="2399.5" stroke="#000000" stroke-width="4" stroke-linecap="butt"/>
<text transform="translate(347.42,2397.62) scale(1.1100,1)" font-size="69" fill="#000000" stroke="#fff" stroke-width="0.7">0</text>
<text transform="translate(213.39,2277.55) scale(1.1100,1)" font-size="69" fill="#000000" stroke="#fff" stroke-width="0.7">2,000</text>
<text transform="translate(213.39,2157.47) scale(1.1100,1)" font-size="69" fill="#000000" stroke="#fff" stroke-width="0.7">4,000</text>
<text transform="translate(213.39,2037.39) scale(1.1100,1)" font-size="69" fill="#000000" stroke="#fff" stroke-width="0.7">6,000</text>
<text transform="translate(213.39,1917.31) scale(1.1100,1)" font-size="69" fill="#000000" stroke="#fff" stroke-width="0.7">8,000</text>
<text transform="translate(175.09,1797.23) scale(1.1100,1)" font-size="69" fill="#000000" stroke="#fff" stroke-width="0.7">10,000</text>
<text transform="translate(175.09,1677.16) scale(1.1100,1)" font-size="69" fill="#000000" stroke="#fff" stroke-width="0.7">12,000</text>
<text transform="translate(175.09,1557.08) scale(1.1100,1)" font-size="69" fill="#000000" stroke="#fff" stroke-width="0.7">14,000</text>
<text transform="translate(175.09,1437) scale(1.1100,1)" font-size="69" fill="#000000" stroke="#fff" stroke-width="0.7">16,000</text>
<text transform="translate(175.09,1316.92) scale(1.1100,1)" font-size="69" fill="#000000" stroke="#fff" stroke-width="0.7">18,000</text>
<text transform="translate(365.07,2465.71) scale(1.1130,1)" font-size="70.2" fill="#000000" stroke="#fff" stroke-width="0.7">200</text>
<text transform="translate(595.66,2465.71) scale(1.1130,1)" font-size="70.2" fill="#000000" stroke="#fff" stroke-width="0.7">300</text>
<text transform="translate(827.51,2465.71) scale(1.1130,1)" font-size="70.2" fill="#000000" stroke="#fff" stroke-width="0.7">400</text>
<text transform="translate(1056.75,2465.71) scale(1.1130,1)" font-size="70.2" fill="#000000" stroke="#fff" stroke-width="0.7">500</text>
<text transform="translate(1288.08,2465.71) scale(1.1130,1)" font-size="70.2" fill="#000000" stroke="#fff" stroke-width="0.7">600</text>
<text transform="translate(1517.93,2465.71) scale(1.1130,1)" font-size="70.2" fill="#000000" stroke="#fff" stroke-width="0.7">700</text>
<text transform="translate(1749.76,2465.71) scale(1.1130,1)" font-size="70.2" fill="#000000" stroke="#fff" stroke-width="0.7">800</text>
<text transform="translate(1980.73,2465.71) scale(1.1130,1)" font-size="70.2" fill="#000000" stroke="#fff" stroke-width="0.7">900</text>
<text transform="translate(102.9,2195.32) rotate(-90) scale(0.9959,1)" font-size="103.5" fill="#000000" stroke="#fff" stroke-width="0.7">Intensity (arb. unit)</text>
<text transform="translate(832.6,2599.6) scale(1.1265,1)" font-size="95.5" fill="#000000" stroke="#fff" stroke-width="0.7">Raman</text>
<text transform="translate(1163.57,2599.6) scale(1.1058,1)" font-size="95.5" fill="#000000" stroke="#fff" stroke-width="0.7">shift</text>
<text transform="translate(1377.63,2598.82) scale(1.2583,1)" font-size="109.84" fill="#000000" stroke="#fff" stroke-width="0.7">(</text>
<text transform="translate(1419.94,2599.6) scale(1.1153,1)" font-size="95.5" fill="#000000" stroke="#fff" stroke-width="0.7">cm</text>
<text transform="translate(1548.28,2582.83) scale(0.8241,1)" font-size="100.39" fill="#000000" stroke="#fff" stroke-width="0.7">−</text>
<text transform="translate(1597.78,2555) scale(0.7979,1)" font-size="70.13" fill="#000000" stroke="#fff" stroke-width="0.7">1</text>
<text transform="translate(1630.1,2598.82) scale(1.1874,1)" font-size="109.84" fill="#000000" stroke="#fff" stroke-width="0.7">)</text>
<text transform="translate(14,1295.38)" font-size="118.45" fill="#000000" stroke="#fff" stroke-width="0.7">(b)</text>
<text transform="translate(1377.62,1409.03) scale(1.0436,1)" font-size="68.61" fill="#00A6F4" stroke="#fff" stroke-width="0.7">638</text>
<text transform="translate(727.58,1772.44) scale(1.0813,1)" font-size="68.02" fill="#00A6F4" stroke="#fff" stroke-width="0.7">340</text>
<text transform="translate(1819.13,1810.1) scale(1.1186,1)" font-size="54.83" fill="#00A6F4" stroke="#fff" stroke-width="0.7">Mn</text>
<text transform="translate(1902.56,1824.8) scale(1.2130,1)" font-size="36.4" fill="#00A6F4" stroke="#fff" stroke-width="0.7">2</text>
<text transform="translate(1923.79,1810.06) scale(1.1545,1)" font-size="55.07" fill="#00A6F4" stroke="#fff" stroke-width="0.7">O</text>
<text transform="translate(1968.48,1824.45) scale(1.0596,1)" font-size="35.87" fill="#00A6F4" stroke="#fff" stroke-width="0.7">3</text>
<text transform="translate(1663.58,2032.9) scale(1.1092,1)" font-size="54.8" fill="#FF0000" stroke="#fff" stroke-width="0.7">0.5Cu−Mn</text>
<text transform="translate(1929.26,2046.2) scale(1.2030,1)" font-size="36.7" fill="#FF0000" stroke="#fff" stroke-width="0.7">2</text>
<text transform="translate(1949.52,2032.95) scale(1.1668,1)" font-size="55.96" fill="#FF0000" stroke="#fff" stroke-width="0.7">O</text>
<text transform="translate(1995.61,2046.2) scale(0.9615,1)" font-size="36.92" fill="#FF0000" stroke="#fff" stroke-width="0.7">4</text>
<text transform="translate(1364.57,2114.38) scale(1.1425,1)" font-size="63.72" fill="#000000" stroke="#fff" stroke-width="0.7">620</text>
<text transform="translate(709.16,2111.15) scale(1.1054,1)" font-size="66.98" fill="#000000" stroke="#fff" stroke-width="0.7">330</text>
<text transform="translate(557.11,2325.35) scale(1.1171,1)" font-size="66.98" fill="#000000" stroke="#fff" stroke-width="0.7">280</text>
<text transform="translate(1868.49,2242.48) scale(1.1412,1)" font-size="53.58" fill="#000000" stroke="#fff" stroke-width="0.7">CuO</text>
</svg>
</body></html>
